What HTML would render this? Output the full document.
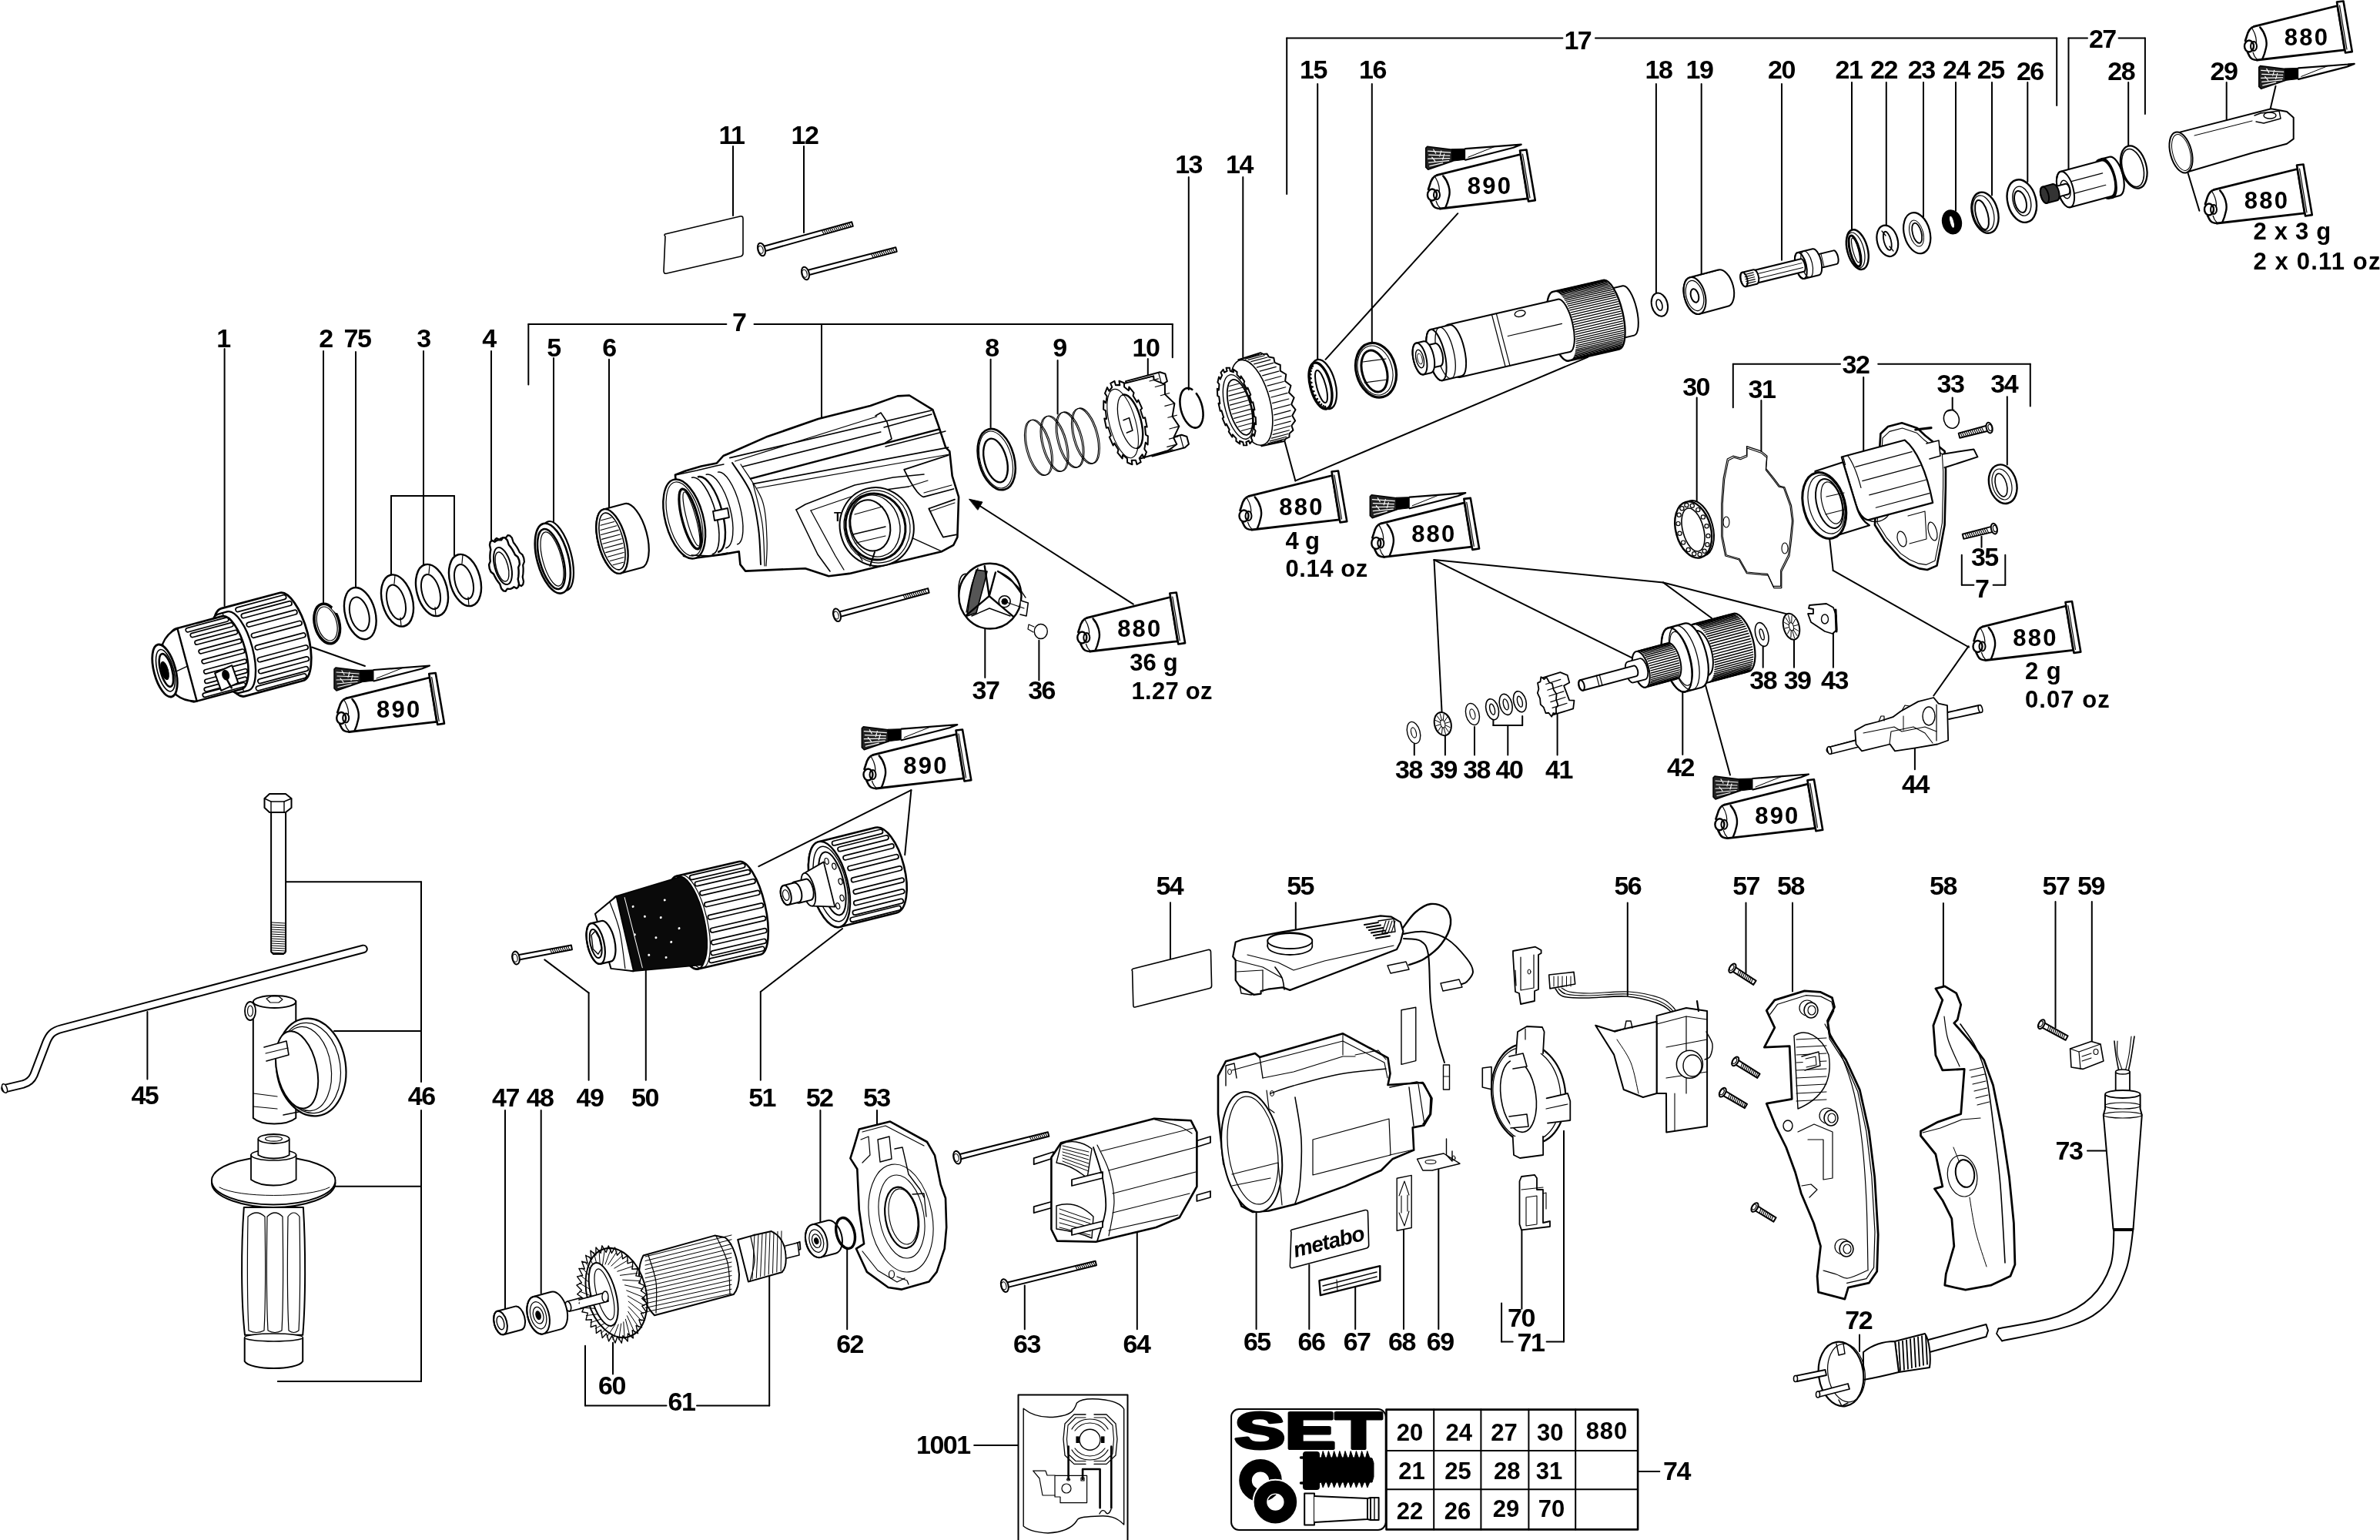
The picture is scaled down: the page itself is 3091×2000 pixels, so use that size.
<!DOCTYPE html>
<html><head><meta charset="utf-8"><style>
html,body{margin:0;padding:0;background:#fff;overflow:hidden}
svg{display:block;filter:grayscale(100%)}
text{font-family:"Liberation Sans",sans-serif}
</style></head><body>
<svg width="3091" height="2000" viewBox="0 0 3091 2000" stroke="#000" fill="none" stroke-linejoin="round" stroke-linecap="round">
<defs>
<symbol id="tube" overflow="visible">
 <path d="M-68.6,-24.6 L39.8,-51.5 L49.1,5.8 L-64.7,19" fill="none" stroke-width="2.8"/>
 <path d="M39,-56.5 L47.5,-57.5 L58.8,8.1 L50,9.5 Z" fill="#fff" stroke-width="2.6"/>
 <path d="M42.5,-52 L52,5" stroke-width="1.2"/>
 <path d="M-68.6,-24.6 C-73,-23.5 -76,-20 -78,-12 L-80,-6" fill="none" stroke-width="2.6"/>
 <path d="M-77,9 L-74.5,14 C-73,17 -70,19 -64.7,19" fill="none" stroke-width="2.6"/>
 <path d="M-60.8,-23.6 C-54,-16 -51,-5 -53,3 C-54.5,10 -56,14 -57.7,17.5" fill="none" stroke-width="2.4"/>
 <path d="M-71,-22 C-66,-14 -65,-6 -66,-2" fill="none" stroke-width="1.2"/>
 <path d="M-70,9 C-69,13 -67,16 -64.5,18.5" fill="none" stroke-width="1.2"/>
 <ellipse cx="-75" cy="1" rx="6" ry="7.5" fill="#fff" stroke-width="2.4"/>
 <ellipse cx="-69" cy="1" rx="4" ry="6" fill="none" stroke-width="2"/>
</symbol>
<symbol id="brush" overflow="visible">
 <path d="M0,2 L2,0 L34,4 L35,19 L3,30 L0,27 Z" fill="#222" stroke-width="1.5"/>
 <path d="M3,6 L32,8 M4,11 L31,12 M3,16 L31,15.5 M4,21 L30,18.5 M5,25.5 L22,21.5 M10,4 L13,9 M20,6 L18,13 M8,14 L12,19 M24,10 L22,17" stroke="#fff" stroke-width="1.2" fill="none"/>
 <path d="M34,3.5 L51.5,3 L51.5,17 L34.5,19 Z" fill="#000" stroke-width="1"/>
 <path d="M51.5,3 L124,-2.5 L113.8,1.5 L51.5,17.5" fill="#fff" stroke-width="2.2"/>
 <path d="M90,0 L55,14" fill="none" stroke-width="1"/>
</symbol>
</defs>
<rect x="0" y="0" width="3091" height="2000" fill="#fff" stroke="none"/>
<g class="lbl">
<text x="950" y="187" font-size="34" text-anchor="middle" letter-spacing="-1.5" font-weight="bold" stroke="none" fill="#000" >11</text>
<text x="1045" y="187" font-size="34" text-anchor="middle" letter-spacing="-1.5" font-weight="bold" stroke="none" fill="#000" >12</text>
<text x="1543.6" y="225" font-size="34" text-anchor="middle" letter-spacing="-1.5" font-weight="bold" stroke="none" fill="#000" >13</text>
<text x="1609.5" y="225" font-size="34" text-anchor="middle" letter-spacing="-1.5" font-weight="bold" stroke="none" fill="#000" >14</text>
<text x="1705.4" y="102.4" font-size="34" text-anchor="middle" letter-spacing="-1.5" font-weight="bold" stroke="none" fill="#000" >15</text>
<text x="1782.4" y="102.4" font-size="34" text-anchor="middle" letter-spacing="-1.5" font-weight="bold" stroke="none" fill="#000" >16</text>
<text x="2048.8" y="63.5" font-size="34" text-anchor="middle" letter-spacing="-1.5" font-weight="bold" stroke="none" fill="#000" >17</text>
<text x="2154" y="102.4" font-size="34" text-anchor="middle" letter-spacing="-1.5" font-weight="bold" stroke="none" fill="#000" >18</text>
<text x="2207" y="102.4" font-size="34" text-anchor="middle" letter-spacing="-1.5" font-weight="bold" stroke="none" fill="#000" >19</text>
<text x="2313.5" y="102.4" font-size="34" text-anchor="middle" letter-spacing="-1.5" font-weight="bold" stroke="none" fill="#000" >20</text>
<text x="2401" y="101.6" font-size="34" text-anchor="middle" letter-spacing="-1.5" font-weight="bold" stroke="none" fill="#000" >21</text>
<text x="2446.5" y="101.6" font-size="34" text-anchor="middle" letter-spacing="-1.5" font-weight="bold" stroke="none" fill="#000" >22</text>
<text x="2495.2" y="101.6" font-size="34" text-anchor="middle" letter-spacing="-1.5" font-weight="bold" stroke="none" fill="#000" >23</text>
<text x="2540.4" y="101.6" font-size="34" text-anchor="middle" letter-spacing="-1.5" font-weight="bold" stroke="none" fill="#000" >24</text>
<text x="2585.2" y="101.6" font-size="34" text-anchor="middle" letter-spacing="-1.5" font-weight="bold" stroke="none" fill="#000" >25</text>
<text x="2636.3" y="104" font-size="34" text-anchor="middle" letter-spacing="-1.5" font-weight="bold" stroke="none" fill="#000" >26</text>
<text x="2730.3" y="62" font-size="34" text-anchor="middle" letter-spacing="-1.5" font-weight="bold" stroke="none" fill="#000" >27</text>
<text x="2754.7" y="104" font-size="34" text-anchor="middle" letter-spacing="-1.5" font-weight="bold" stroke="none" fill="#000" >28</text>
<text x="2887.9" y="104" font-size="34" text-anchor="middle" letter-spacing="-1.5" font-weight="bold" stroke="none" fill="#000" >29</text>
<text x="290" y="450.6" font-size="34" text-anchor="middle" letter-spacing="-1.5" font-weight="bold" stroke="none" fill="#000" >1</text>
<text x="423" y="450.6" font-size="34" text-anchor="middle" letter-spacing="-1.5" font-weight="bold" stroke="none" fill="#000" >2</text>
<text x="464" y="450.6" font-size="34" text-anchor="middle" letter-spacing="-1.5" font-weight="bold" stroke="none" fill="#000" >75</text>
<text x="550" y="450.6" font-size="34" text-anchor="middle" letter-spacing="-1.5" font-weight="bold" stroke="none" fill="#000" >3</text>
<text x="635" y="450.6" font-size="34" text-anchor="middle" letter-spacing="-1.5" font-weight="bold" stroke="none" fill="#000" >4</text>
<text x="719" y="462.5" font-size="34" text-anchor="middle" letter-spacing="-1.5" font-weight="bold" stroke="none" fill="#000" >5</text>
<text x="791" y="462.5" font-size="34" text-anchor="middle" letter-spacing="-1.5" font-weight="bold" stroke="none" fill="#000" >6</text>
<text x="959.6" y="430" font-size="34" text-anchor="middle" letter-spacing="-1.5" font-weight="bold" stroke="none" fill="#000" >7</text>
<text x="1288" y="462.5" font-size="34" text-anchor="middle" letter-spacing="-1.5" font-weight="bold" stroke="none" fill="#000" >8</text>
<text x="1376" y="462.5" font-size="34" text-anchor="middle" letter-spacing="-1.5" font-weight="bold" stroke="none" fill="#000" >9</text>
<text x="1488" y="462.5" font-size="34" text-anchor="middle" letter-spacing="-1.5" font-weight="bold" stroke="none" fill="#000" >10</text>
<text x="2202.6" y="514" font-size="34" text-anchor="middle" letter-spacing="-1.5" font-weight="bold" stroke="none" fill="#000" >30</text>
<text x="2288" y="517" font-size="34" text-anchor="middle" letter-spacing="-1.5" font-weight="bold" stroke="none" fill="#000" >31</text>
<text x="2410" y="485" font-size="34" text-anchor="middle" letter-spacing="-1.5" font-weight="bold" stroke="none" fill="#000" >32</text>
<text x="2533" y="510" font-size="34" text-anchor="middle" letter-spacing="-1.5" font-weight="bold" stroke="none" fill="#000" >33</text>
<text x="2602.7" y="510" font-size="34" text-anchor="middle" letter-spacing="-1.5" font-weight="bold" stroke="none" fill="#000" >34</text>
<text x="2577.3" y="735" font-size="34" text-anchor="middle" letter-spacing="-1.5" font-weight="bold" stroke="none" fill="#000" >35</text>
<text x="2573.8" y="776" font-size="34" text-anchor="middle" letter-spacing="-1.5" font-weight="bold" stroke="none" fill="#000" >7</text>
<text x="1280" y="908" font-size="34" text-anchor="middle" letter-spacing="-1.5" font-weight="bold" stroke="none" fill="#000" >37</text>
<text x="1352.6" y="908" font-size="34" text-anchor="middle" letter-spacing="-1.5" font-weight="bold" stroke="none" fill="#000" >36</text>
<text x="1829.4" y="1011" font-size="34" text-anchor="middle" letter-spacing="-1.5" font-weight="bold" stroke="none" fill="#000" >38</text>
<text x="1874.4" y="1011" font-size="34" text-anchor="middle" letter-spacing="-1.5" font-weight="bold" stroke="none" fill="#000" >39</text>
<text x="1917.6" y="1011" font-size="34" text-anchor="middle" letter-spacing="-1.5" font-weight="bold" stroke="none" fill="#000" >38</text>
<text x="1960" y="1011" font-size="34" text-anchor="middle" letter-spacing="-1.5" font-weight="bold" stroke="none" fill="#000" >40</text>
<text x="2024.4" y="1011" font-size="34" text-anchor="middle" letter-spacing="-1.5" font-weight="bold" stroke="none" fill="#000" >41</text>
<text x="2182.5" y="1008" font-size="34" text-anchor="middle" letter-spacing="-1.5" font-weight="bold" stroke="none" fill="#000" >42</text>
<text x="2289.7" y="894.7" font-size="34" text-anchor="middle" letter-spacing="-1.5" font-weight="bold" stroke="none" fill="#000" >38</text>
<text x="2334.1" y="894.7" font-size="34" text-anchor="middle" letter-spacing="-1.5" font-weight="bold" stroke="none" fill="#000" >39</text>
<text x="2382.4" y="894.7" font-size="34" text-anchor="middle" letter-spacing="-1.5" font-weight="bold" stroke="none" fill="#000" >43</text>
<text x="2487.4" y="1029.6" font-size="34" text-anchor="middle" letter-spacing="-1.5" font-weight="bold" stroke="none" fill="#000" >44</text>
<text x="187.8" y="1433.7" font-size="34" text-anchor="middle" letter-spacing="-1.5" font-weight="bold" stroke="none" fill="#000" >45</text>
<text x="547.2" y="1435" font-size="34" text-anchor="middle" letter-spacing="-1.5" font-weight="bold" stroke="none" fill="#000" >46</text>
<text x="656.5" y="1436.5" font-size="34" text-anchor="middle" letter-spacing="-1.5" font-weight="bold" stroke="none" fill="#000" >47</text>
<text x="701.1" y="1436.5" font-size="34" text-anchor="middle" letter-spacing="-1.5" font-weight="bold" stroke="none" fill="#000" >48</text>
<text x="766" y="1436.5" font-size="34" text-anchor="middle" letter-spacing="-1.5" font-weight="bold" stroke="none" fill="#000" >49</text>
<text x="837.5" y="1436.5" font-size="34" text-anchor="middle" letter-spacing="-1.5" font-weight="bold" stroke="none" fill="#000" >50</text>
<text x="989.6" y="1436.5" font-size="34" text-anchor="middle" letter-spacing="-1.5" font-weight="bold" stroke="none" fill="#000" >51</text>
<text x="1064.1" y="1436.5" font-size="34" text-anchor="middle" letter-spacing="-1.5" font-weight="bold" stroke="none" fill="#000" >52</text>
<text x="1138.3" y="1436.5" font-size="34" text-anchor="middle" letter-spacing="-1.5" font-weight="bold" stroke="none" fill="#000" >53</text>
<text x="1518.8" y="1162.4" font-size="34" text-anchor="middle" letter-spacing="-1.5" font-weight="bold" stroke="none" fill="#000" >54</text>
<text x="1688.6" y="1162.4" font-size="34" text-anchor="middle" letter-spacing="-1.5" font-weight="bold" stroke="none" fill="#000" >55</text>
<text x="2113.8" y="1161.6" font-size="34" text-anchor="middle" letter-spacing="-1.5" font-weight="bold" stroke="none" fill="#000" >56</text>
<text x="2267.6" y="1161.6" font-size="34" text-anchor="middle" letter-spacing="-1.5" font-weight="bold" stroke="none" fill="#000" >57</text>
<text x="2325.5" y="1161.6" font-size="34" text-anchor="middle" letter-spacing="-1.5" font-weight="bold" stroke="none" fill="#000" >58</text>
<text x="2523.4" y="1161.6" font-size="34" text-anchor="middle" letter-spacing="-1.5" font-weight="bold" stroke="none" fill="#000" >58</text>
<text x="2670" y="1162" font-size="34" text-anchor="middle" letter-spacing="-1.5" font-weight="bold" stroke="none" fill="#000" >57</text>
<text x="2715.4" y="1162" font-size="34" text-anchor="middle" letter-spacing="-1.5" font-weight="bold" stroke="none" fill="#000" >59</text>
<text x="2687" y="1506.4" font-size="34" text-anchor="middle" letter-spacing="-1.5" font-weight="bold" stroke="none" fill="#000" >73</text>
<text x="794.4" y="1810.5" font-size="34" text-anchor="middle" letter-spacing="-1.5" font-weight="bold" stroke="none" fill="#000" >60</text>
<text x="884.9" y="1832.3" font-size="34" text-anchor="middle" letter-spacing="-1.5" font-weight="bold" stroke="none" fill="#000" >61</text>
<text x="1103.6" y="1756.5" font-size="34" text-anchor="middle" letter-spacing="-1.5" font-weight="bold" stroke="none" fill="#000" >62</text>
<text x="1333.4" y="1756.5" font-size="34" text-anchor="middle" letter-spacing="-1.5" font-weight="bold" stroke="none" fill="#000" >63</text>
<text x="1475.9" y="1756.5" font-size="34" text-anchor="middle" letter-spacing="-1.5" font-weight="bold" stroke="none" fill="#000" >64</text>
<text x="1632.3" y="1753.7" font-size="34" text-anchor="middle" letter-spacing="-1.5" font-weight="bold" stroke="none" fill="#000" >65</text>
<text x="1703" y="1753.7" font-size="34" text-anchor="middle" letter-spacing="-1.5" font-weight="bold" stroke="none" fill="#000" >66</text>
<text x="1762.1" y="1753.7" font-size="34" text-anchor="middle" letter-spacing="-1.5" font-weight="bold" stroke="none" fill="#000" >67</text>
<text x="1820.5" y="1753.7" font-size="34" text-anchor="middle" letter-spacing="-1.5" font-weight="bold" stroke="none" fill="#000" >68</text>
<text x="1870.2" y="1753.7" font-size="34" text-anchor="middle" letter-spacing="-1.5" font-weight="bold" stroke="none" fill="#000" >69</text>
<text x="1975.4" y="1723" font-size="34" text-anchor="middle" letter-spacing="-1.5" font-weight="bold" stroke="none" fill="#000" >70</text>
<text x="1988" y="1755" font-size="34" text-anchor="middle" letter-spacing="-1.5" font-weight="bold" stroke="none" fill="#000" >71</text>
<text x="2413.7" y="1726" font-size="34" text-anchor="middle" letter-spacing="-1.5" font-weight="bold" stroke="none" fill="#000" >72</text>
<text x="1224.8" y="1888.3" font-size="34" text-anchor="middle" letter-spacing="-1.5" font-weight="bold" stroke="none" fill="#000" >1001</text>
<text x="2177.4" y="1922.3" font-size="34" text-anchor="middle" letter-spacing="-1.5" font-weight="bold" stroke="none" fill="#000" >74</text>
<text x="1669.4" y="713.3" font-size="31" text-anchor="start" letter-spacing="0" font-weight="bold" stroke="none" fill="#000" textLength="44.6" lengthAdjust="spacing">4 g</text>
<text x="1669.4" y="748.6" font-size="31" text-anchor="start" letter-spacing="0" font-weight="bold" stroke="none" fill="#000" textLength="106.9" lengthAdjust="spacing">0.14 oz</text>
<text x="1467.2" y="870.6" font-size="31" text-anchor="start" letter-spacing="0" font-weight="bold" stroke="none" fill="#000" textLength="62.5" lengthAdjust="spacing">36 g</text>
<text x="1469.6" y="908" font-size="31" text-anchor="start" letter-spacing="0" font-weight="bold" stroke="none" fill="#000" textLength="104.9" lengthAdjust="spacing">1.27 oz</text>
<text x="2630" y="882" font-size="31" text-anchor="start" letter-spacing="0" font-weight="bold" stroke="none" fill="#000" textLength="46.7" lengthAdjust="spacing">2 g</text>
<text x="2630" y="919" font-size="31" text-anchor="start" letter-spacing="0" font-weight="bold" stroke="none" fill="#000" textLength="109.7" lengthAdjust="spacing">0.07 oz</text>
<text x="2926.4" y="311" font-size="31" text-anchor="start" letter-spacing="0" font-weight="bold" stroke="none" fill="#000" textLength="100.7" lengthAdjust="spacing">2 x 3 g</text>
<text x="2926.4" y="350" font-size="31" text-anchor="start" letter-spacing="0" font-weight="bold" stroke="none" fill="#000" textLength="165.0" lengthAdjust="spacing">2 x 0.11 oz</text>
</g>
<line x1="952" y1="190" x2="952" y2="280" stroke-width="2" />
<line x1="1044" y1="190" x2="1044" y2="302" stroke-width="2" />
<line x1="1543.8" y1="230" x2="1543.8" y2="505.9" stroke-width="2" />
<line x1="1614.3" y1="230" x2="1614.3" y2="464" stroke-width="2" />
<line x1="1711.2" y1="109" x2="1711.2" y2="468" stroke-width="2" />
<line x1="1781.8" y1="109" x2="1781.8" y2="446.6" stroke-width="2" />
<line x1="2150.9" y1="109" x2="2150.9" y2="380.6" stroke-width="2" />
<line x1="2209.7" y1="109" x2="2209.7" y2="357.9" stroke-width="2" />
<line x1="2314" y1="109" x2="2314" y2="337.7" stroke-width="2" />
<line x1="2405" y1="107" x2="2405" y2="297.6" stroke-width="2" />
<line x1="2449.8" y1="107" x2="2449.8" y2="293.9" stroke-width="2" />
<line x1="2498" y1="107" x2="2498" y2="281.2" stroke-width="2" />
<line x1="2540" y1="107" x2="2540" y2="273.7" stroke-width="2" />
<line x1="2587" y1="107" x2="2587" y2="253.5" stroke-width="2" />
<line x1="2633.3" y1="107" x2="2633.3" y2="235.9" stroke-width="2" />
<line x1="2764.2" y1="107" x2="2764.2" y2="190.5" stroke-width="2" />
<line x1="2891.7" y1="107" x2="2891.7" y2="155.2" stroke-width="2" />
<line x1="1671.2" y1="49.5" x2="2029.4" y2="49.5" stroke-width="2" />
<line x1="2072" y1="49.5" x2="2671.2" y2="49.5" stroke-width="2" />
<line x1="1671.2" y1="49.5" x2="1671.2" y2="252" stroke-width="2" />
<line x1="2671.2" y1="49.5" x2="2671.2" y2="137" stroke-width="2" />
<line x1="2686.5" y1="49.5" x2="2711" y2="49.5" stroke-width="2" />
<line x1="2751.6" y1="49.5" x2="2785.9" y2="49.5" stroke-width="2" />
<line x1="2686.5" y1="49.5" x2="2686.5" y2="219.5" stroke-width="2" />
<line x1="2785.9" y1="49.5" x2="2785.9" y2="148" stroke-width="2" />
<line x1="2955.5" y1="111.8" x2="2947.2" y2="147.6" stroke-width="2" />
<line x1="2835" y1="203" x2="2856.4" y2="273.7" stroke-width="2" />
<line x1="291.6" y1="453" x2="291.6" y2="787" stroke-width="2" />
<line x1="420" y1="456" x2="420" y2="784" stroke-width="2" />
<line x1="462" y1="457" x2="462" y2="764" stroke-width="2" />
<line x1="550" y1="456" x2="550" y2="735" stroke-width="2" />
<line x1="508" y1="644" x2="590" y2="644" stroke-width="2" />
<line x1="508" y1="644" x2="508" y2="748" stroke-width="2" />
<line x1="590" y1="644" x2="590" y2="722" stroke-width="2" />
<line x1="638" y1="456" x2="638" y2="705" stroke-width="2" />
<line x1="719" y1="465" x2="719" y2="677.3" stroke-width="2" />
<line x1="791" y1="466.8" x2="791" y2="658.4" stroke-width="2" />
<line x1="686.3" y1="421" x2="943.4" y2="421" stroke-width="2" />
<line x1="979.5" y1="421" x2="1522.8" y2="421" stroke-width="2" />
<line x1="686.3" y1="421" x2="686.3" y2="499.6" stroke-width="2" />
<line x1="1522.8" y1="421" x2="1522.8" y2="464.3" stroke-width="2" />
<line x1="1067" y1="421" x2="1067" y2="542.4" stroke-width="2" />
<line x1="1286.6" y1="466.8" x2="1286.6" y2="555" stroke-width="2" />
<line x1="1373.6" y1="468" x2="1373.6" y2="537.4" stroke-width="2" />
<line x1="1490.8" y1="466" x2="1490.8" y2="504.6" stroke-width="2" />
<line x1="1893.3" y1="277.2" x2="1721.5" y2="466.8" stroke-width="2" />
<line x1="1666" y1="563.9" x2="1682.4" y2="624.4" stroke-width="2" />
<line x1="1682.4" y1="624.4" x2="2062" y2="463.8" stroke-width="2" />
<line x1="1471.8" y1="784.7" x2="1262" y2="650.3" stroke-width="2" />
<line x1="405" y1="840.5" x2="474" y2="865" stroke-width="2" />
<line x1="2203.7" y1="516.5" x2="2203.7" y2="654" stroke-width="2" />
<line x1="2287.4" y1="520" x2="2287.4" y2="586" stroke-width="2" />
<line x1="2420.2" y1="490" x2="2420.2" y2="586" stroke-width="2" />
<line x1="2250.8" y1="472.8" x2="2390" y2="472.8" stroke-width="2" />
<line x1="2439.2" y1="472.8" x2="2636.8" y2="472.8" stroke-width="2" />
<line x1="2250.8" y1="472.8" x2="2250.8" y2="529.2" stroke-width="2" />
<line x1="2636.8" y1="472.8" x2="2636.8" y2="527.4" stroke-width="2" />
<line x1="2535.7" y1="516.6" x2="2535.7" y2="533" stroke-width="2" />
<line x1="2606.8" y1="515.3" x2="2606.8" y2="603.5" stroke-width="2" />
<line x1="2573.5" y1="696.8" x2="2573.5" y2="710.7" stroke-width="2" />
<line x1="2547.8" y1="720.7" x2="2547.8" y2="759.8" stroke-width="2" />
<line x1="2547.8" y1="759.8" x2="2563.4" y2="759.8" stroke-width="2" />
<line x1="2588.6" y1="759.8" x2="2604.3" y2="759.8" stroke-width="2" />
<line x1="2604.3" y1="720.7" x2="2604.3" y2="759.8" stroke-width="2" />
<line x1="2371.8" y1="660.2" x2="2380.7" y2="740.9" stroke-width="2" />
<line x1="2380.7" y1="740.9" x2="2557" y2="840.5" stroke-width="2" />
<line x1="2556.7" y1="839.2" x2="2511.3" y2="903.5" stroke-width="2" />
<line x1="1862.5" y1="727.1" x2="1872.6" y2="925" stroke-width="2" />
<line x1="1862.5" y1="727.1" x2="2119.6" y2="854.4" stroke-width="2" />
<line x1="1862.5" y1="727.1" x2="2160" y2="756.5" stroke-width="2" />
<line x1="2160" y1="756.5" x2="2223" y2="802.7" stroke-width="2" />
<line x1="2160" y1="756.5" x2="2326.5" y2="798.9" stroke-width="2" />
<line x1="1836.8" y1="965.4" x2="1836.8" y2="980.5" stroke-width="2" />
<line x1="1876.9" y1="955.3" x2="1876.9" y2="980.5" stroke-width="2" />
<line x1="1915" y1="944" x2="1915" y2="980.5" stroke-width="2" />
<line x1="1958.3" y1="942" x2="1958.3" y2="980.5" stroke-width="2" />
<line x1="1939.4" y1="942" x2="1977.2" y2="942" stroke-width="2" />
<line x1="1939.4" y1="942" x2="1939.4" y2="935" stroke-width="2" />
<line x1="1977.2" y1="942" x2="1977.2" y2="930" stroke-width="2" />
<line x1="2022.6" y1="925" x2="2022.6" y2="980.5" stroke-width="2" />
<line x1="2185.3" y1="881.5" x2="2185.3" y2="980" stroke-width="2" />
<line x1="2214.7" y1="888.8" x2="2247" y2="1006.5" stroke-width="2" />
<line x1="2289.7" y1="838.8" x2="2289.7" y2="866.8" stroke-width="2" />
<line x1="2330" y1="830" x2="2330" y2="866.8" stroke-width="2" />
<line x1="2380.9" y1="821.2" x2="2380.9" y2="866.8" stroke-width="2" />
<line x1="2486.9" y1="970.3" x2="2486.9" y2="999.3" stroke-width="2" />
<line x1="1279.3" y1="817.6" x2="1279.3" y2="880" stroke-width="2" />
<line x1="1349.4" y1="831.8" x2="1349.4" y2="883.5" stroke-width="2" />
<line x1="191.4" y1="1314" x2="191.4" y2="1401.6" stroke-width="2" />
<line x1="371.1" y1="1145.3" x2="547" y2="1145.3" stroke-width="2" />
<line x1="547" y1="1145.3" x2="547" y2="1405" stroke-width="2" />
<line x1="547" y1="1442" x2="547" y2="1794" stroke-width="2" />
<line x1="434" y1="1339" x2="547" y2="1339" stroke-width="2" />
<line x1="435.3" y1="1540.7" x2="547" y2="1540.7" stroke-width="2" />
<line x1="360.8" y1="1794" x2="547" y2="1794" stroke-width="2" />
<line x1="656" y1="1442" x2="656" y2="1702.8" stroke-width="2" />
<line x1="702.7" y1="1442" x2="702.7" y2="1679.6" stroke-width="2" />
<line x1="764.6" y1="1402.7" x2="764.6" y2="1289.4" stroke-width="2" />
<line x1="764.6" y1="1289.4" x2="707.3" y2="1246.4" stroke-width="2" />
<line x1="838.8" y1="1402.7" x2="838.8" y2="1258.1" stroke-width="2" />
<line x1="987.8" y1="1402.7" x2="987.8" y2="1288" stroke-width="2" />
<line x1="987.8" y1="1288" x2="1094.1" y2="1206" stroke-width="2" />
<line x1="1183.4" y1="1026.1" x2="985.4" y2="1125.2" stroke-width="2" />
<line x1="1183.4" y1="1026.1" x2="1175.2" y2="1110.2" stroke-width="2" />
<line x1="1065.4" y1="1442" x2="1065.4" y2="1586.4" stroke-width="2" />
<line x1="1139" y1="1442" x2="1139" y2="1459.8" stroke-width="2" />
<line x1="796" y1="1743.7" x2="796" y2="1784.6" stroke-width="2" />
<line x1="760" y1="1747.8" x2="760" y2="1825.5" stroke-width="2" />
<line x1="760" y1="1825.5" x2="865.5" y2="1825.5" stroke-width="2" />
<line x1="905" y1="1825.5" x2="999.2" y2="1825.5" stroke-width="2" />
<line x1="999.2" y1="1825.5" x2="999.2" y2="1653.7" stroke-width="2" />
<line x1="1100.2" y1="1621.7" x2="1100.2" y2="1726.3" stroke-width="2" />
<line x1="1330.8" y1="1669.6" x2="1330.8" y2="1726.3" stroke-width="2" />
<line x1="1476.8" y1="1598.5" x2="1476.8" y2="1726.3" stroke-width="2" />
<line x1="1631.6" y1="1574.9" x2="1631.6" y2="1726" stroke-width="2" />
<line x1="1700.3" y1="1642.7" x2="1700.3" y2="1726" stroke-width="2" />
<line x1="1760.2" y1="1671.9" x2="1760.2" y2="1726" stroke-width="2" />
<line x1="1823" y1="1597.4" x2="1823" y2="1726" stroke-width="2" />
<line x1="1868.3" y1="1518.5" x2="1868.3" y2="1726" stroke-width="2" />
<line x1="1976.4" y1="1597.4" x2="1976.4" y2="1699.7" stroke-width="2" />
<line x1="1950.1" y1="1692.4" x2="1950.1" y2="1742.6" stroke-width="2" />
<line x1="1950.1" y1="1742.6" x2="1964.7" y2="1742.6" stroke-width="2" />
<line x1="2008.6" y1="1742.6" x2="2031" y2="1742.6" stroke-width="2" />
<line x1="2031" y1="1742.6" x2="2031" y2="1468.8" stroke-width="2" />
<line x1="1520" y1="1172.2" x2="1520" y2="1244.7" stroke-width="2" />
<line x1="1682.8" y1="1172.2" x2="1682.8" y2="1205.9" stroke-width="2" />
<line x1="2113.8" y1="1172.4" x2="2113.8" y2="1292.7" stroke-width="2" />
<line x1="2267.5" y1="1172.4" x2="2267.5" y2="1263.7" stroke-width="2" />
<line x1="2328" y1="1172.4" x2="2328" y2="1287.6" stroke-width="2" />
<line x1="2523.9" y1="1173" x2="2523.9" y2="1281.3" stroke-width="2" />
<line x1="2669.5" y1="1171" x2="2669.5" y2="1334.5" stroke-width="2" />
<line x1="2716.8" y1="1171" x2="2716.8" y2="1352.7" stroke-width="2" />
<line x1="2711" y1="1494.5" x2="2736.4" y2="1494.5" stroke-width="2" />
<line x1="2415" y1="1733.6" x2="2415" y2="1755" stroke-width="2" />
<line x1="1265.2" y1="1877" x2="1322" y2="1877" stroke-width="2" />
<line x1="2127.1" y1="1910.9" x2="2155.3" y2="1910.9" stroke-width="2" />
<path d="M1258.9,648.3 L1276,652 L1270,662 Z" stroke-width="1" fill="#000" />
<use href="#tube" x="518.2" y="931.5"/>
<text x="518.2" y="931.5" font-size="31" text-anchor="middle" letter-spacing="2.2" font-weight="bold" stroke="none" fill="#000" >890</text>
<use href="#tube" x="1935" y="252"/>
<text x="1935" y="252" font-size="31" text-anchor="middle" letter-spacing="2.2" font-weight="bold" stroke="none" fill="#000" >890</text>
<use href="#tube" x="1690.5" y="669"/>
<text x="1690.5" y="669" font-size="31" text-anchor="middle" letter-spacing="2.2" font-weight="bold" stroke="none" fill="#000" >880</text>
<use href="#tube" x="1862.3" y="704.4"/>
<text x="1862.3" y="704.4" font-size="31" text-anchor="middle" letter-spacing="2.2" font-weight="bold" stroke="none" fill="#000" >880</text>
<use href="#tube" x="1480.3" y="827"/>
<text x="1480.3" y="827" font-size="31" text-anchor="middle" letter-spacing="2.2" font-weight="bold" stroke="none" fill="#000" >880</text>
<use href="#tube" x="1202.5" y="1005"/>
<text x="1202.5" y="1005" font-size="31" text-anchor="middle" letter-spacing="2.2" font-weight="bold" stroke="none" fill="#000" >890</text>
<use href="#tube" x="2308.4" y="1069.7"/>
<text x="2308.4" y="1069.7" font-size="31" text-anchor="middle" letter-spacing="2.2" font-weight="bold" stroke="none" fill="#000" >890</text>
<use href="#tube" x="2643.5" y="838.5"/>
<text x="2643.5" y="838.5" font-size="31" text-anchor="middle" letter-spacing="2.2" font-weight="bold" stroke="none" fill="#000" >880</text>
<use href="#tube" x="2996" y="59"/>
<text x="2996" y="59" font-size="31" text-anchor="middle" letter-spacing="2.2" font-weight="bold" stroke="none" fill="#000" >880</text>
<use href="#tube" x="2944" y="271"/>
<text x="2944" y="271" font-size="31" text-anchor="middle" letter-spacing="2.2" font-weight="bold" stroke="none" fill="#000" >880</text>
<use href="#brush" x="434" y="867"/>
<use href="#brush" x="1851.7" y="190.2"/>
<use href="#brush" x="1779.3" y="642.7"/>
<use href="#brush" x="1119.3" y="943.7"/>
<use href="#brush" x="2225" y="1008"/>
<use href="#brush" x="2933.7" y="85.4"/>
<g transform="translate(214,871) rotate(-15)">
<path d="M92,-59 L170,-59 A21.8,59 0 0 1 170,59 L92,59 A21.8,59 0 0 1 92,-59 Z" stroke-width="2.8" fill="#fff" />
<line x1="112.2" y1="-52.1" x2="174.2" y2="-52.1" stroke-width="7.5" />
<line x1="112.2" y1="-52.1" x2="174.2" y2="-52.1" stroke-width="4.1" stroke="#fff"/>
<line x1="117.2" y1="-42.4" x2="179.2" y2="-42.4" stroke-width="7.5" />
<line x1="117.2" y1="-42.4" x2="179.2" y2="-42.4" stroke-width="4.1" stroke="#fff"/>
<line x1="120.9" y1="-29.5" x2="182.9" y2="-29.5" stroke-width="7.5" />
<line x1="120.9" y1="-29.5" x2="182.9" y2="-29.5" stroke-width="4.1" stroke="#fff"/>
<line x1="123.2" y1="-14.3" x2="185.2" y2="-14.3" stroke-width="7.5" />
<line x1="123.2" y1="-14.3" x2="185.2" y2="-14.3" stroke-width="4.1" stroke="#fff"/>
<line x1="123.8" y1="2.1" x2="185.8" y2="2.1" stroke-width="7.5" />
<line x1="123.8" y1="2.1" x2="185.8" y2="2.1" stroke-width="4.1" stroke="#fff"/>
<line x1="122.8" y1="18.2" x2="184.8" y2="18.2" stroke-width="7.5" />
<line x1="122.8" y1="18.2" x2="184.8" y2="18.2" stroke-width="4.1" stroke="#fff"/>
<line x1="120.1" y1="33" x2="182.1" y2="33" stroke-width="7.5" />
<line x1="120.1" y1="33" x2="182.1" y2="33" stroke-width="4.1" stroke="#fff"/>
<line x1="116" y1="45.2" x2="178" y2="45.2" stroke-width="7.5" />
<line x1="116" y1="45.2" x2="178" y2="45.2" stroke-width="4.1" stroke="#fff"/>
<line x1="111.2" y1="53.5" x2="173.2" y2="53.5" stroke-width="7.5" />
<line x1="111.2" y1="53.5" x2="173.2" y2="53.5" stroke-width="4.1" stroke="#fff"/>
<path d="M86,-53 L98,-53 A19.6,53 0 0 1 98,53 L86,53 A19.6,53 0 0 1 86,-53 Z" stroke-width="2.4" fill="#fff" />
<line x1="92" y1="-53" x2="92" y2="53" stroke-width="1.2" />
<path d="M28,-49 L90,-49 A18.1,49 0 0 1 90,49 L28,49 A18.1,49 0 0 1 28,-49 Z" stroke-width="2.6" fill="#fff" />
<line x1="42.5" y1="-43.3" x2="94.5" y2="-43.3" stroke-width="7" />
<line x1="42.5" y1="-43.3" x2="94.5" y2="-43.3" stroke-width="3.6" stroke="#fff"/>
<line x1="46.6" y1="-35.2" x2="98.6" y2="-35.2" stroke-width="7" />
<line x1="46.6" y1="-35.2" x2="98.6" y2="-35.2" stroke-width="3.6" stroke="#fff"/>
<line x1="49.7" y1="-24.5" x2="101.7" y2="-24.5" stroke-width="7" />
<line x1="49.7" y1="-24.5" x2="101.7" y2="-24.5" stroke-width="3.6" stroke="#fff"/>
<line x1="51.6" y1="-11.9" x2="103.6" y2="-11.9" stroke-width="7" />
<line x1="51.6" y1="-11.9" x2="103.6" y2="-11.9" stroke-width="3.6" stroke="#fff"/>
<line x1="52.1" y1="1.7" x2="104.1" y2="1.7" stroke-width="7" />
<line x1="52.1" y1="1.7" x2="104.1" y2="1.7" stroke-width="3.6" stroke="#fff"/>
<line x1="51.2" y1="15.1" x2="103.2" y2="15.1" stroke-width="7" />
<line x1="51.2" y1="15.1" x2="103.2" y2="15.1" stroke-width="3.6" stroke="#fff"/>
<line x1="49" y1="27.4" x2="101" y2="27.4" stroke-width="7" />
<line x1="49" y1="27.4" x2="101" y2="27.4" stroke-width="3.6" stroke="#fff"/>
<line x1="45.7" y1="37.5" x2="97.7" y2="37.5" stroke-width="7" />
<line x1="45.7" y1="37.5" x2="97.7" y2="37.5" stroke-width="3.6" stroke="#fff"/>
<line x1="41.9" y1="44" x2="93.9" y2="44" stroke-width="7" />
<line x1="41.9" y1="44" x2="93.9" y2="44" stroke-width="3.6" stroke="#fff"/>
<path d="M62,20 L86,16 L88,40 L64,44 Z" stroke-width="2" fill="#fff" />
<ellipse cx="75" cy="26" rx="4" ry="6" stroke-width="1.8" fill="#000" />
<line x1="75" y1="32" x2="78" y2="44" stroke-width="2.5" />
<path d="M6,-34 C12,-42 20,-47 30,-49 L30,49 C20,47 12,42 6,34 Z" stroke-width="2.4" fill="#fff" />
<line x1="8" y1="6" x2="30" y2="2" stroke-width="1.4" />
<ellipse cx="0" cy="0" rx="14" ry="35" stroke-width="2.8" fill="#fff" />
<ellipse cx="1" cy="0" rx="10.5" ry="28" stroke-width="1.6" fill="none" />
<ellipse cx="2" cy="0" rx="7.5" ry="22" stroke-width="2.6" fill="none" />
<ellipse cx="0" cy="0" rx="4.5" ry="12" stroke-width="1" fill="#000" />
</g>
<ellipse cx="424.7" cy="810" rx="15.9" ry="26.3" stroke-width="3.6" fill="none" transform="rotate(-15 424.7 810)" />
<ellipse cx="424.7" cy="810" rx="12.6" ry="22.5" stroke-width="1.2" fill="none" transform="rotate(-15 424.7 810)" />
<path d="M433,790 L437,794" stroke-width="4" fill="none" stroke="#fff"/>
<ellipse cx="467.8" cy="796.6" rx="19.5" ry="34.4" stroke-width="2.4" fill="#fff" transform="rotate(-15 467.8 796.6)" />
<ellipse cx="466.8" cy="797.6" rx="12" ry="22.5" stroke-width="2" fill="none" transform="rotate(-15 466.8 797.6)" />
<ellipse cx="516" cy="780" rx="19.7" ry="34.4" stroke-width="2.4" fill="#fff" transform="rotate(-15 516 780)" />
<ellipse cx="514.5" cy="782" rx="11.4" ry="23.1" stroke-width="2" fill="none" transform="rotate(-15 514.5 782)" />
<line x1="513" y1="747" x2="512" y2="758" stroke-width="1.2" />
<line x1="520" y1="802" x2="521" y2="813" stroke-width="1.2" />
<ellipse cx="561" cy="766.5" rx="19.7" ry="34.4" stroke-width="2.4" fill="#fff" transform="rotate(-15 561 766.5)" />
<ellipse cx="559.5" cy="768.5" rx="11.4" ry="23.1" stroke-width="2" fill="none" transform="rotate(-15 559.5 768.5)" />
<line x1="558" y1="733.5" x2="557" y2="744.5" stroke-width="1.2" />
<line x1="565" y1="788.5" x2="566" y2="799.5" stroke-width="1.2" />
<ellipse cx="604" cy="753.5" rx="19.7" ry="34.4" stroke-width="2.4" fill="#fff" transform="rotate(-15 604 753.5)" />
<ellipse cx="602.5" cy="755.5" rx="11.4" ry="23.1" stroke-width="2" fill="none" transform="rotate(-15 602.5 755.5)" />
<line x1="601" y1="720.5" x2="600" y2="731.5" stroke-width="1.2" />
<line x1="608" y1="775.5" x2="609" y2="786.5" stroke-width="1.2" />
<path d="M680.3,724.8 L680.9,729.7 L679.2,733.9 L679.6,738 L679.6,741.9 L679.3,745.7 L678.7,749.2 L680,755.3 L679.2,759.2 L677,761.1 L673.5,759.3 L671.6,760.7 L669.5,761.6 L667.2,761.9 L664.9,761.6 L662.6,764.9 L659.9,764.4 L657.1,761.4 L655.2,755.5 L653,752.7 L650.8,749.6 L648.9,746.2 L647.1,742.5 L643.6,739.7 L641.7,735.2 L641.1,730.3 L642.8,726.1 L642.4,722 L642.4,718.1 L642.7,714.3 L643.3,710.8 L642,704.7 L642.8,700.8 L645,698.9 L648.5,700.7 L650.4,699.3 L652.5,698.4 L654.8,698.1 L657.1,698.4 L659.4,695.1 L662.1,695.6 L664.9,698.6 L666.8,704.5 L669,707.3 L671.2,710.4 L673.1,713.8 L674.9,717.5 L678.4,720.3 Z" stroke-width="2.2" fill="#fff" />
<path d="M674.3,727.8 L674.9,732.7 L673.2,736.9 L673.6,741 L673.6,744.9 L673.3,748.7 L672.7,752.2 L674,758.3 L673.2,762.2 L671,764.1 L667.5,762.3 L665.6,763.7 L663.5,764.6 L661.2,764.9 L658.9,764.6 L656.6,767.9 L653.9,767.4 L651.1,764.4 L649.2,758.5 L647,755.7 L644.8,752.6 L642.9,749.2 L641.1,745.5 L637.6,742.7 L635.7,738.2 L635.1,733.3 L636.8,729.1 L636.4,725 L636.4,721.1 L636.7,717.3 L637.3,713.8 L636,707.7 L636.8,703.8 L639,701.9 L642.5,703.7 L644.4,702.3 L646.5,701.4 L648.8,701.1 L651.1,701.4 L653.4,698.1 L656.1,698.6 L658.9,701.6 L660.8,707.5 L663,710.3 L665.2,713.4 L667.1,716.8 L668.9,720.5 L672.4,723.3 Z" stroke-width="2.4" fill="#fff" />
<ellipse cx="653" cy="735" rx="10.5" ry="24.7" stroke-width="2" fill="none" transform="rotate(-15 653 735)" />
<ellipse cx="652" cy="736" rx="7.7" ry="19.6" stroke-width="1.4" fill="none" transform="rotate(-15 652 736)" />
<ellipse cx="724" cy="722" rx="17.8" ry="46.3" stroke-width="2.2" fill="#fff" transform="rotate(-15 724 722)" />
<ellipse cx="717.8" cy="725.2" rx="20.3" ry="46.7" stroke-width="2.6" fill="#fff" transform="rotate(-15 717.8 725.2)" />
<ellipse cx="716" cy="726" rx="15.2" ry="40.2" stroke-width="2.6" fill="none" transform="rotate(-15 716 726)" />
<ellipse cx="717" cy="726" rx="12.2" ry="36.1" stroke-width="1.2" fill="none" transform="rotate(-15 717 726)" />
<g transform="translate(795,703) rotate(-15)">
<path d="M0,-43 L28,-43 A18.1,43 0 0 1 28,43 L0,43 A18.1,43 0 0 1 0,-43 Z" stroke-width="2.2" fill="#fff" />
<ellipse cx="0" cy="0" rx="18" ry="43" stroke-width="2.4" fill="#fff" />
<ellipse cx="0" cy="0" rx="14.5" ry="38" stroke-width="1.6" fill="#fff" />
<line x1="-6.9" y1="-30" x2="6.9" y2="-30" stroke-width="1.1" />
<line x1="-9.2" y1="-24" x2="9.2" y2="-24" stroke-width="1.1" />
<line x1="-10.8" y1="-18" x2="10.8" y2="-18" stroke-width="1.1" />
<line x1="-11.8" y1="-12" x2="11.8" y2="-12" stroke-width="1.1" />
<line x1="-12.3" y1="-6" x2="12.3" y2="-6" stroke-width="1.1" />
<line x1="-12.5" y1="0" x2="12.5" y2="0" stroke-width="1.1" />
<line x1="-12.3" y1="6" x2="12.3" y2="6" stroke-width="1.1" />
<line x1="-11.8" y1="12" x2="11.8" y2="12" stroke-width="1.1" />
<line x1="-10.8" y1="18" x2="10.8" y2="18" stroke-width="1.1" />
<line x1="-9.2" y1="24" x2="9.2" y2="24" stroke-width="1.1" />
<line x1="-6.9" y1="30" x2="6.9" y2="30" stroke-width="1.1" />
</g>
<path d="M876.9,616.6 L890.4,611.5 L910.7,605.6 L931,601.4 L939.4,592 L949.5,587.8 L995,567.6 L1062.7,543.9 L1130.3,527 L1165.7,514.4 L1181,513.5 L1211.4,532.1 L1218.1,550.7 L1228.2,581.1 L1233.3,586.1 L1236.7,618.2 L1245.1,645.3 L1243.4,697.6 L1238.4,707.8 L1223.2,716.2 L1123.5,739.9 L1103.2,744.9 L1076.2,748.3 L1045.8,738.2 L968.1,741.6 L961.4,733.1 L959.7,716.2 L941.1,719.6 L902.2,724.7 L888,722 Z" stroke-width="2.6" fill="#fff" />
<line x1="947.8" y1="594.6" x2="1209.7" y2="533" stroke-width="1.6" />
<line x1="954.6" y1="599" x2="1138.7" y2="541" stroke-width="1.3" />
<line x1="964.7" y1="606" x2="1143.8" y2="561" stroke-width="1.6" />
<line x1="974.9" y1="621.6" x2="1219.8" y2="557.4" stroke-width="2.4" />
<line x1="978.2" y1="628.4" x2="1231.6" y2="581.1" stroke-width="1.6" />
<line x1="983" y1="634" x2="1233" y2="590" stroke-width="1.2" />
<line x1="1148" y1="555" x2="1210" y2="538" stroke-width="1.3" />
<line x1="1150" y1="580" x2="1228" y2="560" stroke-width="1.3" />
<path d="M1137,540 L1144,536 L1152,548 L1158,570 L1150,575" stroke-width="1.6" fill="none" />
<path d="M951,601 C955,607.5 969.3,625.8 975,640 C980.7,654.2 982.8,670.5 985,686 C987.2,701.5 987.5,725.2 988,733" stroke-width="2" fill="none" />
<path d="M962,603 C966.7,610.8 984.3,633.8 990,650 C995.7,666.2 995.2,685.8 996,700 C996.8,714.2 995.2,729.2 995,735" stroke-width="1.2" fill="none" />
<path d="M978,628 C980,636.7 987.5,662.2 990,680 C992.5,697.8 992.5,725.8 993,735" stroke-width="1.2" fill="none" />
<path d="M1034,662 L1046,655 L1110,630 L1160,620 L1200,616" stroke-width="1.6" fill="none" />
<path d="M1034,662 L1062,720 L1078,742" stroke-width="1.6" fill="none" />
<path d="M1053,663 L1120,640 L1180,632" stroke-width="1.3" fill="none" />
<path d="M1053,663 L1085,722 L1096,740" stroke-width="1.3" fill="none" />
<path d="M1174.2,609.8 L1231.6,591.2 M1174.2,609.8 C1180,622 1186,632 1191,638.5 C1194,642 1196,644.5 1199.5,645.3 L1238.4,635" stroke-width="1.8" fill="none" />
<line x1="1200" y1="640" x2="1236" y2="630" stroke-width="1.2" />
<path d="M1206.3,660.5 L1240,648.6 M1206.3,660.5 C1212,672 1218,686 1224.9,697.6 L1241.8,694.3" stroke-width="1.8" fill="none" />
<line x1="1208" y1="664" x2="1240" y2="653" stroke-width="1.1" />
<path d="M1182.6,697.6 L1223.2,716.2" stroke-width="1.4" fill="none" />
<path d="M1180,632 L1205,624" stroke-width="1.2" fill="none" />
<ellipse cx="1138.7" cy="684.1" rx="47.8" ry="51.2" stroke-width="2" fill="#fff" transform="rotate(-15 1138.7 684.1)" />
<ellipse cx="1139" cy="684" rx="42.7" ry="47.3" stroke-width="1.2" fill="none" transform="rotate(-15 1139 684)" />
<ellipse cx="1137" cy="684" rx="38.6" ry="43.3" stroke-width="3" fill="none" transform="rotate(-15 1137 684)" />
<ellipse cx="1136" cy="683" rx="32.4" ry="40.5" stroke-width="1.4" fill="none" transform="rotate(-15 1136 683)" />
<ellipse cx="1130.3" cy="682.4" rx="25.4" ry="33.5" stroke-width="2" fill="none" transform="rotate(-15 1130.3 682.4)" />
<line x1="1108" y1="694" x2="1150" y2="684" stroke-width="1.4" />
<line x1="1112" y1="705" x2="1150" y2="696" stroke-width="1.2" />
<line x1="1110" y1="668" x2="1146" y2="658" stroke-width="1.2" />
<line x1="1112" y1="715" x2="1120" y2="728" stroke-width="1.4" />
<line x1="1136" y1="717" x2="1130" y2="735" stroke-width="2" />
<text x="1088" y="677" font-size="16" text-anchor="middle" letter-spacing="0" font-weight="bold" stroke="none" fill="#000" >T</text>
<ellipse cx="888.7" cy="674" rx="24.6" ry="52.9" stroke-width="2.4" fill="#fff" transform="rotate(-15 888.7 674)" />
<ellipse cx="889" cy="674" rx="21" ry="49.4" stroke-width="1.2" fill="none" transform="rotate(-15 889 674)" />
<ellipse cx="896.3" cy="674" rx="10.3" ry="40.2" stroke-width="3.2" fill="none" transform="rotate(-15 896.3 674)" />
<ellipse cx="898" cy="674" rx="6" ry="36.2" stroke-width="1.2" fill="none" transform="rotate(-15 898 674)" />
<path d="M0,-51.5 A18.1,51.5 0 0 1 0,51.5" transform="translate(912,670) rotate(-15)" stroke-width="1.6"/>
<path d="M0,-50.5 A18.3,50.5 0 0 1 0,50.5" transform="translate(920,668) rotate(-15)" stroke-width="2.4"/>
<path d="M0,-49.4 A18.5,49.4 0 0 1 0,49.4" transform="translate(930,664) rotate(-15)" stroke-width="1.4"/>
<path d="M0,-48.5 A16.1,48.5 0 0 1 0,48.5" transform="translate(945,660) rotate(-15)" stroke-width="1.4"/>
<path d="M926,664 L945,660 L947,672 L928,676 L926,664" stroke-width="1.8" fill="#fff" />
<path d="M877,617 L905,611 L930,605 L940,603" stroke-width="1.4" fill="none" />
<path d="M898,721 L925,722 L945,718" stroke-width="1.4" fill="none" />
<path d="M864,307 Q862,305 864,304 L961,281 Q965,280 965,284 L965,329 Q965,332 962,333 L866,355 Q862,356 862,352 Z" stroke-width="1.6" fill="none" />
<g transform="translate(989,324) rotate(-15.6)">
<path d="M3.4,-3.2 L122.5,-2.9 L122.5,2.9 L3.4,3.2" stroke-width="2" fill="#fff" />
<line x1="82.1" y1="-3" x2="83.6" y2="3" stroke-width="1.1" />
<line x1="84.7" y1="-3" x2="86.2" y2="3" stroke-width="1.1" />
<line x1="87.3" y1="-3" x2="88.8" y2="3" stroke-width="1.1" />
<line x1="89.9" y1="-3" x2="91.4" y2="3" stroke-width="1.1" />
<line x1="92.5" y1="-3" x2="94" y2="3" stroke-width="1.1" />
<line x1="95.1" y1="-3" x2="96.6" y2="3" stroke-width="1.1" />
<line x1="97.7" y1="-3" x2="99.2" y2="3" stroke-width="1.1" />
<line x1="100.3" y1="-3" x2="101.8" y2="3" stroke-width="1.1" />
<line x1="102.9" y1="-3" x2="104.4" y2="3" stroke-width="1.1" />
<line x1="105.5" y1="-3" x2="107" y2="3" stroke-width="1.1" />
<line x1="108.1" y1="-3" x2="109.6" y2="3" stroke-width="1.1" />
<line x1="110.7" y1="-3" x2="112.2" y2="3" stroke-width="1.1" />
<line x1="113.3" y1="-3" x2="114.8" y2="3" stroke-width="1.1" />
<line x1="115.9" y1="-3" x2="117.4" y2="3" stroke-width="1.1" />
<line x1="118.5" y1="-3" x2="120" y2="3" stroke-width="1.1" />
<ellipse cx="0" cy="0" rx="4.7" ry="8.5" stroke-width="2" fill="#fff" />
<ellipse cx="-1" cy="0" rx="3" ry="5.1" stroke-width="1.1" fill="none" />
</g>
<g transform="translate(1046,355) rotate(-14.7)">
<path d="M3.4,-3.2 L122,-2.9 L122,2.9 L3.4,3.2" stroke-width="2" fill="#fff" />
<line x1="89.1" y1="-3" x2="90.6" y2="3" stroke-width="1.1" />
<line x1="91.7" y1="-3" x2="93.2" y2="3" stroke-width="1.1" />
<line x1="94.3" y1="-3" x2="95.8" y2="3" stroke-width="1.1" />
<line x1="96.9" y1="-3" x2="98.4" y2="3" stroke-width="1.1" />
<line x1="99.5" y1="-3" x2="101" y2="3" stroke-width="1.1" />
<line x1="102.1" y1="-3" x2="103.6" y2="3" stroke-width="1.1" />
<line x1="104.7" y1="-3" x2="106.2" y2="3" stroke-width="1.1" />
<line x1="107.3" y1="-3" x2="108.8" y2="3" stroke-width="1.1" />
<line x1="109.9" y1="-3" x2="111.4" y2="3" stroke-width="1.1" />
<line x1="112.5" y1="-3" x2="114" y2="3" stroke-width="1.1" />
<line x1="115.1" y1="-3" x2="116.6" y2="3" stroke-width="1.1" />
<line x1="117.7" y1="-3" x2="119.2" y2="3" stroke-width="1.1" />
<ellipse cx="0" cy="0" rx="4.7" ry="8.5" stroke-width="2" fill="#fff" />
<ellipse cx="-1" cy="0" rx="3" ry="5.1" stroke-width="1.1" fill="none" />
</g>
<g transform="translate(1087,798.8) rotate(-15)">
<path d="M3.4,-3.2 L123.1,-2.9 L123.1,2.9 L3.4,3.2" stroke-width="2" fill="#fff" />
<line x1="89.8" y1="-3" x2="91.3" y2="3" stroke-width="1.1" />
<line x1="92.4" y1="-3" x2="93.9" y2="3" stroke-width="1.1" />
<line x1="95" y1="-3" x2="96.5" y2="3" stroke-width="1.1" />
<line x1="97.6" y1="-3" x2="99.1" y2="3" stroke-width="1.1" />
<line x1="100.2" y1="-3" x2="101.7" y2="3" stroke-width="1.1" />
<line x1="102.8" y1="-3" x2="104.3" y2="3" stroke-width="1.1" />
<line x1="105.4" y1="-3" x2="106.9" y2="3" stroke-width="1.1" />
<line x1="108" y1="-3" x2="109.5" y2="3" stroke-width="1.1" />
<line x1="110.6" y1="-3" x2="112.1" y2="3" stroke-width="1.1" />
<line x1="113.2" y1="-3" x2="114.7" y2="3" stroke-width="1.1" />
<line x1="115.8" y1="-3" x2="117.3" y2="3" stroke-width="1.1" />
<line x1="118.4" y1="-3" x2="119.9" y2="3" stroke-width="1.1" />
<ellipse cx="0" cy="0" rx="4.7" ry="8.5" stroke-width="2" fill="#fff" />
<ellipse cx="-1" cy="0" rx="3" ry="5.1" stroke-width="1.1" fill="none" />
</g>
<ellipse cx="1294.2" cy="596.6" rx="23" ry="40.6" stroke-width="2.6" fill="#fff" transform="rotate(-15 1294.2 596.6)" />
<ellipse cx="1293.5" cy="597" rx="20.4" ry="37.9" stroke-width="1.1" fill="none" transform="rotate(-15 1293.5 597)" />
<ellipse cx="1293" cy="598" rx="14.4" ry="29.1" stroke-width="2.4" fill="none" transform="rotate(-15 1293 598)" />
<ellipse cx="1409" cy="566.4" rx="15.2" ry="37" stroke-width="1.1" fill="none" transform="rotate(-15 1409 566.4)" />
<ellipse cx="1410.8" cy="565.9" rx="15.2" ry="37" stroke-width="1.1" fill="none" transform="rotate(-15 1410.8 565.9)" />
<ellipse cx="1388.7" cy="571.4" rx="15.2" ry="37" stroke-width="1.1" fill="none" transform="rotate(-15 1388.7 571.4)" />
<ellipse cx="1390.5" cy="570.9" rx="15.2" ry="37" stroke-width="1.1" fill="none" transform="rotate(-15 1390.5 570.9)" />
<ellipse cx="1368.6" cy="576.5" rx="15.2" ry="37" stroke-width="1.1" fill="none" transform="rotate(-15 1368.6 576.5)" />
<ellipse cx="1370.4" cy="576" rx="15.2" ry="37" stroke-width="1.1" fill="none" transform="rotate(-15 1370.4 576)" />
<ellipse cx="1348" cy="581.5" rx="15.2" ry="37" stroke-width="1.1" fill="none" transform="rotate(-15 1348 581.5)" />
<ellipse cx="1349.8" cy="581" rx="15.2" ry="37" stroke-width="1.1" fill="none" transform="rotate(-15 1349.8 581)" />
<g transform="translate(1462,549) rotate(-15)">
<path d="M14,-52 L60,-52 L66,-48 L66,-38 L60,-36 L14,-36 Z" stroke-width="2" fill="#fff" />
<line x1="58" y1="-52" x2="58" y2="-36" stroke-width="1.2" />
<path d="M22,34 L66,34 L72,38 L72,48 L66,51 L22,51 Z" stroke-width="2" fill="#fff" />
<line x1="64" y1="34" x2="64" y2="51" stroke-width="1.2" />
<path d="M0,-50 L50.6,-49.2 L49.8,-44.2 L62,-35 L58.8,-22.4 L67.7,-7.7 L60.7,7.7 L65.8,22.4 L55,35 L56.8,44.2 L43.6,49.2 L0,50 Z" stroke-width="2" fill="#fff" />
<line x1="37.6" y1="-49.2" x2="49.6" y2="-49.2" stroke-width="1.1" />
<line x1="43.8" y1="-44.2" x2="55.8" y2="-44.2" stroke-width="1.1" />
<line x1="49" y1="-35" x2="61" y2="-35" stroke-width="1.1" />
<line x1="52.8" y1="-22.4" x2="64.8" y2="-22.4" stroke-width="1.1" />
<line x1="54.7" y1="-7.7" x2="66.7" y2="-7.7" stroke-width="1.1" />
<line x1="54.7" y1="7.7" x2="66.7" y2="7.7" stroke-width="1.1" />
<line x1="52.8" y1="22.4" x2="64.8" y2="22.4" stroke-width="1.1" />
<line x1="49" y1="35" x2="61" y2="35" stroke-width="1.1" />
<line x1="43.8" y1="44.2" x2="55.8" y2="44.2" stroke-width="1.1" />
<line x1="37.6" y1="49.2" x2="49.6" y2="49.2" stroke-width="1.1" />
<path d="M26,0 L25.3,12.5 L22.8,11.2 L21.1,21.9 L23.4,24.3 L20.3,34.9 L18.3,31.4 L14.6,39.4 L16.2,43.8 L11.3,50.5 L10.2,45.4 L5.2,49.1 L5.8,54.6 L0,56 L0,50.4 L-5.2,49.1 L-5.8,54.6 L-11.3,50.5 L-10.2,45.4 L-14.6,39.4 L-16.2,43.8 L-20.3,34.9 L-18.3,31.4 L-21.1,21.9 L-23.4,24.3 L-25.3,12.5 L-22.8,11.2 L-23.4,0 L-26,0 L-25.3,-12.5 L-22.8,-11.2 L-21.1,-21.9 L-23.4,-24.3 L-20.3,-34.9 L-18.3,-31.4 L-14.6,-39.4 L-16.2,-43.8 L-11.3,-50.5 L-10.2,-45.4 L-5.2,-49.1 L-5.8,-54.6 L-0,-56 L-0,-50.4 L5.2,-49.1 L5.8,-54.6 L11.3,-50.5 L10.2,-45.4 L14.6,-39.4 L16.2,-43.8 L20.3,-34.9 L18.3,-31.4 L21.1,-21.9 L23.4,-24.3 L25.3,-12.5 L22.8,-11.2 L23.4,-0 Z" stroke-width="2" fill="#fff" />
<ellipse cx="-4" cy="0" rx="17" ry="46" stroke-width="1.1" fill="none" />
<path d="M6,-36 A14,36 0 0 1 6,36" stroke-width="2.4" fill="none" />
<ellipse cx="6" cy="0" rx="14" ry="36" stroke-width="1.3" fill="none" />
<path d="M-2,-4 L6,-5 L6,12 L-2,13" stroke-width="1.6" fill="none" />
</g>
<path d="M1553.9,511.2 L1555.8,514.1 L1557.6,517.2 L1559.1,520.7 L1560.4,524.3 L1561.4,528.1 L1562.1,531.9 L1562.5,535.7 L1562.6,539.3 L1562.3,542.7 L1561.7,545.8 L1560.8,548.6 L1559.6,551 L1558.2,553 L1556.5,554.4 L1554.6,555.3 L1552.6,555.6 L1550.5,555.4 L1548.3,554.6 L1546,553.3 L1543.8,551.4 L1541.7,549.1 L1539.7,546.4 L1537.9,543.4 L1536.3,540 L1534.9,536.4 L1533.8,532.6 L1533,528.8 L1532.6,525.1 L1532.4,521.4 L1532.6,517.9 L1533.1,514.7 L1533.9,511.8 L1535,509.2 L1536.3,507.2 L1538,505.6 L1539.8,504.5 L1541.8,504 L1543.9,504.1 L1546.1,504.7 L1548.3,505.9" stroke-width="2.6" fill="none" />
<g transform="translate(1606,528) rotate(-15)">
<path d="M18,-58 L48,-59.4 L51,-56.8 L55.9,-56 L57.2,-51.5 L63,-48.6 L62.6,-42.4 L68.8,-37.5 L66.8,-30.1 L72.9,-23.7 L69.5,-15.6 L75.1,-8.1 L70.4,0 L75.1,8.1 L69.5,15.6 L72.9,23.7 L66.8,30.1 L68.8,37.5 L62.6,42.4 L63,48.6 L57.2,51.5 L55.9,56 L51,56.8 L48,59.4 L18,58 Z" stroke-width="2" fill="#fff" />
<line x1="23.7" y1="-57.9" x2="45.7" y2="-57.9" stroke-width="1.2" />
<line x1="27" y1="-56.8" x2="49" y2="-56.8" stroke-width="1.2" />
<line x1="30.2" y1="-54.6" x2="52.2" y2="-54.6" stroke-width="1.2" />
<line x1="33.2" y1="-51.5" x2="55.2" y2="-51.5" stroke-width="1.2" />
<line x1="36.1" y1="-47.4" x2="58.1" y2="-47.4" stroke-width="1.2" />
<line x1="38.6" y1="-42.4" x2="60.6" y2="-42.4" stroke-width="1.2" />
<line x1="40.9" y1="-36.6" x2="62.9" y2="-36.6" stroke-width="1.2" />
<line x1="42.8" y1="-30.1" x2="64.8" y2="-30.1" stroke-width="1.2" />
<line x1="44.3" y1="-23.1" x2="66.3" y2="-23.1" stroke-width="1.2" />
<line x1="45.5" y1="-15.6" x2="67.5" y2="-15.6" stroke-width="1.2" />
<line x1="46.1" y1="-7.9" x2="68.1" y2="-7.9" stroke-width="1.2" />
<line x1="46.4" y1="0" x2="68.4" y2="0" stroke-width="1.2" />
<line x1="46.1" y1="7.9" x2="68.1" y2="7.9" stroke-width="1.2" />
<line x1="45.5" y1="15.6" x2="67.5" y2="15.6" stroke-width="1.2" />
<line x1="44.3" y1="23.1" x2="66.3" y2="23.1" stroke-width="1.2" />
<line x1="42.8" y1="30.1" x2="64.8" y2="30.1" stroke-width="1.2" />
<line x1="40.9" y1="36.6" x2="62.9" y2="36.6" stroke-width="1.2" />
<line x1="38.6" y1="42.4" x2="60.6" y2="42.4" stroke-width="1.2" />
<line x1="36.1" y1="47.4" x2="58.1" y2="47.4" stroke-width="1.2" />
<line x1="33.2" y1="51.5" x2="55.2" y2="51.5" stroke-width="1.2" />
<line x1="30.2" y1="54.6" x2="52.2" y2="54.6" stroke-width="1.2" />
<line x1="27" y1="56.8" x2="49" y2="56.8" stroke-width="1.2" />
<line x1="23.7" y1="57.9" x2="45.7" y2="57.9" stroke-width="1.2" />
<ellipse cx="20" cy="0" rx="24" ry="57" stroke-width="1.6" fill="#fff" />
<path d="M22,0 L21.6,10.1 L19.9,9.3 L18.7,18.3 L20.3,19.9 L18.3,28.9 L16.8,26.6 L14.3,33.8 L15.6,36.8 L12.2,43.2 L11.2,39.8 L7.7,44.2 L8.4,48 L4.3,51 L3.9,46.9 L0,47.8 L0,52 L-4.3,51 L-3.9,46.9 L-7.7,44.2 L-8.4,48 L-12.2,43.2 L-11.2,39.8 L-14.3,33.8 L-15.6,36.8 L-18.3,28.9 L-16.8,26.6 L-18.7,18.3 L-20.3,19.9 L-21.6,10.1 L-19.9,9.3 L-20.2,0 L-22,0 L-21.6,-10.1 L-19.9,-9.3 L-18.7,-18.3 L-20.3,-19.9 L-18.3,-28.9 L-16.8,-26.6 L-14.3,-33.8 L-15.6,-36.8 L-12.2,-43.2 L-11.2,-39.8 L-7.7,-44.2 L-8.4,-48 L-4.3,-51 L-3.9,-46.9 L-0,-47.8 L-0,-52 L4.3,-51 L3.9,-46.9 L7.7,-44.2 L8.4,-48 L12.2,-43.2 L11.2,-39.8 L14.3,-33.8 L15.6,-36.8 L18.3,-28.9 L16.8,-26.6 L18.7,-18.3 L20.3,-19.9 L21.6,-10.1 L19.9,-9.3 L20.2,-0 Z" stroke-width="2" fill="#fff" />
<ellipse cx="2" cy="1" rx="17" ry="43" stroke-width="1.4" fill="none" />
<ellipse cx="4" cy="2" rx="14" ry="37" stroke-width="1.8" fill="#fff" />
<line x1="-2.2" y1="-28" x2="11.2" y2="-28" stroke-width="1.1" />
<line x1="-4.7" y1="-22" x2="13.7" y2="-22" stroke-width="1.1" />
<line x1="-6.2" y1="-16" x2="15.2" y2="-16" stroke-width="1.1" />
<line x1="-7.2" y1="-10" x2="16.2" y2="-10" stroke-width="1.1" />
<line x1="-7.8" y1="-4" x2="16.8" y2="-4" stroke-width="1.1" />
<line x1="-8" y1="2" x2="17" y2="2" stroke-width="1.1" />
<line x1="-7.8" y1="8" x2="16.8" y2="8" stroke-width="1.1" />
<line x1="-7.2" y1="14" x2="16.2" y2="14" stroke-width="1.1" />
<line x1="-6.2" y1="20" x2="15.2" y2="20" stroke-width="1.1" />
<line x1="-4.7" y1="26" x2="13.7" y2="26" stroke-width="1.1" />
<line x1="-2.2" y1="32" x2="11.2" y2="32" stroke-width="1.1" />
</g>
<ellipse cx="1719" cy="499" rx="15.2" ry="33" stroke-width="2.2" fill="#fff" transform="rotate(-15 1719 499)" />
<ellipse cx="1715" cy="501" rx="13.1" ry="30.9" stroke-width="3.4" fill="#fff" transform="rotate(-15 1715 501)" />
<ellipse cx="1716" cy="502" rx="5.9" ry="21.7" stroke-width="2" fill="none" transform="rotate(-15 1716 502)" />
<line x1="1720.7" y1="530.9" x2="1721.2" y2="528" stroke-width="2.4" />
<line x1="1717.6" y1="529.9" x2="1718.8" y2="527.1" stroke-width="2.4" />
<line x1="1714.5" y1="527.6" x2="1716.2" y2="525.1" stroke-width="2.4" />
<line x1="1711.4" y1="524.2" x2="1713.6" y2="522.1" stroke-width="2.4" />
<line x1="1708.5" y1="519.7" x2="1711" y2="518.1" stroke-width="2.4" />
<line x1="1705.8" y1="514.4" x2="1708.6" y2="513.4" stroke-width="2.4" />
<line x1="1703.5" y1="508.5" x2="1706.5" y2="508.1" stroke-width="2.4" />
<line x1="1701.8" y1="502.3" x2="1704.8" y2="502.5" stroke-width="2.4" />
<line x1="1700.6" y1="496.1" x2="1703.5" y2="496.9" stroke-width="2.4" />
<line x1="1700" y1="490" x2="1702.7" y2="491.4" stroke-width="2.4" />
<line x1="1700.1" y1="484.4" x2="1702.4" y2="486.4" stroke-width="2.4" />
<line x1="1700.9" y1="479.6" x2="1702.7" y2="482" stroke-width="2.4" />
<line x1="1702.3" y1="475.7" x2="1703.6" y2="478.4" stroke-width="2.4" />
<line x1="1704.2" y1="472.9" x2="1704.9" y2="475.8" stroke-width="2.4" />
<ellipse cx="1787" cy="480.7" rx="25.7" ry="35.9" stroke-width="3.2" fill="#fff" transform="rotate(-15 1787 480.7)" />
<ellipse cx="1786" cy="481" rx="22.2" ry="32.6" stroke-width="1.1" fill="none" transform="rotate(-15 1786 481)" />
<ellipse cx="1785" cy="482" rx="16" ry="27.6" stroke-width="3" fill="none" transform="rotate(-15 1785 482)" />
<line x1="1770" y1="470" x2="1800" y2="466" stroke-width="1.2" />
<line x1="1772" y1="497" x2="1802" y2="493" stroke-width="1.2" />
<g transform="translate(1844,466) rotate(-13)">
<path d="M250,-33 L278,-33 A10.9,33 0 0 1 278,33 L250,33 A10.9,33 0 0 1 250,-33 Z" stroke-width="2" fill="#fff" />
<line x1="262" y1="-33" x2="262" y2="33" stroke-width="1.1" />
<path d="M188,-46 L255,-46 A15.2,46 0 0 1 255,46 L188,46 A15.2,46 0 0 1 188,-46 Z" stroke-width="2.4" fill="#fff" />
<line x1="190.5" y1="-46" x2="253.5" y2="-46" stroke-width="1.3" />
<line x1="191.6" y1="-45.7" x2="254.6" y2="-45.7" stroke-width="1.3" />
<line x1="192.7" y1="-45.3" x2="255.7" y2="-45.3" stroke-width="1.3" />
<line x1="193.7" y1="-44.6" x2="256.7" y2="-44.6" stroke-width="1.3" />
<line x1="194.8" y1="-43.7" x2="257.8" y2="-43.7" stroke-width="1.3" />
<line x1="195.8" y1="-42.5" x2="258.8" y2="-42.5" stroke-width="1.3" />
<line x1="196.8" y1="-41.1" x2="259.8" y2="-41.1" stroke-width="1.3" />
<line x1="197.7" y1="-39.6" x2="260.7" y2="-39.6" stroke-width="1.3" />
<line x1="198.7" y1="-37.8" x2="261.7" y2="-37.8" stroke-width="1.3" />
<line x1="199.5" y1="-35.8" x2="262.5" y2="-35.8" stroke-width="1.3" />
<line x1="200.3" y1="-33.7" x2="263.3" y2="-33.7" stroke-width="1.3" />
<line x1="201.1" y1="-31.4" x2="264.1" y2="-31.4" stroke-width="1.3" />
<line x1="201.8" y1="-28.9" x2="264.8" y2="-28.9" stroke-width="1.3" />
<line x1="202.5" y1="-26.2" x2="265.5" y2="-26.2" stroke-width="1.3" />
<line x1="203.1" y1="-23.5" x2="266.1" y2="-23.5" stroke-width="1.3" />
<line x1="203.6" y1="-20.6" x2="266.6" y2="-20.6" stroke-width="1.3" />
<line x1="204" y1="-17.6" x2="267" y2="-17.6" stroke-width="1.3" />
<line x1="204.4" y1="-14.5" x2="267.4" y2="-14.5" stroke-width="1.3" />
<line x1="204.7" y1="-11.4" x2="267.7" y2="-11.4" stroke-width="1.3" />
<line x1="204.9" y1="-8.2" x2="267.9" y2="-8.2" stroke-width="1.3" />
<line x1="205.1" y1="-4.9" x2="268.1" y2="-4.9" stroke-width="1.3" />
<line x1="205.2" y1="-1.6" x2="268.2" y2="-1.6" stroke-width="1.3" />
<line x1="205.2" y1="1.6" x2="268.2" y2="1.6" stroke-width="1.3" />
<line x1="205.1" y1="4.9" x2="268.1" y2="4.9" stroke-width="1.3" />
<line x1="204.9" y1="8.2" x2="267.9" y2="8.2" stroke-width="1.3" />
<line x1="204.7" y1="11.4" x2="267.7" y2="11.4" stroke-width="1.3" />
<line x1="204.4" y1="14.5" x2="267.4" y2="14.5" stroke-width="1.3" />
<line x1="204" y1="17.6" x2="267" y2="17.6" stroke-width="1.3" />
<line x1="203.6" y1="20.6" x2="266.6" y2="20.6" stroke-width="1.3" />
<line x1="203.1" y1="23.5" x2="266.1" y2="23.5" stroke-width="1.3" />
<line x1="202.5" y1="26.2" x2="265.5" y2="26.2" stroke-width="1.3" />
<line x1="201.8" y1="28.9" x2="264.8" y2="28.9" stroke-width="1.3" />
<line x1="201.1" y1="31.4" x2="264.1" y2="31.4" stroke-width="1.3" />
<line x1="200.3" y1="33.7" x2="263.3" y2="33.7" stroke-width="1.3" />
<line x1="199.5" y1="35.8" x2="262.5" y2="35.8" stroke-width="1.3" />
<line x1="198.7" y1="37.8" x2="261.7" y2="37.8" stroke-width="1.3" />
<line x1="197.7" y1="39.6" x2="260.7" y2="39.6" stroke-width="1.3" />
<line x1="196.8" y1="41.1" x2="259.8" y2="41.1" stroke-width="1.3" />
<line x1="195.8" y1="42.5" x2="258.8" y2="42.5" stroke-width="1.3" />
<line x1="194.8" y1="43.7" x2="257.8" y2="43.7" stroke-width="1.3" />
<line x1="193.7" y1="44.6" x2="256.7" y2="44.6" stroke-width="1.3" />
<line x1="192.7" y1="45.3" x2="255.7" y2="45.3" stroke-width="1.3" />
<line x1="191.6" y1="45.7" x2="254.6" y2="45.7" stroke-width="1.3" />
<line x1="190.5" y1="46" x2="253.5" y2="46" stroke-width="1.3" />
<path d="M45,-35 L192,-35 A11.6,35 0 0 1 192,35 L45,35 A11.6,35 0 0 1 45,-35 Z" stroke-width="2" fill="#fff" />
<line x1="110" y1="-35" x2="112" y2="35" stroke-width="1.2" />
<line x1="104" y1="-35" x2="106" y2="35" stroke-width="1.2" />
<ellipse cx="140" cy="-28" rx="7" ry="4" stroke-width="1.4" fill="none" />
<line x1="118" y1="-3" x2="190" y2="-3" stroke-width="1.2" />
<path d="M22,-34 L48,-34 A11.2,34 0 0 1 48,34 L22,34 A11.2,34 0 0 1 22,-34 Z" stroke-width="2" fill="#fff" />
<ellipse cx="22" cy="0" rx="11" ry="34" stroke-width="2" fill="none" />
<ellipse cx="34" cy="0" rx="11" ry="34" stroke-width="1.3" fill="none" />
<path d="M8,-15 L24,-15 A6,15 0 0 1 24,15 L8,15 A6,15 0 0 1 8,-15 Z" stroke-width="2" fill="#fff" />
<path d="M0,-21 L10,-21 A8.4,21 0 0 1 10,21 L0,21 A8.4,21 0 0 1 0,-21 Z" stroke-width="2" fill="#fff" />
<ellipse cx="0" cy="0" rx="8.4" ry="21" stroke-width="2" fill="none" />
<ellipse cx="0" cy="0" rx="5" ry="12" stroke-width="1.4" fill="none" />
<ellipse cx="0" cy="0" rx="3" ry="7" stroke-width="1" fill="none" />
</g>
<ellipse cx="2155.4" cy="395.7" rx="10.3" ry="15.4" stroke-width="2" fill="#fff" transform="rotate(-15 2155.4 395.7)" />
<ellipse cx="2155" cy="396" rx="3.7" ry="7.2" stroke-width="1.6" fill="none" transform="rotate(-15 2155 396)" />
<g transform="translate(2201,384) rotate(-15)">
<path d="M0,-24.5 L38,-24.5 A13.5,24.5 0 0 1 38,24.5 L0,24.5 A13.5,24.5 0 0 1 0,-24.5 Z" stroke-width="2" fill="#fff" />
<ellipse cx="0" cy="0" rx="13.5" ry="24.5" stroke-width="2" fill="none" />
<ellipse cx="0" cy="0" rx="11" ry="20" stroke-width="1.2" fill="none" />
<ellipse cx="0" cy="0" rx="5" ry="9" stroke-width="2" fill="none" />
<line x1="4" y1="-24" x2="40" y2="-24" stroke-width="1" />
</g>
<g transform="translate(2265,363) rotate(-13.7)">
<path d="M95,-9 L122,-9 A3.6,9 0 0 1 122,9 L95,9 A3.6,9 0 0 1 95,-9 Z" stroke-width="2" fill="#fff" />
<line x1="105" y1="-9" x2="105" y2="9" stroke-width="1" />
<path d="M76,-17.5 L96,-17.5 A7,17.5 0 0 1 96,17.5 L76,17.5 A7,17.5 0 0 1 76,-17.5 Z" stroke-width="2" fill="#fff" />
<ellipse cx="76" cy="0" rx="7" ry="17.5" stroke-width="2" fill="none" />
<ellipse cx="84" cy="0" rx="7" ry="17.5" stroke-width="1.2" fill="none" />
<path d="M14,-8.5 L78,-8.5 A3.4,8.5 0 0 1 78,8.5 L14,8.5 A3.4,8.5 0 0 1 14,-8.5 Z" stroke-width="2" fill="#fff" />
<line x1="14" y1="-3" x2="78" y2="-3" stroke-width="1" />
<line x1="14" y1="3" x2="78" y2="3" stroke-width="1" />
<path d="M0,-9.5 L15,-9.5 A4.3,9.5 0 0 1 15,9.5 L0,9.5 A4.3,9.5 0 0 1 0,-9.5 Z" stroke-width="2" fill="#fff" />
<ellipse cx="0" cy="0" rx="4.3" ry="9.5" stroke-width="2" fill="none" />
<line x1="2" y1="-6" x2="14" y2="-6" stroke-width="1.1" />
<line x1="2" y1="-3" x2="14" y2="-3" stroke-width="1.1" />
<line x1="2" y1="0" x2="14" y2="0" stroke-width="1.1" />
<line x1="2" y1="3" x2="14" y2="3" stroke-width="1.1" />
<line x1="2" y1="6" x2="14" y2="6" stroke-width="1.1" />
</g>
<ellipse cx="2412.3" cy="324.1" rx="13.2" ry="26.5" stroke-width="2.4" fill="#fff" transform="rotate(-15 2412.3 324.1)" />
<ellipse cx="2410" cy="325" rx="10.7" ry="23.6" stroke-width="1.2" fill="none" transform="rotate(-15 2410 325)" />
<ellipse cx="2409" cy="326" rx="6.2" ry="20.6" stroke-width="3" fill="none" transform="rotate(-15 2409 326)" />
<ellipse cx="2410" cy="325" rx="3.6" ry="16.5" stroke-width="1.2" fill="none" transform="rotate(-15 2410 325)" />
<ellipse cx="2451.3" cy="312.8" rx="13.3" ry="20.6" stroke-width="2.2" fill="#fff" transform="rotate(-15 2451.3 312.8)" />
<ellipse cx="2451.3" cy="312.8" rx="4.6" ry="12.4" stroke-width="1.8" fill="none" transform="rotate(-15 2451.3 312.8)" />
<line x1="2444" y1="300" x2="2449" y2="306" stroke-width="1.2" />
<line x1="2454" y1="320" x2="2459" y2="326" stroke-width="1.2" />
<ellipse cx="2489.7" cy="302.7" rx="16.7" ry="27.1" stroke-width="2.2" fill="#fff" transform="rotate(-15 2489.7 302.7)" />
<ellipse cx="2489.7" cy="302.7" rx="5.7" ry="13.4" stroke-width="1.8" fill="none" transform="rotate(-15 2489.7 302.7)" />
<ellipse cx="2489" cy="303" rx="8.7" ry="17.4" stroke-width="1" fill="none" transform="rotate(-15 2489 303)" />
<ellipse cx="2535" cy="288.3" rx="11.9" ry="15.3" stroke-width="2" fill="#000" transform="rotate(-15 2535 288.3)" />
<ellipse cx="2535" cy="288.3" rx="1.7" ry="7.2" stroke-width="1" fill="#fff" transform="rotate(-15 2535 288.3)" stroke="#fff"/>
<ellipse cx="2578" cy="276.2" rx="16.7" ry="27.1" stroke-width="2.4" fill="#fff" transform="rotate(-15 2578 276.2)" />
<ellipse cx="2576" cy="277" rx="13" ry="23.6" stroke-width="1.2" fill="none" transform="rotate(-15 2576 277)" />
<ellipse cx="2574" cy="279" rx="7.7" ry="19.6" stroke-width="2" fill="none" transform="rotate(-15 2574 279)" />
<ellipse cx="2625.8" cy="261.1" rx="18.4" ry="28.3" stroke-width="2.4" fill="#fff" transform="rotate(-15 2625.8 261.1)" />
<ellipse cx="2625.8" cy="261.1" rx="11.3" ry="19.4" stroke-width="1.4" fill="none" transform="rotate(-15 2625.8 261.1)" />
<ellipse cx="2624" cy="262" rx="7.3" ry="14.4" stroke-width="2" fill="none" transform="rotate(-15 2624 262)" />
<g transform="translate(2682.5,246) rotate(-15)">
<path d="M52,-26 L66,-26 A10.9,26 0 0 1 66,26 L52,26 A10.9,26 0 0 1 52,-26 Z" stroke-width="2.2" fill="#fff" />
<ellipse cx="56" cy="0" rx="10" ry="26" stroke-width="3" fill="none" />
<path d="M0,-24 L55,-24 A10.1,24 0 0 1 55,24 L0,24 A10.1,24 0 0 1 0,-24 Z" stroke-width="2" fill="#fff" />
<ellipse cx="0" cy="0" rx="10.1" ry="24" stroke-width="2" fill="none" />
<line x1="10" y1="-8" x2="52" y2="-8" stroke-width="1.2" />
<line x1="10" y1="8" x2="52" y2="8" stroke-width="1.2" />
<ellipse cx="0" cy="0" rx="6" ry="12" stroke-width="1.4" fill="none" />
<path d="M-16,-7 L2,-7 A3.5,7 0 0 1 2,7 L-16,7 A3.5,7 0 0 1 -16,-7 Z" stroke-width="2" fill="#fff" />
<path d="M-28,-11 L-14,-11 A5,11 0 0 1 -14,11 L-28,11 A5,11 0 0 1 -28,-11 Z" stroke-width="2" fill="#333" />
<ellipse cx="-28" cy="0" rx="5" ry="11" stroke-width="2" fill="none" />
</g>
<ellipse cx="2771.2" cy="217" rx="16.3" ry="28.3" stroke-width="2.2" fill="#fff" transform="rotate(-15 2771.2 217)" />
<ellipse cx="2770" cy="218" rx="13.4" ry="25.1" stroke-width="1.6" fill="none" transform="rotate(-15 2770 218)" />
<path d="M2831.2,171.6 L2949.7,141.3 L2970,145 L2978.7,152.7 L2978.7,180.4 L2970,186.7 L2927,198 L2841.3,223.3" stroke-width="2" fill="#fff" />
<ellipse cx="2832.5" cy="198" rx="13.8" ry="27.2" stroke-width="2" fill="#fff" transform="rotate(-15 2832.5 198)" />
<ellipse cx="2833" cy="198" rx="11.2" ry="24.1" stroke-width="1" fill="none" transform="rotate(-15 2833 198)" />
<line x1="2850" y1="176" x2="2925" y2="157" stroke-width="1" />
<line x1="2927" y1="198" x2="2945" y2="194" stroke-width="1" />
<path d="M2928,150 L2936,147 L2960,144 L2962,154 L2940,160 L2930,158" stroke-width="1.4" fill="none" />
<ellipse cx="2948" cy="150" rx="8" ry="4" stroke-width="1.4" fill="none" />
<ellipse cx="2204" cy="686" rx="20.5" ry="36.9" stroke-width="2" fill="#fff" transform="rotate(-15 2204 686)" />
<ellipse cx="2199.2" cy="688" rx="22.7" ry="37.4" stroke-width="2.4" fill="#fff" transform="rotate(-15 2199.2 688)" />
<ellipse cx="2199" cy="688" rx="13.5" ry="28.8" stroke-width="1.6" fill="none" transform="rotate(-15 2199 688)" />
<ellipse cx="2216.5" cy="683.3" rx="2.6" ry="2.6" stroke-width="1.2" fill="#fff" />
<ellipse cx="2218.5" cy="695.9" rx="2.6" ry="2.6" stroke-width="1.2" fill="#fff" />
<ellipse cx="2217.4" cy="707.3" rx="2.6" ry="2.6" stroke-width="1.2" fill="#fff" />
<ellipse cx="2213.6" cy="715.7" rx="2.6" ry="2.6" stroke-width="1.2" fill="#fff" />
<ellipse cx="2207.6" cy="720" rx="2.6" ry="2.6" stroke-width="1.2" fill="#fff" />
<ellipse cx="2200.2" cy="719.3" rx="2.6" ry="2.6" stroke-width="1.2" fill="#fff" />
<ellipse cx="2192.7" cy="713.9" rx="2.6" ry="2.6" stroke-width="1.2" fill="#fff" />
<ellipse cx="2186.1" cy="704.6" rx="2.6" ry="2.6" stroke-width="1.2" fill="#fff" />
<ellipse cx="2181.5" cy="692.7" rx="2.6" ry="2.6" stroke-width="1.2" fill="#fff" />
<ellipse cx="2179.5" cy="680.1" rx="2.6" ry="2.6" stroke-width="1.2" fill="#fff" />
<ellipse cx="2180.6" cy="668.7" rx="2.6" ry="2.6" stroke-width="1.2" fill="#fff" />
<ellipse cx="2184.4" cy="660.3" rx="2.6" ry="2.6" stroke-width="1.2" fill="#fff" />
<ellipse cx="2190.4" cy="656" rx="2.6" ry="2.6" stroke-width="1.2" fill="#fff" />
<ellipse cx="2197.8" cy="656.7" rx="2.6" ry="2.6" stroke-width="1.2" fill="#fff" />
<ellipse cx="2205.3" cy="662.1" rx="2.6" ry="2.6" stroke-width="1.2" fill="#fff" />
<ellipse cx="2211.9" cy="671.4" rx="2.6" ry="2.6" stroke-width="1.2" fill="#fff" />
<path d="M2268.5,579.6 L2287.4,585.9 L2295,592.2 L2293.7,608.6 L2303.8,621.2 L2311.3,631.2 L2317.6,632.5 L2326.5,656.5 L2329,676.6 L2326.5,701.8 L2324,722 L2313.8,742.2 L2313.8,763.6 L2303.8,763.6 L2296.2,747.2 L2268.5,744.7 L2258.4,727 L2240.7,722 L2235.7,696.8 L2235.7,653.9 L2238.2,621.2 L2243.3,596 L2250.8,592.2 L2259.7,594.7 L2268.5,591 Z" stroke-width="1.2" fill="none" />
<path d="M2269,582 L2287.2,588.2 L2294.5,594.3 L2293.3,610.3 L2303,622.6 L2310.3,632.3 L2316.4,633.6 L2324.9,657 L2327.4,676.6 L2324.9,701.2 L2322.5,720.8 L2312.7,740.5 L2312.7,761.4 L2303,761.4 L2295.7,745.4 L2269,743 L2259.2,725.7 L2242.1,720.8 L2237.3,696.3 L2237.3,654.5 L2239.7,622.6 L2244.7,598 L2251.9,594.3 L2260.5,596.7 L2269,593.1 Z" stroke-width="1.1" fill="none" />
<ellipse cx="2242" cy="678" rx="4" ry="7" stroke-width="1.1" fill="none" />
<ellipse cx="2318" cy="712" rx="4" ry="7" stroke-width="1.1" fill="none" />
<path d="M2442.4,563.2 L2452,554 L2470,549.3 L2490,556 L2500.4,565.7 L2512,575 L2525.6,585.9 L2527,610 L2526.9,631.2 L2525.6,681.7 L2520,712 L2515.5,734.6 L2503,740 L2492.8,738.4 L2480,733 L2467.6,724.5 L2447.5,701.8 L2434.9,681.7 Z" stroke-width="2.6" fill="#fff" />
<path d="M2445,568.9 L2454,560.4 L2470.7,556 L2489.3,562.2 L2499,571.3 L2509.8,579.9 L2522.4,590 L2523.7,612.5 L2523.6,632.2 L2522.4,679.1 L2517.2,707.3 L2513,728.3 L2501.4,733.4 L2491.9,731.9 L2480,726.8 L2468.5,718.9 L2449.8,697.8 L2438.1,679.1 Z" stroke-width="1.1" fill="none" />
<path d="M2523,589.7 L2563.4,583.4 L2568.4,593.4 L2525.6,607.3" stroke-width="2" fill="#fff" />
<line x1="2487.8" y1="558" x2="2508" y2="555.6" stroke-width="3.2" />
<path d="M2502,576 L2518,572 L2520,592 L2506,596" stroke-width="1.6" fill="#fff" />
<ellipse cx="2470" cy="700" rx="5.6" ry="10.2" stroke-width="1.2" fill="none" transform="rotate(-15 2470 700)" />
<ellipse cx="2510" cy="690" rx="5.3" ry="12.3" stroke-width="1.2" fill="none" transform="rotate(-15 2510 690)" />
<ellipse cx="2467" cy="642" rx="4.7" ry="8.2" stroke-width="1.2" fill="none" transform="rotate(-15 2467 642)" />
<path d="M2478,670 L2500,664 L2502,700 L2480,706" stroke-width="1.1" fill="none" />
<g transform="translate(2369.3,656.5) rotate(-15)">
<path d="M38,-55 L123,-55 C134,-40 140,-10 137,33 L50,33 C44,30 40,20 40,10 Z" stroke-width="2.2" fill="#fff" />
<path d="M50,33 C58,40 70,40 78,33" stroke-width="1.4" fill="none" />
<line x1="52" y1="-38" x2="128" y2="-38" stroke-width="1.2" />
<line x1="56" y1="-18" x2="134" y2="-18" stroke-width="1.2" />
<line x1="60" y1="2" x2="136" y2="2" stroke-width="1.2" />
<line x1="64" y1="20" x2="136" y2="20" stroke-width="1.2" />
<path d="M40,-55 L40,-44 M46,-55 C50,-45 52,-30 52,-10" stroke-width="1.2" fill="none" />
<path d="M0,-46 L38,-48 L40,10 C40,25 44,34 50,40 L0,42" stroke-width="2.2" fill="#fff" />
</g>
<ellipse cx="2369.3" cy="656.5" rx="27" ry="43.8" stroke-width="3" fill="#fff" transform="rotate(-15 2369.3 656.5)" />
<ellipse cx="2372" cy="655" rx="22.6" ry="38.9" stroke-width="1.2" fill="none" transform="rotate(-15 2372 655)" />
<ellipse cx="2376" cy="654" rx="16.4" ry="32.8" stroke-width="2" fill="none" transform="rotate(-15 2376 654)" />
<ellipse cx="2379" cy="653" rx="12.4" ry="27.8" stroke-width="1.2" fill="none" transform="rotate(-15 2379 653)" />
<line x1="2372" y1="645" x2="2395" y2="640" stroke-width="1.2" />
<line x1="2371" y1="668" x2="2395" y2="662" stroke-width="1.2" />
<ellipse cx="2534.4" cy="544.3" rx="9.8" ry="12.1" stroke-width="1.6" fill="#fff" transform="rotate(-15 2534.4 544.3)" />
<line x1="2530" y1="534" x2="2538" y2="532" stroke-width="1" />
<g transform="translate(2583.6,555.6) rotate(165.5)">
<path d="M2.8,-3.6 L40.4,-3.2 L40.4,3.2 L2.8,3.6" stroke-width="2" fill="#fff" />
<line x1="8.1" y1="-3.4" x2="9.6" y2="3.4" stroke-width="1.1" />
<line x1="10.7" y1="-3.4" x2="12.2" y2="3.4" stroke-width="1.1" />
<line x1="13.3" y1="-3.4" x2="14.8" y2="3.4" stroke-width="1.1" />
<line x1="15.9" y1="-3.4" x2="17.4" y2="3.4" stroke-width="1.1" />
<line x1="18.5" y1="-3.4" x2="20" y2="3.4" stroke-width="1.1" />
<line x1="21.1" y1="-3.4" x2="22.6" y2="3.4" stroke-width="1.1" />
<line x1="23.7" y1="-3.4" x2="25.2" y2="3.4" stroke-width="1.1" />
<line x1="26.3" y1="-3.4" x2="27.8" y2="3.4" stroke-width="1.1" />
<line x1="28.9" y1="-3.4" x2="30.4" y2="3.4" stroke-width="1.1" />
<line x1="31.5" y1="-3.4" x2="33" y2="3.4" stroke-width="1.1" />
<line x1="34.1" y1="-3.4" x2="35.6" y2="3.4" stroke-width="1.1" />
<line x1="36.7" y1="-3.4" x2="38.2" y2="3.4" stroke-width="1.1" />
<ellipse cx="0" cy="0" rx="3.9" ry="7" stroke-width="2" fill="#fff" />
<ellipse cx="-1" cy="0" rx="2.4" ry="4.2" stroke-width="1.1" fill="none" />
</g>
<g transform="translate(2589.9,686.7) rotate(166)">
<path d="M2.8,-3.6 L41.6,-3.2 L41.6,3.2 L2.8,3.6" stroke-width="2" fill="#fff" />
<line x1="8.3" y1="-3.4" x2="9.8" y2="3.4" stroke-width="1.1" />
<line x1="10.9" y1="-3.4" x2="12.4" y2="3.4" stroke-width="1.1" />
<line x1="13.5" y1="-3.4" x2="15" y2="3.4" stroke-width="1.1" />
<line x1="16.1" y1="-3.4" x2="17.6" y2="3.4" stroke-width="1.1" />
<line x1="18.7" y1="-3.4" x2="20.2" y2="3.4" stroke-width="1.1" />
<line x1="21.3" y1="-3.4" x2="22.8" y2="3.4" stroke-width="1.1" />
<line x1="23.9" y1="-3.4" x2="25.4" y2="3.4" stroke-width="1.1" />
<line x1="26.5" y1="-3.4" x2="28" y2="3.4" stroke-width="1.1" />
<line x1="29.1" y1="-3.4" x2="30.6" y2="3.4" stroke-width="1.1" />
<line x1="31.7" y1="-3.4" x2="33.2" y2="3.4" stroke-width="1.1" />
<line x1="34.3" y1="-3.4" x2="35.8" y2="3.4" stroke-width="1.1" />
<line x1="36.9" y1="-3.4" x2="38.4" y2="3.4" stroke-width="1.1" />
<ellipse cx="0" cy="0" rx="3.9" ry="7" stroke-width="2" fill="#fff" />
<ellipse cx="-1" cy="0" rx="2.4" ry="4.2" stroke-width="1.1" fill="none" />
</g>
<ellipse cx="2601.2" cy="628.7" rx="17.7" ry="25.7" stroke-width="2.4" fill="#fff" transform="rotate(-15 2601.2 628.7)" />
<ellipse cx="2600" cy="629" rx="12.3" ry="20.4" stroke-width="1.2" fill="none" transform="rotate(-15 2600 629)" />
<ellipse cx="2599" cy="630" rx="7.2" ry="15.4" stroke-width="1.6" fill="none" transform="rotate(-15 2599 630)" />
<path d="M2350,786 L2372,784 L2381,789 L2385,800 L2385.5,818 L2380,823 L2370,820 L2352,808 L2348,797 L2355,797 L2355,791 L2349,790 Z" stroke-width="1.8" fill="#fff" />
<line x1="2384" y1="792" x2="2385" y2="820" stroke-width="3" />
<ellipse cx="2370" cy="804" rx="4.5" ry="6" stroke-width="1.4" fill="none" />
<ellipse cx="2326.5" cy="813.8" rx="10.1" ry="17.3" stroke-width="2" fill="#fff" transform="rotate(-15 2326.5 813.8)" />
<line x1="2334.6" y1="811.6" x2="2318.4" y2="816" stroke-width="1" />
<line x1="2335.5" y1="819.3" x2="2317.5" y2="808.3" stroke-width="1" />
<line x1="2334" y1="825.6" x2="2319" y2="802" stroke-width="1" />
<line x1="2330.5" y1="828.6" x2="2322.5" y2="799" stroke-width="1" />
<line x1="2325.9" y1="827.7" x2="2327.1" y2="799.9" stroke-width="1" />
<line x1="2321.5" y1="823.1" x2="2331.5" y2="804.5" stroke-width="1" />
<ellipse cx="2326.5" cy="813.8" rx="2.8" ry="5.1" stroke-width="1" fill="#fff" transform="rotate(-15 2326.5 813.8)" />
<ellipse cx="2288.2" cy="824" rx="8.1" ry="15.8" stroke-width="1.6" fill="#fff" transform="rotate(-15 2288.2 824)" />
<ellipse cx="2288.2" cy="824" rx="2.4" ry="7.2" stroke-width="1.4" fill="none" transform="rotate(-15 2288.2 824)" />
<g transform="translate(2054,890) rotate(-15)">
<path d="M212,-6 L224,-6 A3,6 0 0 1 224,6 L212,6 A3,6 0 0 1 212,-6 Z" stroke-width="2" fill="#fff" />
<path d="M160,-39 L214,-39 A16.4,39 0 0 1 214,39 L160,39 A16.4,39 0 0 1 160,-39 Z" stroke-width="2.2" fill="#fff" />
<line x1="160.6" y1="-39" x2="211.6" y2="-39" stroke-width="1.5" />
<line x1="162.1" y1="-38.7" x2="213.1" y2="-38.7" stroke-width="1.5" />
<line x1="163.6" y1="-38.1" x2="214.6" y2="-38.1" stroke-width="1.5" />
<line x1="165.1" y1="-37.1" x2="216.1" y2="-37.1" stroke-width="1.5" />
<line x1="166.5" y1="-35.8" x2="217.5" y2="-35.8" stroke-width="1.5" />
<line x1="167.9" y1="-34.2" x2="218.9" y2="-34.2" stroke-width="1.5" />
<line x1="169.2" y1="-32.3" x2="220.2" y2="-32.3" stroke-width="1.5" />
<line x1="170.4" y1="-30.2" x2="221.4" y2="-30.2" stroke-width="1.5" />
<line x1="171.5" y1="-27.7" x2="222.5" y2="-27.7" stroke-width="1.5" />
<line x1="172.5" y1="-25.1" x2="223.5" y2="-25.1" stroke-width="1.5" />
<line x1="173.5" y1="-22.2" x2="224.5" y2="-22.2" stroke-width="1.5" />
<line x1="174.3" y1="-19.1" x2="225.3" y2="-19.1" stroke-width="1.5" />
<line x1="175" y1="-15.9" x2="226" y2="-15.9" stroke-width="1.5" />
<line x1="175.5" y1="-12.5" x2="226.5" y2="-12.5" stroke-width="1.5" />
<line x1="175.9" y1="-9" x2="226.9" y2="-9" stroke-width="1.5" />
<line x1="176.2" y1="-5.4" x2="227.2" y2="-5.4" stroke-width="1.5" />
<line x1="176.4" y1="-1.8" x2="227.4" y2="-1.8" stroke-width="1.5" />
<line x1="176.4" y1="1.8" x2="227.4" y2="1.8" stroke-width="1.5" />
<line x1="176.2" y1="5.4" x2="227.2" y2="5.4" stroke-width="1.5" />
<line x1="175.9" y1="9" x2="226.9" y2="9" stroke-width="1.5" />
<line x1="175.5" y1="12.5" x2="226.5" y2="12.5" stroke-width="1.5" />
<line x1="175" y1="15.9" x2="226" y2="15.9" stroke-width="1.5" />
<line x1="174.3" y1="19.1" x2="225.3" y2="19.1" stroke-width="1.5" />
<line x1="173.5" y1="22.2" x2="224.5" y2="22.2" stroke-width="1.5" />
<line x1="172.5" y1="25.1" x2="223.5" y2="25.1" stroke-width="1.5" />
<line x1="171.5" y1="27.7" x2="222.5" y2="27.7" stroke-width="1.5" />
<line x1="170.4" y1="30.2" x2="221.4" y2="30.2" stroke-width="1.5" />
<line x1="169.2" y1="32.3" x2="220.2" y2="32.3" stroke-width="1.5" />
<line x1="167.9" y1="34.2" x2="218.9" y2="34.2" stroke-width="1.5" />
<line x1="166.5" y1="35.8" x2="217.5" y2="35.8" stroke-width="1.5" />
<line x1="165.1" y1="37.1" x2="216.1" y2="37.1" stroke-width="1.5" />
<line x1="163.6" y1="38.1" x2="214.6" y2="38.1" stroke-width="1.5" />
<line x1="162.1" y1="38.7" x2="213.1" y2="38.7" stroke-width="1.5" />
<line x1="160.6" y1="39" x2="211.6" y2="39" stroke-width="1.5" />
<path d="M150,-30 L162,-30 A12.6,30 0 0 1 162,30 L150,30 A12.6,30 0 0 1 150,-30 Z" stroke-width="2" fill="#fff" />
<path d="M128,-43 L150,-43 A17.2,43 0 0 1 150,43 L128,43 A17.2,43 0 0 1 128,-43 Z" stroke-width="2.2" fill="#fff" />
<ellipse cx="128" cy="0" rx="17" ry="43" stroke-width="2.2" fill="none" />
<ellipse cx="138" cy="0" rx="17" ry="43" stroke-width="1.3" fill="none" />
<ellipse cx="134" cy="0" rx="12" ry="36" stroke-width="1.2" fill="none" />
<path d="M80,-24 L122,-24 A10.1,24 0 0 1 122,24 L80,24 A10.1,24 0 0 1 80,-24 Z" stroke-width="2" fill="#fff" />
<line x1="82.4" y1="-24" x2="120.4" y2="-24" stroke-width="1.4" />
<line x1="83.7" y1="-23.7" x2="121.7" y2="-23.7" stroke-width="1.4" />
<line x1="85" y1="-22.9" x2="123" y2="-22.9" stroke-width="1.4" />
<line x1="86.3" y1="-21.8" x2="124.3" y2="-21.8" stroke-width="1.4" />
<line x1="87.4" y1="-20.2" x2="125.4" y2="-20.2" stroke-width="1.4" />
<line x1="88.5" y1="-18.3" x2="126.5" y2="-18.3" stroke-width="1.4" />
<line x1="89.5" y1="-16.1" x2="127.5" y2="-16.1" stroke-width="1.4" />
<line x1="90.3" y1="-13.6" x2="128.3" y2="-13.6" stroke-width="1.4" />
<line x1="91" y1="-10.8" x2="129" y2="-10.8" stroke-width="1.4" />
<line x1="91.5" y1="-7.9" x2="129.5" y2="-7.9" stroke-width="1.4" />
<line x1="91.9" y1="-4.8" x2="129.9" y2="-4.8" stroke-width="1.4" />
<line x1="92.1" y1="-1.6" x2="130.1" y2="-1.6" stroke-width="1.4" />
<line x1="92.1" y1="1.6" x2="130.1" y2="1.6" stroke-width="1.4" />
<line x1="91.9" y1="4.8" x2="129.9" y2="4.8" stroke-width="1.4" />
<line x1="91.5" y1="7.9" x2="129.5" y2="7.9" stroke-width="1.4" />
<line x1="91" y1="10.8" x2="129" y2="10.8" stroke-width="1.4" />
<line x1="90.3" y1="13.6" x2="128.3" y2="13.6" stroke-width="1.4" />
<line x1="89.5" y1="16.1" x2="127.5" y2="16.1" stroke-width="1.4" />
<line x1="88.5" y1="18.3" x2="126.5" y2="18.3" stroke-width="1.4" />
<line x1="87.4" y1="20.2" x2="125.4" y2="20.2" stroke-width="1.4" />
<line x1="86.3" y1="21.8" x2="124.3" y2="21.8" stroke-width="1.4" />
<line x1="85" y1="22.9" x2="123" y2="22.9" stroke-width="1.4" />
<line x1="83.7" y1="23.7" x2="121.7" y2="23.7" stroke-width="1.4" />
<line x1="82.4" y1="24" x2="120.4" y2="24" stroke-width="1.4" />
<ellipse cx="80" cy="0" rx="10" ry="24" stroke-width="2" fill="#fff" />
<path d="M66,-14 L82,-14 A6.3,14 0 0 1 82,14 L66,14 A6.3,14 0 0 1 66,-14 Z" stroke-width="1.8" fill="#fff" />
<path d="M0,-7 L72,-7 A3.5,7 0 0 1 72,7 L0,7 A3.5,7 0 0 1 0,-7 Z" stroke-width="2" fill="#fff" />
<ellipse cx="0" cy="0" rx="3.5" ry="7" stroke-width="2" fill="none" />
<line x1="22" y1="-7.5" x2="22" y2="7.5" stroke-width="1.2" />
<line x1="26" y1="-7.5" x2="26" y2="7.5" stroke-width="1.2" />
</g>
<g transform="translate(2008,905) rotate(-15)">
<path d="M0,-25 L26,-26 L34,-20 L34,-10 L26,-8 L28,12 L34,14 L30,24 L0,25 Z" stroke-width="1.8" fill="#fff" />
<path d="M14,0 L11.8,6.5 L12.1,14.6 L8.7,17.3 L7,24.6 L3.5,22.7 L0.3,26.7 L-2.2,20.9 L-5.9,20.4 L-6.6,12.4 L-9.5,7.6 L-8.2,0 L-9.5,-7.6 L-6.6,-12.4 L-5.9,-20.4 L-2.2,-20.9 L0.3,-26.7 L3.5,-22.7 L7,-24.6 L8.7,-17.3 L12.1,-14.6 L11.8,-6.5 Z" stroke-width="1.8" fill="#fff" />
<line x1="4" y1="-16" x2="24" y2="-17" stroke-width="1.2" />
<line x1="4" y1="-8" x2="24" y2="-9" stroke-width="1.2" />
<line x1="4" y1="0" x2="24" y2="-1" stroke-width="1.2" />
<line x1="4" y1="8" x2="24" y2="7" stroke-width="1.2" />
<line x1="4" y1="16" x2="24" y2="15" stroke-width="1.2" />
</g>
<ellipse cx="1938.1" cy="921.2" rx="8" ry="13.8" stroke-width="1.6" fill="#fff" transform="rotate(-15 1938.1 921.2)" />
<ellipse cx="1938.1" cy="921.2" rx="3.1" ry="7.2" stroke-width="1.4" fill="none" transform="rotate(-15 1938.1 921.2)" />
<ellipse cx="1955.7" cy="914.9" rx="8" ry="13.8" stroke-width="1.6" fill="#fff" transform="rotate(-15 1955.7 914.9)" />
<ellipse cx="1955.7" cy="914.9" rx="3.1" ry="7.2" stroke-width="1.4" fill="none" transform="rotate(-15 1955.7 914.9)" />
<ellipse cx="1973.9" cy="911.2" rx="8" ry="13.8" stroke-width="1.6" fill="#fff" transform="rotate(-15 1973.9 911.2)" />
<ellipse cx="1973.9" cy="911.2" rx="3.1" ry="7.2" stroke-width="1.4" fill="none" transform="rotate(-15 1973.9 911.2)" />
<ellipse cx="1836" cy="951.5" rx="8.2" ry="14.4" stroke-width="1.4" fill="#fff" transform="rotate(-15 1836 951.5)" />
<ellipse cx="1836" cy="951.5" rx="3.2" ry="6.7" stroke-width="1.2" fill="none" transform="rotate(-15 1836 951.5)" />
<ellipse cx="1912.4" cy="927.5" rx="8.5" ry="14.3" stroke-width="1.4" fill="#fff" transform="rotate(-15 1912.4 927.5)" />
<ellipse cx="1912.4" cy="927.5" rx="3.2" ry="6.7" stroke-width="1.2" fill="none" transform="rotate(-15 1912.4 927.5)" />
<ellipse cx="1873.8" cy="940.1" rx="10.7" ry="15.4" stroke-width="2" fill="#fff" transform="rotate(-15 1873.8 940.1)" />
<line x1="1882.6" y1="937.7" x2="1865" y2="942.5" stroke-width="1" />
<line x1="1883.2" y1="944.7" x2="1864.4" y2="935.5" stroke-width="1" />
<line x1="1881.3" y1="950.4" x2="1866.3" y2="929.8" stroke-width="1" />
<line x1="1877.4" y1="953.4" x2="1870.2" y2="926.8" stroke-width="1" />
<line x1="1872.5" y1="952.8" x2="1875.1" y2="927.4" stroke-width="1" />
<line x1="1868" y1="948.8" x2="1879.6" y2="931.4" stroke-width="1" />
<ellipse cx="1873.8" cy="940.1" rx="2.8" ry="5.1" stroke-width="1" fill="#fff" transform="rotate(-15 1873.8 940.1)" />
<line x1="2376" y1="974" x2="2413" y2="964" stroke-width="9" />
<path d="M2377,970 L2412,961 L2414,970 L2378,979" stroke-width="1.8" fill="#fff" />
<ellipse cx="2376" cy="974.5" rx="2.5" ry="5" stroke-width="1.6" fill="#fff" transform="rotate(-15 2376 974.5)" />
<path d="M2530,925 L2570,916 L2573,925 L2531,934" stroke-width="1.8" fill="#fff" />
<ellipse cx="2572" cy="920.5" rx="2.5" ry="5" stroke-width="1.6" fill="#fff" transform="rotate(-15 2572 920.5)" />
<path d="M2409.2,948.9 L2423,941.3 L2440,937 L2458.4,931.2 L2468.5,923.7 L2491.2,911.1 L2511.3,906 L2517.6,913.6 L2529,916.1 L2530.2,961.5 L2516.4,966.5 L2486.1,971.6 L2461,975.4 L2454.6,966.5 L2418,975.4 L2410.5,966.5 Z" stroke-width="1.8" fill="#fff" />
<path d="M2420,952 L2460,944 L2470,950 L2500,944 L2515,950" stroke-width="1.1" fill="none" />
<path d="M2454,966 L2456,950 L2485,944 L2500,952 L2510,965" stroke-width="1.1" fill="none" />
<ellipse cx="2505" cy="930" rx="8" ry="12" stroke-width="1.4" fill="none" />
<line x1="2515" y1="915" x2="2515" y2="962" stroke-width="1.2" />
<path d="M2440,937 L2443,930 L2447,930 L2447,936" stroke-width="1.2" fill="none" />
<path d="M2470,923 L2474,916 L2480,917" stroke-width="1.2" fill="none" />
<line x1="2472" y1="930" x2="2472" y2="948" stroke-width="1" />
<ellipse cx="1258" cy="775" rx="12" ry="30" stroke-width="1.6" fill="#fff" transform="rotate(-10 1258 775)" />
<ellipse cx="1285.9" cy="774.1" rx="40.6" ry="42.4" stroke-width="2.4" fill="#fff" />
<path d="M1268,740 C1262,760 1258,780 1256,800 L1268,796 C1272,780 1278,760 1282,742 Z" stroke-width="1.6" fill="#555" />
<path d="M1278.8,735.3 L1284.7,774.1 L1255.3,798.8" stroke-width="2.4" fill="none" />
<path d="M1292.9,743.5 L1284.7,774.1 L1316.5,801.2" stroke-width="2.4" fill="none" />
<path d="M1296,742 C1298.7,743.7 1307,747.3 1312,752 C1317,756.7 1323.7,767 1326,770" stroke-width="2.2" fill="none" />
<path d="M1270,738 C1268.7,741.7 1264.5,750.5 1262,760 C1259.5,769.5 1256.2,789.2 1255,795" stroke-width="1.4" fill="none" />
<path d="M1300,745 C1303.3,747.5 1314.7,754.8 1320,760 C1325.3,765.2 1330,773.3 1332,776" stroke-width="1.4" fill="none" />
<path d="M1262,800 L1285,790 L1312,800" stroke-width="1.4" fill="none" />
<path d="M1325.9,780 L1335.3,783 L1333,800 L1325,798" stroke-width="1.6" fill="#fff" />
<ellipse cx="1304.7" cy="781.2" rx="7.5" ry="7.5" stroke-width="1.6" fill="#fff" />
<ellipse cx="1304.7" cy="781.2" rx="3.8" ry="3.8" stroke-width="1" fill="#000" />
<line x1="1304" y1="781" x2="1330" y2="790" stroke-width="1.2" />
<ellipse cx="1351.8" cy="820" rx="8.5" ry="9.5" stroke-width="1.4" fill="#fff" />
<path d="M1343,814 L1336,811 L1335,817 L1342,821" stroke-width="1.2" fill="#fff" />
<path d="M472,1232.4 L80,1336 C68,1339 64,1344 60,1354 L44,1396 C41,1403 37,1406 30,1408 L7,1413.5" stroke-width="11.5" fill="none" />
<path d="M472,1232.4 L80,1336 C68,1339 64,1344 60,1354 L44,1396 C41,1403 37,1406 30,1408 L7,1413.5" stroke-width="7.5" fill="none" stroke="#fff"/>
<ellipse cx="6" cy="1413.5" rx="3" ry="6" stroke-width="1.6" fill="#fff" transform="rotate(-20 6 1413.5)" />
<path d="M352.1,1055 L352.1,1236 L355,1239 L368,1239 L371.1,1236 L371.1,1055" stroke-width="2" fill="#fff" />
<line x1="352.5" y1="1198" x2="370.5" y2="1199" stroke-width="1" />
<line x1="352.5" y1="1201" x2="370.5" y2="1202" stroke-width="1" />
<line x1="352.5" y1="1204" x2="370.5" y2="1205" stroke-width="1" />
<line x1="352.5" y1="1207" x2="370.5" y2="1208" stroke-width="1" />
<line x1="352.5" y1="1210" x2="370.5" y2="1211" stroke-width="1" />
<line x1="352.5" y1="1213" x2="370.5" y2="1214" stroke-width="1" />
<line x1="352.5" y1="1216" x2="370.5" y2="1217" stroke-width="1" />
<line x1="352.5" y1="1219" x2="370.5" y2="1220" stroke-width="1" />
<line x1="352.5" y1="1222" x2="370.5" y2="1223" stroke-width="1" />
<line x1="352.5" y1="1225" x2="370.5" y2="1226" stroke-width="1" />
<line x1="352.5" y1="1228" x2="370.5" y2="1229" stroke-width="1" />
<line x1="352.5" y1="1231" x2="370.5" y2="1232" stroke-width="1" />
<line x1="352.5" y1="1234" x2="370.5" y2="1235" stroke-width="1" />
<line x1="352.5" y1="1237" x2="370.5" y2="1238" stroke-width="1" />
<path d="M343.5,1037 L350,1031 L371,1031 L378.5,1037 L378.5,1049 L371,1055 L350,1055 L343.5,1049 Z" stroke-width="2" fill="#fff" />
<path d="M343.5,1037 L352,1041 L369,1041 L378.5,1037" stroke-width="1.4" fill="none" />
<line x1="352" y1="1041" x2="352" y2="1055" stroke-width="1.4" />
<line x1="369" y1="1041" x2="369" y2="1055" stroke-width="1.4" />
<path d="M328.8,1305 L328.8,1452 C340,1462 372,1462 384.3,1452 L384.3,1300" stroke-width="2" fill="#fff" />
<ellipse cx="356.5" cy="1301" rx="27.7" ry="8" stroke-width="2" fill="#fff" />
<path d="M346,1297 L352,1294 L362,1294 L367,1298 L362,1302 L351,1302 Z" stroke-width="1.2" fill="none" />
<ellipse cx="325" cy="1313" rx="7" ry="12" stroke-width="1.8" fill="#fff" />
<ellipse cx="325" cy="1313" rx="3.5" ry="7" stroke-width="1.2" fill="none" />
<line x1="329" y1="1420" x2="360" y2="1424" stroke-width="1.2" />
<line x1="329" y1="1437" x2="360" y2="1440" stroke-width="1.2" />
<ellipse cx="404" cy="1386" rx="45" ry="63.7" stroke-width="2.2" fill="#fff" transform="rotate(-8 404 1386)" />
<ellipse cx="402" cy="1387" rx="40" ry="59" stroke-width="1.2" fill="none" transform="rotate(-8 402 1387)" />
<ellipse cx="397" cy="1388" rx="33" ry="55" stroke-width="1.2" fill="none" transform="rotate(-8 397 1388)" />
<ellipse cx="385.6" cy="1389.4" rx="26" ry="51" stroke-width="2" fill="#fff" transform="rotate(-12 385.6 1389.4)" />
<path d="M343,1360 L372,1352 L375,1370 L346,1378" stroke-width="1.6" fill="#fff" />
<line x1="345" y1="1368" x2="374" y2="1361" stroke-width="1.1" />
<path d="M368,1448 L388,1444" stroke-width="1.6" fill="none" />
<path d="M316.8,1568 C313,1620 313,1690 318,1733.8 L393.2,1733.8 C397,1690 397,1620 393.9,1568 Z" stroke-width="2" fill="#fff" />
<path d="M322,1580 C321,1640 321,1690 323,1728 Q333.0,1733 343,1728 C345,1690 345,1640 344,1580 Q333.0,1570 322,1580 Z" stroke-width="1.2" fill="none" />
<path d="M347,1580 C346,1640 346,1690 348,1728 Q357.0,1733 366,1728 C368,1690 368,1640 367,1580 Q357.0,1570 347,1580 Z" stroke-width="1.2" fill="none" />
<path d="M374,1580 C373,1640 373,1690 375,1728 Q381.5,1733 388,1728 C390,1690 390,1640 389,1580 Q381.5,1570 374,1580 Z" stroke-width="1.2" fill="none" />
<path d="M317.7,1738 L317.7,1768 C325,1780 386,1780 393.2,1768 L393.2,1738" stroke-width="2" fill="#fff" />
<ellipse cx="355.5" cy="1737" rx="38" ry="5" stroke-width="1.6" fill="#fff" />
<path d="M275,1536 C275,1556 320,1568 355,1568 C392,1568 435.5,1556 435.5,1536" stroke-width="2" fill="#fff" />
<ellipse cx="355.2" cy="1533.4" rx="80.3" ry="31" stroke-width="2" fill="#fff" />
<path d="M285,1542 C310,1556 400,1556 428,1542" stroke-width="1" fill="none" />
<path d="M326,1500 L326,1532 C340,1542 370,1542 384.6,1532 L384.6,1500" stroke-width="1.8" fill="#fff" />
<ellipse cx="355.3" cy="1500" rx="29.3" ry="7" stroke-width="1.6" fill="#fff" />
<path d="M335.3,1480 L335.3,1500 C345,1506 366,1506 375.7,1500 L375.7,1480" stroke-width="1.8" fill="#fff" />
<ellipse cx="355.5" cy="1479" rx="20.2" ry="6" stroke-width="1.8" fill="#fff" />
<ellipse cx="355.5" cy="1479" rx="11" ry="3.2" stroke-width="1.2" fill="none" />
<g transform="translate(773.7,1225.5) rotate(-13)">
<path d="M122,-62 L205,-62 A20.5,62 0 0 1 205,62 L122,62 A20.5,62 0 0 1 122,-62 Z" stroke-width="2.6" fill="#fff" />
<line x1="141" y1="-55.7" x2="209" y2="-55.7" stroke-width="7.5" />
<line x1="141" y1="-55.7" x2="209" y2="-55.7" stroke-width="4.1" stroke="#fff"/>
<line x1="145.7" y1="-46.1" x2="213.7" y2="-46.1" stroke-width="7.5" />
<line x1="145.7" y1="-46.1" x2="213.7" y2="-46.1" stroke-width="4.1" stroke="#fff"/>
<line x1="149.4" y1="-32.9" x2="217.4" y2="-32.9" stroke-width="7.5" />
<line x1="149.4" y1="-32.9" x2="217.4" y2="-32.9" stroke-width="4.1" stroke="#fff"/>
<line x1="151.7" y1="-17.1" x2="219.7" y2="-17.1" stroke-width="7.5" />
<line x1="151.7" y1="-17.1" x2="219.7" y2="-17.1" stroke-width="4.1" stroke="#fff"/>
<line x1="152.5" y1="0" x2="220.5" y2="0" stroke-width="7.5" />
<line x1="152.5" y1="0" x2="220.5" y2="0" stroke-width="4.1" stroke="#fff"/>
<line x1="151.7" y1="17.1" x2="219.7" y2="17.1" stroke-width="7.5" />
<line x1="151.7" y1="17.1" x2="219.7" y2="17.1" stroke-width="4.1" stroke="#fff"/>
<line x1="149.4" y1="32.9" x2="217.4" y2="32.9" stroke-width="7.5" />
<line x1="149.4" y1="32.9" x2="217.4" y2="32.9" stroke-width="4.1" stroke="#fff"/>
<line x1="145.7" y1="46.1" x2="213.7" y2="46.1" stroke-width="7.5" />
<line x1="145.7" y1="46.1" x2="213.7" y2="46.1" stroke-width="4.1" stroke="#fff"/>
<line x1="141.3" y1="55.2" x2="209.3" y2="55.2" stroke-width="7.5" />
<line x1="141.3" y1="55.2" x2="209.3" y2="55.2" stroke-width="4.1" stroke="#fff"/>
<ellipse cx="122" cy="0" rx="20" ry="62" stroke-width="2" fill="none" />
<ellipse cx="128" cy="0" rx="20" ry="62" stroke-width="1.2" fill="none" />
<path d="M40,-54 L128,-60 A20,60 0 0 1 128,58 L40,46 A14,50 0 0 1 40,-54 Z" stroke-width="1.6" fill="#0a0a0a" />
<ellipse cx="70" cy="-20" rx="1.5" ry="1.5" stroke-width="0" fill="#fff" stroke="none"/>
<ellipse cx="90" cy="-14" rx="1.5" ry="1.5" stroke-width="0" fill="#fff" stroke="none"/>
<ellipse cx="78" cy="10" rx="1.5" ry="1.5" stroke-width="0" fill="#fff" stroke="none"/>
<ellipse cx="96" cy="20" rx="1.5" ry="1.5" stroke-width="0" fill="#fff" stroke="none"/>
<ellipse cx="64" cy="30" rx="1.5" ry="1.5" stroke-width="0" fill="#fff" stroke="none"/>
<ellipse cx="58" cy="-36" rx="1.5" ry="1.5" stroke-width="0" fill="#fff" stroke="none"/>
<ellipse cx="100" cy="-35" rx="1.5" ry="1.5" stroke-width="0" fill="#fff" stroke="none"/>
<ellipse cx="110" cy="5" rx="1.5" ry="1.5" stroke-width="0" fill="#fff" stroke="none"/>
<ellipse cx="85" cy="38" rx="1.5" ry="1.5" stroke-width="0" fill="#fff" stroke="none"/>
<ellipse cx="52" cy="0" rx="1.5" ry="1.5" stroke-width="0" fill="#fff" stroke="none"/>
<line x1="50" y1="-50" x2="52" y2="44" stroke-width="1" stroke="#fff"/>
<path d="M8,-38 L40,-54 L40,46 L12,36 Z" stroke-width="2" fill="#fff" />
<path d="M30,-48 C30.7,-41.7 34,-24.7 34,-10 C34,4.7 30.7,31.7 30,40" stroke-width="1.2" fill="none" />
<path d="M0,-27 L14,-27 A10.8,27 0 0 1 14,27 L0,27 A10.8,27 0 0 1 0,-27 Z" stroke-width="2.2" fill="#fff" />
<ellipse cx="0" cy="0" rx="10.8" ry="27" stroke-width="2.2" fill="none" />
<ellipse cx="0" cy="0" rx="7" ry="19" stroke-width="2" fill="none" />
<path d="M-3,-12 L3,-16 L6,-6 L6,8 L0,14 L-5,6 Z" stroke-width="1.4" fill="none" />
</g>
<g transform="translate(1077,1148.5) rotate(-14)">
<path d="M0,-57 L76,-57 A23.9,57 0 0 1 76,57 L0,57 A23.9,57 0 0 1 0,-57 Z" stroke-width="2.6" fill="#fff" />
<line x1="19.2" y1="-50.3" x2="81.2" y2="-50.3" stroke-width="7.5" />
<line x1="19.2" y1="-50.3" x2="81.2" y2="-50.3" stroke-width="4.1" stroke="#fff"/>
<line x1="24.6" y1="-41" x2="86.6" y2="-41" stroke-width="7.5" />
<line x1="24.6" y1="-41" x2="86.6" y2="-41" stroke-width="4.1" stroke="#fff"/>
<line x1="28.7" y1="-28.5" x2="90.7" y2="-28.5" stroke-width="7.5" />
<line x1="28.7" y1="-28.5" x2="90.7" y2="-28.5" stroke-width="4.1" stroke="#fff"/>
<line x1="31.2" y1="-13.8" x2="93.2" y2="-13.8" stroke-width="7.5" />
<line x1="31.2" y1="-13.8" x2="93.2" y2="-13.8" stroke-width="4.1" stroke="#fff"/>
<line x1="31.9" y1="2" x2="93.9" y2="2" stroke-width="7.5" />
<line x1="31.9" y1="2" x2="93.9" y2="2" stroke-width="4.1" stroke="#fff"/>
<line x1="30.8" y1="17.6" x2="92.8" y2="17.6" stroke-width="7.5" />
<line x1="30.8" y1="17.6" x2="92.8" y2="17.6" stroke-width="4.1" stroke="#fff"/>
<line x1="27.8" y1="31.9" x2="89.8" y2="31.9" stroke-width="7.5" />
<line x1="27.8" y1="31.9" x2="89.8" y2="31.9" stroke-width="4.1" stroke="#fff"/>
<line x1="23.4" y1="43.7" x2="85.4" y2="43.7" stroke-width="7.5" />
<line x1="23.4" y1="43.7" x2="85.4" y2="43.7" stroke-width="4.1" stroke="#fff"/>
<line x1="18.1" y1="51.7" x2="80.1" y2="51.7" stroke-width="7.5" />
<line x1="18.1" y1="51.7" x2="80.1" y2="51.7" stroke-width="4.1" stroke="#fff"/>
<ellipse cx="0" cy="0" rx="24" ry="57" stroke-width="2.4" fill="#fff" />
<ellipse cx="2" cy="0" rx="20" ry="50" stroke-width="1.4" fill="none" />
<ellipse cx="4" cy="0" rx="15" ry="42" stroke-width="2" fill="none" />
<ellipse cx="15" cy="0" rx="2.5" ry="4" stroke-width="1.2" fill="none" />
<ellipse cx="11.8" cy="21.2" rx="2.5" ry="4" stroke-width="1.2" fill="none" />
<ellipse cx="4" cy="30" rx="2.5" ry="4" stroke-width="1.2" fill="none" />
<ellipse cx="-3.8" cy="21.2" rx="2.5" ry="4" stroke-width="1.2" fill="none" />
<ellipse cx="-7" cy="0" rx="2.5" ry="4" stroke-width="1.2" fill="none" />
<ellipse cx="-3.8" cy="-21.2" rx="2.5" ry="4" stroke-width="1.2" fill="none" />
<ellipse cx="4" cy="-30" rx="2.5" ry="4" stroke-width="1.2" fill="none" />
<ellipse cx="11.8" cy="-21.2" rx="2.5" ry="4" stroke-width="1.2" fill="none" />
<path d="M-28,-22 L0,-30 L0,30 L-28,22 Z" stroke-width="1.8" fill="#fff" />
<ellipse cx="-28" cy="0" rx="8" ry="22" stroke-width="1.8" fill="#fff" />
<path d="M-44,-14 L-28,-14 A6.3,14 0 0 1 -28,14 L-44,14 A6.3,14 0 0 1 -44,-14 Z" stroke-width="2" fill="#fff" />
<path d="M-58,-13 L-44,-13 A6.5,13 0 0 1 -44,13 L-58,13 A6.5,13 0 0 1 -58,-13 Z" stroke-width="2" fill="#fff" />
<ellipse cx="-58" cy="0" rx="6.5" ry="13" stroke-width="2" fill="none" />
<ellipse cx="-58" cy="0" rx="4" ry="7" stroke-width="1.2" fill="none" />
</g>
<path d="M1018,1621 L1038.7,1612.8 L1039.5,1622.3 L1020,1630" stroke-width="1.8" fill="#fff" />
<path d="M958.2,1610 L977.3,1604.6 L1001.9,1599.1 C1012,1604 1018,1612 1020,1625 C1022,1640 1020,1648 1015.5,1652.3 L971.9,1664.6 Z" stroke-width="2" fill="#fff" />
<line x1="980" y1="1603" x2="977" y2="1661" stroke-width="1" />
<line x1="985" y1="1602.4" x2="982.3" y2="1659.5" stroke-width="1" />
<line x1="990" y1="1601.8" x2="987.6" y2="1658" stroke-width="1" />
<line x1="995" y1="1601.2" x2="992.9" y2="1656.5" stroke-width="1" />
<line x1="1000" y1="1600.6" x2="998.2" y2="1655" stroke-width="1" />
<line x1="1005" y1="1600" x2="1003.5" y2="1653.5" stroke-width="1" />
<line x1="1010" y1="1599.4" x2="1008.8" y2="1652" stroke-width="1" />
<line x1="1015" y1="1598.8" x2="1014.1" y2="1650.5" stroke-width="1" />
<path d="M975,1606 C975.8,1611 980.2,1626.3 980,1636 C979.8,1645.7 975,1659.3 974,1664" stroke-width="1.3" fill="none" />
<path d="M835.5,1630.5 L928.2,1604.6 L941.9,1607.3 C952,1615 958,1635 960,1655 C960,1668 957,1676 952.8,1681 L850,1708.2 C838,1696 830,1675 830,1655 C830,1645 832,1637 835.5,1630.5 Z" stroke-width="2" fill="#fff" />
<line x1="838" y1="1632" x2="950" y2="1604" stroke-width="1" />
<line x1="838" y1="1637.5" x2="950" y2="1609.8" stroke-width="1" />
<line x1="838" y1="1643.1" x2="950" y2="1615.7" stroke-width="1" />
<line x1="838" y1="1648.6" x2="950" y2="1621.5" stroke-width="1" />
<line x1="838" y1="1654.2" x2="950" y2="1627.4" stroke-width="1" />
<line x1="838" y1="1659.7" x2="950" y2="1633.2" stroke-width="1" />
<line x1="838" y1="1665.2" x2="950" y2="1639.1" stroke-width="1" />
<line x1="838" y1="1670.8" x2="950" y2="1644.9" stroke-width="1" />
<line x1="838" y1="1676.3" x2="950" y2="1650.8" stroke-width="1" />
<line x1="838" y1="1681.8" x2="950" y2="1656.6" stroke-width="1" />
<line x1="838" y1="1687.4" x2="950" y2="1662.5" stroke-width="1" />
<line x1="838" y1="1692.9" x2="950" y2="1668.3" stroke-width="1" />
<line x1="838" y1="1698.5" x2="950" y2="1674.2" stroke-width="1" />
<line x1="838" y1="1704" x2="950" y2="1680" stroke-width="1" />
<path d="M842,1630 C843.7,1635.8 850.3,1652.5 852,1665 C853.7,1677.5 852,1698.3 852,1705" stroke-width="1.2" fill="none" />
<path d="M930,1605 C932.5,1610.8 942,1627.5 945,1640 C948,1652.5 947.5,1673.3 948,1680" stroke-width="1.2" fill="none" />
<path d="M737.3,1690 L790,1676 L792,1690 L740,1703" stroke-width="1.8" fill="#fff" />
<ellipse cx="738" cy="1696.5" rx="3.5" ry="6.5" stroke-width="1.6" fill="#fff" transform="rotate(-15 738 1696.5)" />
<path d="M837.1,1669.6 L832.4,1676.2 L839.5,1681.3 L833.7,1686.3 L840.3,1692.9 L833.8,1696.1 L839.6,1704.1 L832.5,1705.5 L837.3,1714.6 L829.9,1714 L833.6,1723.9 L826.1,1721.4 L828.5,1731.7 L821.2,1727.5 L822.3,1737.9 L815.4,1731.9 L815.2,1742 L809,1734.6 L807.3,1744.2 L802,1735.5 L799,1744.1 L794.8,1734.6 L790.6,1741.9 L787.6,1731.8 L782.3,1737.6 L780.6,1727.2 L774.4,1731.4 L774.1,1721.1 L767.2,1723.5 L768.3,1713.7 L761,1714.2 L763.3,1705.1 L755.9,1703.7 L759.5,1695.7 L752.1,1692.4 L756.8,1685.8 L749.7,1680.7 L755.5,1675.7 L748.9,1669.1 L755.4,1665.9 L749.6,1657.9 L756.7,1656.5 L751.9,1647.4 L759.3,1648 L755.6,1638.1 L763.1,1640.6 L760.7,1630.3 L768,1634.5 L766.9,1624.1 L773.8,1630.1 L774,1620 L780.2,1627.4 L781.9,1617.8 L787.2,1626.5 L790.2,1617.9 L794.4,1627.4 L798.6,1620.1 L801.6,1630.2 L806.9,1624.4 L808.6,1634.8 L814.8,1630.6 L815.1,1640.9 L822,1638.5 L820.9,1648.3 L828.2,1647.8 L825.9,1656.9 L833.3,1658.3 L829.7,1666.3 Z" stroke-width="1.4" fill="#fff" />
<ellipse cx="800.6" cy="1679" rx="38.3" ry="59.2" stroke-width="2" fill="none" transform="rotate(-15 800.6 1679)" />
<line x1="813.7" y1="1675.9" x2="836.8" y2="1685.1" stroke-width="1.0" />
<line x1="815.3" y1="1683.1" x2="837" y2="1695.8" stroke-width="1.0" />
<line x1="816.2" y1="1690.2" x2="835.8" y2="1706.1" stroke-width="1.0" />
<line x1="816.3" y1="1697" x2="833.2" y2="1715.4" stroke-width="1.0" />
<line x1="815.7" y1="1703.3" x2="829.3" y2="1723.6" stroke-width="1.0" />
<line x1="814.4" y1="1708.8" x2="824.2" y2="1730.4" stroke-width="1.0" />
<line x1="812.4" y1="1713.3" x2="818.1" y2="1735.5" stroke-width="1.0" />
<line x1="809.8" y1="1716.8" x2="811.2" y2="1738.7" stroke-width="1.0" />
<line x1="806.7" y1="1719" x2="803.7" y2="1739.9" stroke-width="1.0" />
<line x1="803.2" y1="1720" x2="796" y2="1739.2" stroke-width="1.0" />
<line x1="799.3" y1="1719.6" x2="788.1" y2="1736.5" stroke-width="1.0" />
<line x1="795.3" y1="1717.9" x2="780.5" y2="1731.8" stroke-width="1.0" />
<line x1="791.3" y1="1714.9" x2="773.4" y2="1725.5" stroke-width="1.0" />
<line x1="787.4" y1="1710.8" x2="767" y2="1717.6" stroke-width="1.0" />
<line x1="783.8" y1="1705.7" x2="761.5" y2="1708.5" stroke-width="1.0" />
<line x1="780.5" y1="1699.8" x2="757.2" y2="1698.4" stroke-width="1.0" />
<line x1="777.7" y1="1693.1" x2="754.1" y2="1687.8" stroke-width="1.0" />
<line x1="775.5" y1="1686.1" x2="752.4" y2="1676.9" stroke-width="1.0" />
<line x1="773.9" y1="1678.9" x2="752.2" y2="1666.2" stroke-width="1.0" />
<line x1="773" y1="1671.8" x2="753.4" y2="1655.9" stroke-width="1.0" />
<line x1="772.9" y1="1665" x2="756" y2="1646.6" stroke-width="1.0" />
<line x1="773.5" y1="1658.7" x2="759.9" y2="1638.4" stroke-width="1.0" />
<line x1="774.8" y1="1653.2" x2="765" y2="1631.6" stroke-width="1.0" />
<line x1="776.8" y1="1648.7" x2="771.1" y2="1626.5" stroke-width="1.0" />
<line x1="779.4" y1="1645.2" x2="778" y2="1623.3" stroke-width="1.0" />
<line x1="782.5" y1="1643" x2="785.5" y2="1622.1" stroke-width="1.0" />
<line x1="786" y1="1642" x2="793.2" y2="1622.8" stroke-width="1.0" />
<line x1="789.9" y1="1642.4" x2="801.1" y2="1625.5" stroke-width="1.0" />
<line x1="793.9" y1="1644.1" x2="808.7" y2="1630.2" stroke-width="1.0" />
<line x1="797.9" y1="1647.1" x2="815.8" y2="1636.5" stroke-width="1.0" />
<line x1="801.8" y1="1651.2" x2="822.2" y2="1644.4" stroke-width="1.0" />
<line x1="805.4" y1="1656.3" x2="827.7" y2="1653.5" stroke-width="1.0" />
<line x1="808.7" y1="1662.2" x2="832" y2="1663.6" stroke-width="1.0" />
<line x1="811.5" y1="1668.9" x2="835.1" y2="1674.2" stroke-width="1.0" />
<ellipse cx="783.7" cy="1681" rx="16.1" ry="42.2" stroke-width="2" fill="#fff" transform="rotate(-15 783.7 1681)" />
<ellipse cx="785" cy="1681" rx="9.9" ry="34.1" stroke-width="1.2" fill="none" transform="rotate(-15 785 1681)" />
<path d="M752,1688 L788,1678 L790,1690 L754,1699" stroke-width="1.8" fill="#fff" />
<ellipse cx="786" cy="1684" rx="4" ry="7" stroke-width="1.4" fill="#fff" />
<g transform="translate(650,1718) rotate(-15)">
<path d="M0,-15.7 L24,-15.7 A8.2,15.7 0 0 1 24,15.7 L0,15.7 A8.2,15.7 0 0 1 0,-15.7 Z" stroke-width="2" fill="#fff" />
<ellipse cx="0" cy="0" rx="8.2" ry="15.7" stroke-width="2" fill="none" />
<ellipse cx="0" cy="0" rx="4.5" ry="9" stroke-width="1.4" fill="none" />
</g>
<g transform="translate(699.1,1708.2) rotate(-15)">
<path d="M0,-25 L24,-25 A13.8,25 0 0 1 24,25 L0,25 A13.8,25 0 0 1 0,-25 Z" stroke-width="2" fill="#fff" />
<ellipse cx="0" cy="0" rx="13.8" ry="25" stroke-width="2" fill="none" />
<ellipse cx="0" cy="0" rx="10" ry="18" stroke-width="1.2" fill="none" />
<ellipse cx="0" cy="0" rx="6.5" ry="11" stroke-width="1.2" fill="none" />
<ellipse cx="0" cy="0" rx="3" ry="5.5" stroke-width="1.2" fill="#000" />
</g>
<g transform="translate(670,1244) rotate(-10.6)">
<path d="M3.4,-3.2 L73.7,-2.9 L73.7,2.9 L3.4,3.2" stroke-width="2" fill="#fff" />
<line x1="45.7" y1="-3" x2="47.2" y2="3" stroke-width="1.1" />
<line x1="48.3" y1="-3" x2="49.8" y2="3" stroke-width="1.1" />
<line x1="50.9" y1="-3" x2="52.4" y2="3" stroke-width="1.1" />
<line x1="53.5" y1="-3" x2="55" y2="3" stroke-width="1.1" />
<line x1="56.1" y1="-3" x2="57.6" y2="3" stroke-width="1.1" />
<line x1="58.7" y1="-3" x2="60.2" y2="3" stroke-width="1.1" />
<line x1="61.3" y1="-3" x2="62.8" y2="3" stroke-width="1.1" />
<line x1="63.9" y1="-3" x2="65.4" y2="3" stroke-width="1.1" />
<line x1="66.5" y1="-3" x2="68" y2="3" stroke-width="1.1" />
<line x1="69.1" y1="-3" x2="70.6" y2="3" stroke-width="1.1" />
<ellipse cx="0" cy="0" rx="4.7" ry="8.5" stroke-width="2" fill="#fff" />
<ellipse cx="-1" cy="0" rx="3" ry="5.1" stroke-width="1.1" fill="none" />
</g>
<g transform="translate(1060.3,1611.6) rotate(-15)">
<path d="M0,-22 L20,-22 A13.6,22 0 0 1 20,22 L0,22 A13.6,22 0 0 1 0,-22 Z" stroke-width="2" fill="#fff" />
<ellipse cx="0" cy="0" rx="13.6" ry="22" stroke-width="2" fill="none" />
<ellipse cx="0" cy="0" rx="9" ry="15" stroke-width="1.2" fill="none" />
<ellipse cx="0" cy="0" rx="5.5" ry="9" stroke-width="1.2" fill="none" />
<ellipse cx="0" cy="0" rx="2.5" ry="4" stroke-width="1.2" fill="#000" />
</g>
<path d="M1020,1618 L1036,1614 L1038,1630 L1022,1634" stroke-width="1.6" fill="#fff" />
<ellipse cx="1098.1" cy="1601.5" rx="11.6" ry="20.4" stroke-width="3.4" fill="none" transform="rotate(-15 1098.1 1601.5)" />
<path d="M1115.8,1466.6 L1156.1,1456.6 L1204,1483 L1214.1,1500.7 L1221.7,1538.5 L1228,1556 L1229.2,1594 L1226.7,1621.7 L1216.6,1651.9 L1206.5,1664.5 L1171.2,1674.6 L1153.6,1672 L1125.9,1651.9 L1112,1621.7 L1122.1,1615.4 L1115.8,1571.2 L1113.3,1518.3 L1104.4,1504.4 L1109.5,1488 Z" stroke-width="2.6" fill="#fff" />
<ellipse cx="1170" cy="1582" rx="40.8" ry="70.7" stroke-width="1.1" fill="none" transform="rotate(-10 1170 1582)" />
<ellipse cx="1171" cy="1580" rx="28.9" ry="54.6" stroke-width="1.1" fill="none" transform="rotate(-10 1171 1580)" />
<ellipse cx="1171.2" cy="1581.3" rx="21.2" ry="40.1" stroke-width="2.2" fill="none" transform="rotate(-10 1171.2 1581.3)" />
<ellipse cx="1173" cy="1580" rx="18.2" ry="36.4" stroke-width="1.1" fill="none" transform="rotate(-10 1173 1580)" />
<path d="M1120,1470 L1150,1462 L1200,1488" stroke-width="1.2" fill="none" />
<path d="M1140,1480 L1155,1476 L1158,1505 L1143,1509 L1140,1480" stroke-width="1.4" fill="none" />
<path d="M1162,1492 L1172,1490 L1180,1525 L1195,1545 L1200,1555" stroke-width="1.4" fill="none" />
<path d="M1118,1480 L1128,1476 L1130,1500 L1120,1510" stroke-width="1.2" fill="none" />
<path d="M1185,1551 L1200,1550 L1203,1580" stroke-width="1.3" fill="none" />
<path d="M1120,1625 L1140,1650 L1165,1665 L1175,1660" stroke-width="1.2" fill="none" />
<ellipse cx="1158" cy="1655" rx="3.5" ry="5" stroke-width="1.2" fill="none" />
<path d="M1165,1658 L1178,1663 L1180,1668" stroke-width="1.3" fill="none" />
<g transform="translate(1243.1,1503.2) rotate(-14.3)">
<path d="M3.4,-3.2 L122.3,-2.9 L122.3,2.9 L3.4,3.2" stroke-width="2" fill="#fff" />
<line x1="97.8" y1="-3" x2="99.3" y2="3" stroke-width="1.1" />
<line x1="100.4" y1="-3" x2="101.9" y2="3" stroke-width="1.1" />
<line x1="103" y1="-3" x2="104.5" y2="3" stroke-width="1.1" />
<line x1="105.6" y1="-3" x2="107.1" y2="3" stroke-width="1.1" />
<line x1="108.2" y1="-3" x2="109.7" y2="3" stroke-width="1.1" />
<line x1="110.8" y1="-3" x2="112.3" y2="3" stroke-width="1.1" />
<line x1="113.4" y1="-3" x2="114.9" y2="3" stroke-width="1.1" />
<line x1="116" y1="-3" x2="117.5" y2="3" stroke-width="1.1" />
<line x1="118.6" y1="-3" x2="120.1" y2="3" stroke-width="1.1" />
<ellipse cx="0" cy="0" rx="4.7" ry="8.5" stroke-width="2" fill="#fff" />
<ellipse cx="-1" cy="0" rx="3" ry="5.1" stroke-width="1.1" fill="none" />
</g>
<g transform="translate(1304.8,1669.6) rotate(-13.8)">
<path d="M3.4,-3.2 L122,-2.9 L122,2.9 L3.4,3.2" stroke-width="2" fill="#fff" />
<line x1="95.2" y1="-3" x2="96.7" y2="3" stroke-width="1.1" />
<line x1="97.8" y1="-3" x2="99.3" y2="3" stroke-width="1.1" />
<line x1="100.4" y1="-3" x2="101.9" y2="3" stroke-width="1.1" />
<line x1="103" y1="-3" x2="104.5" y2="3" stroke-width="1.1" />
<line x1="105.6" y1="-3" x2="107.1" y2="3" stroke-width="1.1" />
<line x1="108.2" y1="-3" x2="109.7" y2="3" stroke-width="1.1" />
<line x1="110.8" y1="-3" x2="112.3" y2="3" stroke-width="1.1" />
<line x1="113.4" y1="-3" x2="114.9" y2="3" stroke-width="1.1" />
<line x1="116" y1="-3" x2="117.5" y2="3" stroke-width="1.1" />
<line x1="118.6" y1="-3" x2="120.1" y2="3" stroke-width="1.1" />
<ellipse cx="0" cy="0" rx="4.7" ry="8.5" stroke-width="2" fill="#fff" />
<ellipse cx="-1" cy="0" rx="3" ry="5.1" stroke-width="1.1" fill="none" />
</g>
<path d="M1342.7,1504.2 L1368,1496 L1368,1504 L1342.7,1512.2 Z" stroke-width="1.8" fill="#fff" />
<path d="M1342.7,1567.2 L1368,1560 L1368,1568 L1342.7,1575.2 Z" stroke-width="1.8" fill="#fff" />
<path d="M1554.4,1481.5 L1572,1476 L1572,1484 L1554.4,1489.5 Z" stroke-width="1.8" fill="#fff" />
<path d="M1554.4,1552 L1572,1547 L1572,1555 L1554.4,1560 Z" stroke-width="1.8" fill="#fff" />
<path d="M1378,1484.3 L1499,1452.8 L1546.8,1455.3 L1554.4,1470.4 L1554.4,1541 L1531.7,1581.3 L1501.5,1594 L1423.3,1612.8 L1372.9,1611.6 L1365.4,1596.5 L1365.4,1503.2 Z" stroke-width="2.6" fill="#fff" />
<path d="M1420,1490 C1422,1496.7 1429.3,1516.7 1432,1530 C1434.7,1543.3 1437.2,1556.3 1436,1570 C1434.8,1583.7 1426.8,1605 1425,1612" stroke-width="1.8" fill="none" />
<path d="M1425,1487 C1427.5,1492.5 1436.3,1507.8 1440,1520 C1443.7,1532.2 1447,1545.8 1447,1560 C1447,1574.2 1441.2,1597.5 1440,1605" stroke-width="1.2" fill="none" />
<line x1="1430" y1="1495" x2="1550" y2="1465" stroke-width="1.2" />
<line x1="1440" y1="1520" x2="1553" y2="1490" stroke-width="1.2" />
<line x1="1445" y1="1550" x2="1553" y2="1522" stroke-width="1.2" />
<line x1="1445" y1="1575" x2="1545" y2="1550" stroke-width="1.2" />
<line x1="1440" y1="1598" x2="1530" y2="1578" stroke-width="1.2" />
<path d="M1500,1454 C1505,1455.3 1522,1459 1530,1462 C1538,1465 1545,1470.3 1548,1472" stroke-width="1.2" fill="none" />
<path d="M1378,1486 C1390,1480 1405,1482 1418,1492 L1412,1530 C1400,1520 1385,1512 1372,1510 Z" stroke-width="1.4" fill="#fff" />
<line x1="1380" y1="1488" x2="1414" y2="1496" stroke-width="1" />
<line x1="1380" y1="1492" x2="1414" y2="1501" stroke-width="1" />
<line x1="1380" y1="1496" x2="1414" y2="1506" stroke-width="1" />
<line x1="1380" y1="1500" x2="1414" y2="1511" stroke-width="1" />
<line x1="1380" y1="1504" x2="1414" y2="1516" stroke-width="1" />
<line x1="1380" y1="1508" x2="1414" y2="1521" stroke-width="1" />
<path d="M1372,1566 C1390,1560 1405,1565 1420,1580 L1418,1608 C1400,1600 1385,1598 1372,1596 Z" stroke-width="1.4" fill="#fff" />
<line x1="1376" y1="1570" x2="1416" y2="1584" stroke-width="1" />
<line x1="1376" y1="1576" x2="1416" y2="1589" stroke-width="1" />
<line x1="1376" y1="1582" x2="1416" y2="1594" stroke-width="1" />
<line x1="1376" y1="1588" x2="1416" y2="1599" stroke-width="1" />
<line x1="1376" y1="1594" x2="1416" y2="1604" stroke-width="1" />
<path d="M1392,1532 L1432,1522 L1432,1530 L1392,1540 Z" stroke-width="1.8" fill="#fff" />
<path d="M1392,1596 L1432,1586 L1432,1594 L1392,1604 Z" stroke-width="1.8" fill="#fff" />
<path d="M1470.6,1261 Q1469,1259 1472,1258 L1569,1233.5 Q1572,1233 1572.5,1236 L1573.6,1280 Q1573.6,1283 1571,1283.5 L1474,1308 Q1471.8,1308.5 1471.8,1305 Z" stroke-width="1.6" fill="none" />
<path d="M1604.7,1223.5 L1614.1,1220 L1663.5,1210.6 L1793,1189.4 L1807,1190.6 L1818.8,1197.6 L1822.4,1209.4 L1818.8,1223.5 L1814,1233 L1675.3,1285.9 L1665.9,1282.4 L1647,1284.7 L1637.6,1287 L1637.6,1290.6 L1628.2,1291.8 L1609.4,1280 L1604.7,1273 L1604.7,1247 L1601.2,1242.4 Z" stroke-width="2.2" fill="#fff" />
<ellipse cx="1675.3" cy="1229" rx="29" ry="11" stroke-width="1.8" fill="#fff" />
<path d="M1646.3,1229 L1646.3,1222 A29,11 0 0 1 1704.3,1222 L1704.3,1229" stroke-width="1.6" fill="#fff" />
<ellipse cx="1675.3" cy="1222" rx="29" ry="10" stroke-width="1.8" fill="#fff" />
<path d="M1604.7,1247 L1640,1256 L1665,1270" stroke-width="1.2" fill="none" />
<path d="M1620,1240 L1660,1250 L1680,1260 L1720,1248 L1810,1228" stroke-width="1.2" fill="none" />
<path d="M1656,1256 C1657.5,1258.3 1663,1265.2 1665,1270 C1667,1274.8 1667.5,1282.5 1668,1285" stroke-width="1.6" fill="none" />
<line x1="1640" y1="1260" x2="1640" y2="1288" stroke-width="1.2" />
<line x1="1606" y1="1262" x2="1640" y2="1260" stroke-width="1.2" />
<path d="M1610,1280 L1612,1290 L1625,1292 L1628,1291" stroke-width="1.4" fill="none" />
<line x1="1772" y1="1201" x2="1790" y2="1198" stroke-width="2" />
<line x1="1775" y1="1204.5" x2="1793" y2="1201.5" stroke-width="2" />
<line x1="1778" y1="1208" x2="1796" y2="1205" stroke-width="2" />
<line x1="1781" y1="1211.5" x2="1799" y2="1208.5" stroke-width="2" />
<line x1="1784" y1="1215" x2="1802" y2="1212" stroke-width="2" />
<line x1="1787" y1="1218.5" x2="1805" y2="1215.5" stroke-width="2" />
<path d="M1790,1196 L1810,1193 L1812,1210 L1795,1212" stroke-width="1.4" fill="none" />
<line x1="1795" y1="1211" x2="1800" y2="1196" stroke-width="1.1" />
<line x1="1799" y1="1211" x2="1804" y2="1196" stroke-width="1.1" />
<line x1="1803" y1="1211" x2="1808" y2="1196" stroke-width="1.1" />
<line x1="1807" y1="1211" x2="1812" y2="1196" stroke-width="1.1" />
<path d="M1822,1205 C1824.7,1201.7 1832,1190.2 1838,1185 C1844,1179.8 1851.3,1174.8 1858,1174 C1864.7,1173.2 1873.7,1175.7 1878,1180 C1882.3,1184.3 1885,1192.3 1884,1200 C1883,1207.7 1877.7,1218.5 1872,1226 C1866.3,1233.5 1857,1240.5 1850,1245 C1843,1249.5 1833.3,1251.7 1830,1253" stroke-width="2.4" fill="none" />
<path d="M1802,1254 L1826,1249 L1830,1259 L1806,1264 Z" stroke-width="1.4" fill="#fff" />
<path d="M1822,1213 C1826.7,1212.5 1840.3,1208.8 1850,1210 C1859.7,1211.2 1870.8,1214.2 1880,1220 C1889.2,1225.8 1899.5,1238 1905,1245 C1910.5,1252 1913,1257 1913,1262 C1913,1267 1907.5,1272.3 1905,1275 C1902.5,1277.7 1899.2,1277.5 1898,1278" stroke-width="2" fill="none" />
<path d="M1871,1277 L1895,1272 L1899,1282 L1874,1287 Z" stroke-width="1.4" fill="#fff" />
<path d="M1823,1219 C1826.7,1219.5 1839.7,1218.5 1845,1222 C1850.3,1225.5 1852.8,1227 1855,1240 C1857.2,1253 1856.2,1282.5 1858,1300 C1859.8,1317.5 1863,1331.7 1866,1345 C1869,1358.3 1874.3,1374.2 1876,1380" stroke-width="2" fill="none" />
<path d="M1874.5,1383 L1882.5,1383 L1882.5,1415 L1874.5,1415 Z" stroke-width="1.4" fill="#fff" />
<line x1="1874.5" y1="1398" x2="1882.5" y2="1398" stroke-width="1.2" />
<path d="M1820,1311.8 L1838.8,1308.2 L1838.8,1377.6 L1820,1382.4 Z" stroke-width="1.4" fill="none" />
<path d="M1965,1235 L1994,1229.7 L2001.6,1234 L2001.6,1238 L1998,1240 L1998,1285 L1993,1287 L1993,1300 L1975,1304 L1973,1290 L1968,1288 L1965,1240 Z" stroke-width="1.8" fill="#fff" />
<path d="M1975,1243 L1975,1286 L1992,1283 L1992,1240" stroke-width="1.2" fill="none" />
<line x1="1968" y1="1260" x2="1969" y2="1280" stroke-width="1.2" />
<ellipse cx="1986" cy="1262" rx="2" ry="3" stroke-width="1" fill="none" />
<path d="M2011.7,1266 L2044,1262.4 L2045.7,1278 L2013,1283.9 Z" stroke-width="1.6" fill="#fff" />
<line x1="2018" y1="1268" x2="2018" y2="1281" stroke-width="1" />
<line x1="2023.5" y1="1268" x2="2023.5" y2="1281" stroke-width="1" />
<line x1="2029" y1="1268" x2="2029" y2="1281" stroke-width="1" />
<line x1="2034.5" y1="1268" x2="2034.5" y2="1281" stroke-width="1" />
<line x1="2040" y1="1268" x2="2040" y2="1281" stroke-width="1" />
<path d="M2020,1284 C2021.7,1285.7 2023.3,1292 2030,1294 C2036.7,1296 2046.3,1296 2060,1296 C2073.7,1296 2097,1293 2112,1294 C2127,1295 2140.7,1299 2150,1302 C2159.3,1305 2164,1308.3 2168,1312 C2172,1315.7 2173,1322 2174,1324" stroke-width="1.6" fill="none" />
<path d="M2024,1284 C2025.7,1285.2 2027.7,1289.5 2034,1291 C2040.3,1292.5 2048.7,1293 2062,1293 C2075.3,1293 2099,1290 2114,1291 C2129,1292 2142.7,1295.8 2152,1299 C2161.3,1302.2 2165.8,1306.2 2170,1310 C2174.2,1313.8 2175.8,1320 2177,1322" stroke-width="1.2" fill="none" />
<path d="M2028,1283 C2029.7,1283.8 2032,1286.8 2038,1288 C2044,1289.2 2051,1290 2064,1290 C2077,1290 2100.7,1287 2116,1288 C2131.3,1289 2146.5,1292.7 2156,1296 C2165.5,1299.3 2169,1304 2173,1308 C2177,1312 2178.8,1318 2180,1320" stroke-width="1.2" fill="none" />
<path d="M2151.6,1319.1 L2190,1309 L2217.1,1313 L2217.1,1462.8 L2164.2,1470.4 L2164,1420 L2151.6,1420 Z" stroke-width="2" fill="#fff" />
<path d="M2151.6,1330 L2190,1320 L2217,1324" stroke-width="1.2" fill="none" />
<line x1="2190" y1="1320" x2="2190" y2="1420" stroke-width="1.2" />
<path d="M2164,1360 L2217,1350" stroke-width="1.2" fill="none" />
<path d="M2164,1400 L2217,1392" stroke-width="1.2" fill="none" />
<line x1="2175" y1="1420" x2="2175" y2="1468" stroke-width="1.1" />
<line x1="2204" y1="1300" x2="2206" y2="1313" stroke-width="2.2" />
<path d="M2072.2,1331.7 L2096.1,1339.3 L2151.6,1326.7 L2151.6,1420 L2133.9,1425 L2108.7,1415 L2096.1,1369.6 Z" stroke-width="2" fill="#fff" />
<path d="M2097,1340 L2110,1336 L2112,1326 L2118,1326 L2120,1335" stroke-width="1.4" fill="none" />
<path d="M2100,1350 C2103,1355 2113.3,1368.3 2118,1380 C2122.7,1391.7 2126.3,1413.3 2128,1420" stroke-width="1" fill="none" />
<ellipse cx="2194.4" cy="1382.2" rx="17" ry="18" stroke-width="1.6" fill="#fff" />
<ellipse cx="2198" cy="1384" rx="12" ry="14" stroke-width="1.4" fill="#fff" />
<path d="M2216,1340 C2217.3,1342.7 2223.2,1350.7 2224,1356 C2224.8,1361.3 2222.7,1368.7 2221,1372 C2219.3,1375.3 2215.2,1375.3 2214,1376" stroke-width="1.4" fill="none" />
<g transform="translate(2249.9,1257.4) rotate(33.1)">
<path d="M2.6,-3.4 L34.6,-3.1 L34.6,3.1 L2.6,3.4" stroke-width="2" fill="#fff" />
<line x1="8.7" y1="-3.2" x2="10.2" y2="3.2" stroke-width="1.1" />
<line x1="11.3" y1="-3.2" x2="12.8" y2="3.2" stroke-width="1.1" />
<line x1="13.9" y1="-3.2" x2="15.4" y2="3.2" stroke-width="1.1" />
<line x1="16.5" y1="-3.2" x2="18" y2="3.2" stroke-width="1.1" />
<line x1="19.1" y1="-3.2" x2="20.6" y2="3.2" stroke-width="1.1" />
<line x1="21.7" y1="-3.2" x2="23.2" y2="3.2" stroke-width="1.1" />
<line x1="24.3" y1="-3.2" x2="25.8" y2="3.2" stroke-width="1.1" />
<line x1="26.9" y1="-3.2" x2="28.4" y2="3.2" stroke-width="1.1" />
<line x1="29.5" y1="-3.2" x2="31" y2="3.2" stroke-width="1.1" />
<ellipse cx="0" cy="0" rx="3.6" ry="6.5" stroke-width="2" fill="#fff" />
<ellipse cx="-1" cy="0" rx="2.3" ry="3.9" stroke-width="1.1" fill="none" />
</g>
<g transform="translate(2253.7,1378.4) rotate(32)">
<path d="M2.6,-3.4 L35.6,-3.1 L35.6,3.1 L2.6,3.4" stroke-width="2" fill="#fff" />
<line x1="8.9" y1="-3.2" x2="10.4" y2="3.2" stroke-width="1.1" />
<line x1="11.5" y1="-3.2" x2="13" y2="3.2" stroke-width="1.1" />
<line x1="14.1" y1="-3.2" x2="15.6" y2="3.2" stroke-width="1.1" />
<line x1="16.7" y1="-3.2" x2="18.2" y2="3.2" stroke-width="1.1" />
<line x1="19.3" y1="-3.2" x2="20.8" y2="3.2" stroke-width="1.1" />
<line x1="21.9" y1="-3.2" x2="23.4" y2="3.2" stroke-width="1.1" />
<line x1="24.5" y1="-3.2" x2="26" y2="3.2" stroke-width="1.1" />
<line x1="27.1" y1="-3.2" x2="28.6" y2="3.2" stroke-width="1.1" />
<line x1="29.7" y1="-3.2" x2="31.2" y2="3.2" stroke-width="1.1" />
<line x1="32.3" y1="-3.2" x2="33.8" y2="3.2" stroke-width="1.1" />
<ellipse cx="0" cy="0" rx="3.6" ry="6.5" stroke-width="2" fill="#fff" />
<ellipse cx="-1" cy="0" rx="2.3" ry="3.9" stroke-width="1.1" fill="none" />
</g>
<g transform="translate(2237.3,1418.7) rotate(30.4)">
<path d="M2.6,-3.4 L35,-3.1 L35,3.1 L2.6,3.4" stroke-width="2" fill="#fff" />
<line x1="8.8" y1="-3.2" x2="10.3" y2="3.2" stroke-width="1.1" />
<line x1="11.4" y1="-3.2" x2="12.9" y2="3.2" stroke-width="1.1" />
<line x1="14" y1="-3.2" x2="15.5" y2="3.2" stroke-width="1.1" />
<line x1="16.6" y1="-3.2" x2="18.1" y2="3.2" stroke-width="1.1" />
<line x1="19.2" y1="-3.2" x2="20.7" y2="3.2" stroke-width="1.1" />
<line x1="21.8" y1="-3.2" x2="23.3" y2="3.2" stroke-width="1.1" />
<line x1="24.4" y1="-3.2" x2="25.9" y2="3.2" stroke-width="1.1" />
<line x1="27" y1="-3.2" x2="28.5" y2="3.2" stroke-width="1.1" />
<line x1="29.6" y1="-3.2" x2="31.1" y2="3.2" stroke-width="1.1" />
<line x1="32.2" y1="-3.2" x2="33.7" y2="3.2" stroke-width="1.1" />
<ellipse cx="0" cy="0" rx="3.6" ry="6.5" stroke-width="2" fill="#fff" />
<ellipse cx="-1" cy="0" rx="2.3" ry="3.9" stroke-width="1.1" fill="none" />
</g>
<g transform="translate(2279,1568) rotate(31.6)">
<path d="M2.6,-3.4 L30.5,-3.1 L30.5,3.1 L2.6,3.4" stroke-width="2" fill="#fff" />
<line x1="7.6" y1="-3.2" x2="9.1" y2="3.2" stroke-width="1.1" />
<line x1="10.2" y1="-3.2" x2="11.7" y2="3.2" stroke-width="1.1" />
<line x1="12.8" y1="-3.2" x2="14.3" y2="3.2" stroke-width="1.1" />
<line x1="15.4" y1="-3.2" x2="16.9" y2="3.2" stroke-width="1.1" />
<line x1="18" y1="-3.2" x2="19.5" y2="3.2" stroke-width="1.1" />
<line x1="20.6" y1="-3.2" x2="22.1" y2="3.2" stroke-width="1.1" />
<line x1="23.2" y1="-3.2" x2="24.7" y2="3.2" stroke-width="1.1" />
<line x1="25.8" y1="-3.2" x2="27.3" y2="3.2" stroke-width="1.1" />
<ellipse cx="0" cy="0" rx="3.6" ry="6.5" stroke-width="2" fill="#fff" />
<ellipse cx="-1" cy="0" rx="2.3" ry="3.9" stroke-width="1.1" fill="none" />
</g>
<g transform="translate(2651.3,1330.2) rotate(28.6)">
<path d="M2.6,-3.4 L37.4,-3.1 L37.4,3.1 L2.6,3.4" stroke-width="2" fill="#fff" />
<line x1="9.3" y1="-3.2" x2="10.8" y2="3.2" stroke-width="1.1" />
<line x1="11.9" y1="-3.2" x2="13.4" y2="3.2" stroke-width="1.1" />
<line x1="14.5" y1="-3.2" x2="16" y2="3.2" stroke-width="1.1" />
<line x1="17.1" y1="-3.2" x2="18.6" y2="3.2" stroke-width="1.1" />
<line x1="19.7" y1="-3.2" x2="21.2" y2="3.2" stroke-width="1.1" />
<line x1="22.3" y1="-3.2" x2="23.8" y2="3.2" stroke-width="1.1" />
<line x1="24.9" y1="-3.2" x2="26.4" y2="3.2" stroke-width="1.1" />
<line x1="27.5" y1="-3.2" x2="29" y2="3.2" stroke-width="1.1" />
<line x1="30.1" y1="-3.2" x2="31.6" y2="3.2" stroke-width="1.1" />
<line x1="32.7" y1="-3.2" x2="34.2" y2="3.2" stroke-width="1.1" />
<ellipse cx="0" cy="0" rx="3.6" ry="6.5" stroke-width="2" fill="#fff" />
<ellipse cx="-1" cy="0" rx="2.3" ry="3.9" stroke-width="1.1" fill="none" />
</g>
<path d="M2688.6,1362 L2716,1352.6 L2728,1356 L2731.9,1378 L2705,1388.4 L2690,1386 Z" stroke-width="1.6" fill="#fff" />
<path d="M2688.6,1362 L2700,1366 L2702,1388" stroke-width="1.2" fill="none" />
<path d="M2700,1366 L2728,1356" stroke-width="1.2" fill="none" />
<line x1="2704" y1="1372" x2="2716" y2="1368" stroke-width="1.1" />
<line x1="2704" y1="1378" x2="2716" y2="1374" stroke-width="1.1" />
<ellipse cx="2722" cy="1366" rx="3" ry="3.5" stroke-width="1.1" fill="none" />
<path d="M2294.3,1312.3 L2304.8,1298.8 L2343.6,1286.9 L2364.5,1288.4 L2379.5,1295.8 L2382.5,1307.8 L2373.5,1325.7 L2376.5,1345.1 L2397.4,1376.5 L2415.3,1415.3 L2427.3,1469.1 L2434.7,1528.8 L2439.2,1603.5 L2437.7,1651.3 L2427.3,1666.2 L2400.4,1672.2 L2395.9,1687.1 L2361.6,1678.2 L2360.1,1657.3 L2364.5,1618.4 L2355.6,1588.5 L2339.2,1549.7 L2331.7,1522.8 L2319.7,1490 L2306.3,1463.1 L2294.3,1433.2 L2327.2,1427.3 L2324.2,1358.6 L2291.4,1360.1 L2304.8,1334.7 Z" stroke-width="2.8" fill="#fff" />
<path d="M2298.8,1317.3 L2308.7,1304.2 L2345.2,1292.7 L2364.8,1294.1 L2378.9,1301.3 L2381.7,1313 L2373.3,1330.3 L2376.1,1349.1 L2395.8,1379.6 L2412.6,1417.2 L2423.9,1469.4 L2430.8,1527.3 L2435,1599.8 L2433.6,1646.2 L2423.9,1660.6 L2398.6,1666.4" stroke-width="1.2" fill="none" />
<path d="M2370,1330 C2373.7,1337 2385.7,1357 2392,1372 C2398.3,1387 2403.7,1402 2408,1420 C2412.3,1438 2415.3,1456.7 2418,1480 C2420.7,1503.3 2422.7,1531.7 2424,1560 C2425.3,1588.3 2425.7,1635 2426,1650" stroke-width="1.2" fill="none" />
<path d="M2330,1345 C2345,1335 2365,1345 2375,1370 C2380,1400 2370,1425 2335,1440 Z" stroke-width="1.4" fill="#fff" />
<line x1="2333" y1="1350" x2="2372" y2="1348" stroke-width="1" />
<line x1="2333" y1="1360" x2="2372" y2="1358" stroke-width="1" />
<line x1="2333" y1="1370" x2="2372" y2="1368" stroke-width="1" />
<line x1="2333" y1="1380" x2="2372" y2="1378" stroke-width="1" />
<line x1="2333" y1="1390" x2="2372" y2="1388" stroke-width="1" />
<line x1="2333" y1="1400" x2="2372" y2="1398" stroke-width="1" />
<line x1="2333" y1="1410" x2="2372" y2="1408" stroke-width="1" />
<line x1="2333" y1="1420" x2="2372" y2="1418" stroke-width="1" />
<line x1="2333" y1="1430" x2="2372" y2="1428" stroke-width="1" />
<path d="M2340,1372 L2362,1366 L2364,1384 L2344,1390" stroke-width="1.4" fill="#fff" />
<path d="M2345,1375 L2358,1372 L2359,1383 L2346,1386" stroke-width="1.1" fill="none" />
<ellipse cx="2347" cy="1309" rx="10" ry="10" stroke-width="1.2" fill="#fff" />
<ellipse cx="2352" cy="1312" rx="9" ry="10" stroke-width="1.6" fill="#fff" />
<ellipse cx="2353" cy="1312" rx="5" ry="6" stroke-width="1.2" fill="none" />
<ellipse cx="2373" cy="1449" rx="10" ry="10" stroke-width="1.2" fill="#fff" />
<ellipse cx="2378" cy="1452" rx="9" ry="10" stroke-width="1.6" fill="#fff" />
<ellipse cx="2379" cy="1452" rx="5" ry="6" stroke-width="1.2" fill="none" />
<ellipse cx="2393" cy="1619" rx="10" ry="10" stroke-width="1.2" fill="#fff" />
<ellipse cx="2398" cy="1622" rx="9" ry="10" stroke-width="1.6" fill="#fff" />
<ellipse cx="2399" cy="1622" rx="5" ry="6" stroke-width="1.2" fill="none" />
<ellipse cx="2322" cy="1462" rx="6" ry="7" stroke-width="1.4" fill="#fff" />
<path d="M2335,1470 L2356,1460 L2380,1470 L2380,1530 L2368,1532 L2368,1480 L2348,1480" stroke-width="1.2" fill="none" />
<path d="M2340,1540 L2352,1538 L2360,1545 L2350,1555" stroke-width="1.2" fill="none" />
<path d="M2368,1650 C2370.8,1650.8 2379.7,1653.3 2385,1655 C2390.3,1656.7 2393.3,1660.8 2400,1660 C2406.7,1659.2 2420.8,1651.7 2425,1650" stroke-width="1.2" fill="none" />
<path d="M2513.9,1283.9 L2525.8,1280.9 L2540.8,1289.9 L2546.7,1304.8 L2542.3,1324.2 L2537.8,1328.7 L2558.7,1352.6 L2576.6,1376.5 L2588.5,1409.3 L2600.5,1469.1 L2609.5,1528.8 L2615.4,1588.5 L2616.9,1642.3 L2611,1657.3 L2585.6,1669.2 L2552.7,1675.2 L2525.8,1669.2 L2527.3,1654.3 L2537.8,1618.4 L2534.8,1582.6 L2522.8,1558.7 L2512.4,1543.8 L2522.8,1540.8 L2513.9,1499 L2494.5,1475 L2494.5,1469.1 L2516.9,1457.1 L2546.7,1446.7 L2551.2,1388.4 L2522.8,1389.9 L2513.9,1370.5 L2510.9,1331.7 L2515.4,1319.7 L2522.8,1298.8 Z" stroke-width="2.8" fill="#fff" />
<path d="M2546,1330 C2549.3,1335 2560.3,1348.3 2566,1360 C2571.7,1371.7 2576,1381.7 2580,1400 C2584,1418.3 2587,1446.7 2590,1470 C2593,1493.3 2595.7,1511.7 2598,1540 C2600.3,1568.3 2603,1623.3 2604,1640" stroke-width="1.6" fill="none" />
<path d="M2525,1320 C2525.8,1325 2526.7,1339.2 2530,1350 C2533.3,1360.8 2542.5,1379.2 2545,1385" stroke-width="1.2" fill="none" />
<line x1="2558" y1="1390" x2="2576" y2="1386" stroke-width="1.1" />
<line x1="2560" y1="1399" x2="2577.5" y2="1395" stroke-width="1.1" />
<line x1="2562" y1="1408" x2="2579" y2="1404" stroke-width="1.1" />
<line x1="2564" y1="1417" x2="2580.5" y2="1413" stroke-width="1.1" />
<line x1="2566" y1="1426" x2="2582" y2="1422" stroke-width="1.1" />
<line x1="2568" y1="1435" x2="2583.5" y2="1431" stroke-width="1.1" />
<path d="M2497,1471 L2520,1465 L2548,1454 L2572,1452" stroke-width="1.2" fill="none" />
<ellipse cx="2548.6" cy="1527.2" rx="19" ry="27" stroke-width="1.2" fill="none" transform="rotate(-10 2548.6 1527.2)" />
<ellipse cx="2552" cy="1524" rx="12" ry="18" stroke-width="2" fill="none" transform="rotate(-10 2552 1524)" />
<path d="M2537,1490 L2545,1510" stroke-width="1" fill="none" />
<path d="M2558,1555 C2559.3,1562.5 2562.3,1585 2566,1600 C2569.7,1615 2577.7,1637.5 2580,1645" stroke-width="1" fill="none" />
<path d="M1582,1447 L1582,1397.2 L1592.1,1378.2 L1630,1368 L1636,1373 L1744.1,1342.3 L1802.5,1373.8 L1805.5,1394.3 L1802.5,1409 L1847.8,1406 L1859.5,1426.4 L1858,1447 L1849.3,1461.5 L1834.7,1464.4 L1836.2,1493.6 L1808.4,1505.3 L1793.8,1520 L1747,1540.4 L1682.7,1563.8 L1647.7,1572.5 L1627.2,1574 L1612.6,1566.7 L1589.2,1511.2 Z" stroke-width="2.6" fill="#fff" />
<path d="M1636,1373 L1640,1400" stroke-width="1.4" fill="none" />
<path d="M1600,1390 L1636,1380 L1744,1352 L1798,1380 L1802,1400" stroke-width="1.2" fill="none" />
<path d="M1640,1400 L1680,1392 L1744,1372 L1760,1372" stroke-width="1.2" fill="none" />
<path d="M1744,1342.3 L1744,1370" stroke-width="1.1" fill="none" />
<path d="M1760,1370 L1790,1364 L1800,1376" stroke-width="1.1" fill="none" />
<path d="M1682,1425 C1683.3,1434.2 1689,1460.8 1690,1480 C1691,1499.2 1689.3,1526.2 1688,1540 C1686.7,1553.8 1683,1559.2 1682,1563" stroke-width="1.6" fill="none" />
<path d="M1650,1420 C1655,1418.3 1665,1414.2 1680,1410 C1695,1405.8 1720,1398.7 1740,1395 C1760,1391.3 1790,1389.2 1800,1388" stroke-width="1.4" fill="none" />
<path d="M1705,1480 L1804,1453 L1806,1500 L1705,1526 Z" stroke-width="1.2" fill="none" />
<ellipse cx="1625.7" cy="1496" rx="38.3" ry="78.6" stroke-width="2" fill="#fff" transform="rotate(-8 1625.7 1496)" />
<ellipse cx="1627" cy="1494" rx="31.8" ry="70.5" stroke-width="1.2" fill="none" transform="rotate(-8 1627 1494)" />
<path d="M1600,1525 L1660,1510 L1665,1565" stroke-width="1.2" fill="none" />
<path d="M1600,1540 L1650,1530" stroke-width="1.2" fill="none" />
<path d="M1592,1410 L1592,1384 L1603,1381 L1606,1400" stroke-width="1.4" fill="none" />
<ellipse cx="1597" cy="1392" rx="2.5" ry="3.5" stroke-width="1" fill="none" />
<ellipse cx="1652" cy="1420" rx="2.5" ry="3.5" stroke-width="1" fill="none" />
<path d="M1645,1416 L1648,1440 L1655,1445" stroke-width="1.2" fill="none" />
<path d="M1805,1412 L1840,1405 L1850,1408 L1858,1426 L1857,1447 L1848,1460" stroke-width="1.6" fill="none" />
<line x1="1830" y1="1412" x2="1836" y2="1462" stroke-width="1.4" />
<line x1="1842" y1="1408" x2="1850" y2="1460" stroke-width="1.2" />
<path d="M1805,1500 L1836,1493" stroke-width="1.2" fill="none" />
<path d="M1677,1600 Q1675.4,1598 1678,1597 L1773,1571.5 Q1776.2,1571 1776.5,1574 L1777.7,1617 Q1777.7,1620 1775,1621 L1679,1646.5 Q1675.4,1647.5 1675.4,1644 Z" stroke-width="1.6" fill="none" />
<text x="1726" y="1622" font-size="28" font-weight="bold" font-style="italic" text-anchor="middle" stroke="none" fill="#000" transform="rotate(-14 1726 1615)" letter-spacing="-1">metabo</text>
<path d="M1713.4,1663.1 L1792.3,1644.1 L1792.3,1663.1 L1714.9,1682.1 Z" stroke-width="2.4" fill="#fff" />
<line x1="1718" y1="1670" x2="1788" y2="1652" stroke-width="1.4" />
<line x1="1719" y1="1676" x2="1788" y2="1658" stroke-width="1.4" />
<line x1="1736" y1="1662" x2="1737" y2="1676" stroke-width="1" />
<path d="M1814.2,1530.2 L1833.2,1526.4 L1833.2,1594.5 L1814.2,1598.3 Z" stroke-width="1.4" fill="none" />
<path d="M1817,1553 L1824,1534 L1830,1552" stroke-width="1.1" fill="none" />
<path d="M1817,1575 L1824,1592 L1830,1573" stroke-width="1.1" fill="none" />
<path d="M1820,1553 L1820,1575" stroke-width="1.1" fill="none" />
<path d="M1828,1552 L1828,1573" stroke-width="1.1" fill="none" />
<path d="M1840.5,1505.3 L1875,1498 L1896,1511.2 L1860,1520 L1847.8,1520 Z" stroke-width="1.4" fill="#fff" />
<path d="M1878.5,1479 L1878.5,1500 L1886,1508 L1886,1495" stroke-width="1.4" fill="none" />
<ellipse cx="1888" cy="1504" rx="2" ry="3" stroke-width="1" fill="none" />
<ellipse cx="1858" cy="1509" rx="7" ry="2.5" stroke-width="1.1" fill="none" />
<path d="M1925.3,1387 L1937,1385.5 L1937,1414.7 L1925.3,1412 Z" stroke-width="1.6" fill="#fff" />
<ellipse cx="1985.2" cy="1420.6" rx="47.8" ry="65.3" stroke-width="2.2" fill="#fff" transform="rotate(-8 1985.2 1420.6)" />
<ellipse cx="1983" cy="1421" rx="43.6" ry="61.3" stroke-width="1.2" fill="none" transform="rotate(-8 1983 1421)" />
<ellipse cx="1972" cy="1423.5" rx="22.7" ry="47.2" stroke-width="1.6" fill="#fff" transform="rotate(-8 1972 1423.5)" />
<path d="M1969,1368 L1971,1340 L1983,1333 L2003,1334 L2005.6,1340 L2004,1368" stroke-width="1.8" fill="#fff" />
<line x1="1981" y1="1336" x2="1981" y2="1350" stroke-width="1.2" />
<path d="M1964.7,1476 L1966,1500 L1974,1504 L2004.2,1500 L2004,1476" stroke-width="1.8" fill="#fff" />
<path d="M2008.6,1426.4 L2036,1420 L2039.3,1430 L2039.3,1455 L2010,1458.6" stroke-width="1.8" fill="#fff" />
<line x1="2008" y1="1440" x2="2036" y2="1434" stroke-width="1.2" />
<path d="M1960,1372 L1978,1368 L1983,1385 L1965,1388" stroke-width="1.6" fill="#fff" />
<path d="M1960,1450 L1983,1447 L1985,1463 L1962,1465" stroke-width="1.6" fill="#fff" />
<path d="M1973.5,1534 L1976,1528 L1993,1525.8 L1996,1530 L1996,1545 L2004,1545 L2004,1588 L2013,1586 L2013,1593 L1976,1597.4 L1973.5,1590 Z" stroke-width="1.8" fill="#fff" />
<line x1="1976" y1="1545" x2="2004" y2="1542" stroke-width="1.2" />
<path d="M1982,1555 L1996,1553 L1996,1590 L1982,1592 Z" stroke-width="1.1" fill="none" />
<path d="M2004,1550 L2008,1549 L2008,1570" stroke-width="1.1" fill="none" />
<path d="M2752,1392 C2751.3,1388.3 2749,1376.7 2748,1370 C2747,1363.3 2746.3,1355 2746,1352" stroke-width="1.6" fill="none" />
<path d="M2764,1392 C2764.7,1388.7 2766.7,1379.7 2768,1372 C2769.3,1364.3 2771.3,1350.3 2772,1346" stroke-width="1.6" fill="none" />
<path d="M2757,1392 C2755.8,1388.3 2751.2,1376.7 2750,1370 C2748.8,1363.3 2750,1355 2750,1352" stroke-width="1.1" fill="none" />
<path d="M2760,1392 C2760.8,1388.3 2763.7,1377.7 2765,1370 C2766.3,1362.3 2767.5,1350 2768,1346" stroke-width="1.1" fill="none" />
<path d="M2747.7,1392 L2747.7,1421 L2766,1421 L2766,1392" stroke-width="1.8" fill="#fff" />
<ellipse cx="2756.8" cy="1392" rx="9.2" ry="3" stroke-width="1.4" fill="#fff" />
<path d="M2734,1422 L2734,1440 L2731.8,1448 L2744.5,1596 L2770.5,1596 L2781.8,1448 L2779.6,1440 L2779.6,1422" stroke-width="2" fill="#fff" />
<ellipse cx="2756.8" cy="1421" rx="22.7" ry="5" stroke-width="1.8" fill="#fff" />
<ellipse cx="2756.8" cy="1436" rx="23" ry="4" stroke-width="1.2" fill="none" />
<ellipse cx="2756.8" cy="1448" rx="25" ry="4" stroke-width="1.2" fill="none" />
<path d="M2745.5,1596 C2744.8,1603.9 2745.9,1628.8 2741,1643.6 C2736.1,1658.3 2727.4,1673.5 2716,1684.5 C2704.6,1695.5 2692.8,1702.7 2672.7,1709.5 C2652.6,1716.3 2608.4,1722.8 2595.5,1725.5" stroke-width="2" fill="none" />
<path d="M2770.5,1596 C2769,1604.7 2767.1,1631.9 2761.4,1648.2 C2755.7,1664.5 2748.1,1681.5 2736.4,1693.6 C2724.7,1705.7 2713.7,1712.9 2691,1720.9 C2668.3,1728.9 2615.2,1738 2600,1741.4" stroke-width="2" fill="none" />
<line x1="2745" y1="1598" x2="2770" y2="1598" stroke-width="2" />
<path d="M2595.5,1725.5 L2593,1732 L2600,1741.4" stroke-width="1.8" fill="none" />
<path d="M2504.5,1740 L2579.5,1720 L2582,1728 L2579.5,1736 L2506,1756" stroke-width="2" fill="#fff" />
<path d="M2461,1742 L2500,1732 C2506,1740 2508,1764 2506,1776 L2466,1782 Z" stroke-width="2" fill="#fff" />
<line x1="2466" y1="1743" x2="2468" y2="1780" stroke-width="1.8" />
<line x1="2471" y1="1741.7" x2="2473" y2="1778.8" stroke-width="1.8" />
<line x1="2476" y1="1740.4" x2="2478" y2="1777.6" stroke-width="1.8" />
<line x1="2481" y1="1739.1" x2="2483" y2="1776.4" stroke-width="1.8" />
<line x1="2486" y1="1737.8" x2="2488" y2="1775.2" stroke-width="1.8" />
<line x1="2491" y1="1736.5" x2="2493" y2="1774" stroke-width="1.8" />
<line x1="2496" y1="1735.2" x2="2498" y2="1772.8" stroke-width="1.8" />
<line x1="2501" y1="1733.9" x2="2503" y2="1771.6" stroke-width="1.8" />
<path d="M2420,1756 C2430,1748 2445,1742 2461,1742 L2466,1782 C2450,1786 2432,1790 2420,1792 Z" stroke-width="2" fill="#fff" />
<ellipse cx="2391" cy="1784.5" rx="29" ry="42" stroke-width="2.2" fill="#fff" transform="rotate(-8 2391 1784.5)" />
<ellipse cx="2398" cy="1783" rx="24" ry="38" stroke-width="1.2" fill="none" transform="rotate(-8 2398 1783)" />
<path d="M2332,1786.8 L2370.5,1779 L2372,1786 L2334,1794 Z" stroke-width="1.8" fill="#fff" />
<ellipse cx="2332" cy="1790.5" rx="2.5" ry="4" stroke-width="1.6" fill="#fff" />
<path d="M2361,1807.3 L2400,1797 L2402,1804 L2363,1814 Z" stroke-width="1.8" fill="#fff" />
<ellipse cx="2361" cy="1811" rx="2.5" ry="4" stroke-width="1.6" fill="#fff" />
<path d="M2385,1745 L2388,1760 L2396,1758 L2394,1745" stroke-width="1.4" fill="none" />
<path d="M2388,1818 L2392,1826 L2400,1822" stroke-width="1.4" fill="none" />
<rect x="1322.5" y="1811.4" width="142" height="190" stroke-width="2" fill="none"/>
<path d="M1329.2,1829.3 C1340,1838 1355,1842 1372,1840 C1390,1838 1395,1833 1398.5,1822 C1405,1816 1420,1816 1435,1818 C1448,1820 1456,1823 1459.7,1830 L1459.7,1980 C1450,1970 1440,1968 1427,1969 C1410,1970 1400,1970 1398.5,1975 C1392,1985 1380,1990 1361,1991 C1345,1990 1335,1987 1329.2,1982 Z" stroke-width="1.4" fill="none" />
<path d="M1410,1837 L1395,1837 L1383,1849 L1381,1869 L1383,1890 L1395,1901.4 L1410,1901.4 M1421,1837 L1437,1837 L1449,1849 L1451,1869 L1449,1890 L1437,1901.4 L1421,1901.4" stroke-width="1.3" fill="none" />
<path d="M1410,1841 L1397,1841 L1387,1851 L1385.5,1869 L1387,1888 L1397,1897.5 L1410,1897.5 M1421,1841 L1435,1841 L1445,1851 L1446.5,1869 L1445,1888 L1435,1897.5 L1421,1897.5" stroke-width="1.1" fill="none" />
<path d="M1392,1856 C1398,1846 1408,1843 1415.5,1843 C1423,1843 1433,1846 1439,1856 M1396,1858 C1402,1850 1409,1848 1415.5,1848 C1422,1848 1429,1850 1435,1858" stroke-width="1.2" fill="none" />
<path d="M1392,1883 C1398,1893 1408,1896 1415.5,1896 C1423,1896 1433,1893 1439,1883 M1396,1881 C1402,1889 1409,1891 1415.5,1891 C1422,1891 1429,1889 1435,1881" stroke-width="1.2" fill="none" />
<ellipse cx="1415.5" cy="1869.7" rx="13.5" ry="13.5" stroke-width="1.4" fill="none" />
<rect x="1397.4" y="1865.4" width="4.4" height="8.6" fill="#000" stroke="none"/>
<rect x="1430" y="1865.4" width="4.5" height="8.6" fill="#000" stroke="none"/>
<line x1="1387.6" y1="1878.5" x2="1387.6" y2="1921" stroke-width="2.6" />
<line x1="1443.3" y1="1878.5" x2="1443.3" y2="1958.2" stroke-width="2.6" />
<path d="M1406.1,1921 L1406.1,1908 L1428.6,1908 L1428.6,1958.2" stroke-width="2.6" fill="none" />
<path d="M1370,1916.3 L1411.6,1916.3 L1411.6,1951.7 L1377,1951.7 L1377,1944 L1370,1944 Z" stroke-width="1.2" fill="none" />
<path d="M1370,1916 L1360,1916 L1358,1910.2 L1341.7,1910.2 L1350,1920 L1354,1942 L1370,1942" stroke-width="1.2" fill="none" />
<ellipse cx="1385" cy="1933" rx="6" ry="6" stroke-width="1.2" fill="none" />
<ellipse cx="1387.6" cy="1921.5" rx="2" ry="1.5" stroke-width="1.2" fill="none" />
<rect x="1404" y="1919" width="4" height="4" stroke-width="1.2" fill="none"/>
<path d="M1428,1966 C1431,1959 1435,1962 1436,1964 C1438,1967 1441,1966 1443,1960" stroke-width="1.4" fill="none" />
<rect x="1599.1" y="1830.1" width="200.6" height="156.8" rx="10" stroke-width="2" fill="#fff"/>
<text x="1603.5" y="1881.4" font-size="66" font-weight="900" textLength="191" lengthAdjust="spacingAndGlyphs" stroke="#000" stroke-width="4" fill="#000">SET</text>
<circle cx="1637" cy="1922.7" r="19.5" stroke-width="16.6" fill="none"/>
<circle cx="1656.4" cy="1950.6" r="19.8" stroke="#fff" stroke-width="20" fill="none"/>
<circle cx="1656.4" cy="1950.6" r="19.5" stroke-width="16.6" fill="none"/>
<rect x="1692" y="1885" width="22" height="50" rx="4" fill="#000" stroke="none"/>
<line x1="1689.5" y1="1893" x2="1693" y2="1893" stroke-width="3.5" />
<line x1="1689.5" y1="1926" x2="1693" y2="1926" stroke-width="3.5" />
<path d="M1712,1893 L1716,1893 L1718.2,1884.5 L1721.2,1893 L1723.2,1893 L1725.4,1884.5 L1728.4,1893 L1730.4,1893 L1732.6,1884.5 L1735.6,1893 L1737.6,1893 L1739.8,1884.5 L1742.8,1893 L1744.8,1893 L1747,1884.5 L1750,1893 L1752,1893 L1754.2,1884.5 L1757.2,1893 L1759.2,1893 L1761.4,1884.5 L1764.4,1893 L1766.4,1893 L1768.6,1884.5 L1771.6,1893 L1773.6,1893 L1775.8,1884.5 L1778.8,1893 L1782,1894 L1784,1900 L1784,1918 L1782,1925 L1778.8,1925 L1775.8,1932 L1773.6,1925 L1771.6,1925 L1768.6,1932 L1766.4,1925 L1764.4,1925 L1761.4,1932 L1759.2,1925 L1757.2,1925 L1754.2,1932 L1752,1925 L1750,1925 L1747,1932 L1744.8,1925 L1742.8,1925 L1739.8,1932 L1737.6,1925 L1735.6,1925 L1732.6,1932 L1730.4,1925 L1728.4,1925 L1725.4,1932 L1723.2,1925 L1721.2,1925 L1718.2,1932 L1716,1925 L1712,1926 Z" stroke-width="1" fill="#000" />
<path d="M1694.2,1939.5 L1707,1939.5 L1707,1980.4 L1694.2,1980.4 Z" stroke-width="2" fill="#fff" />
<path d="M1707,1943 L1776,1946 L1776,1973 L1707,1977" stroke-width="2" fill="#fff" />
<path d="M1776,1946 L1780,1945 L1780,1974 L1776,1973" stroke-width="2" fill="none" />
<path d="M1780,1945 L1790.6,1945 L1790.6,1974 L1780,1974 Z" stroke-width="2" fill="#fff" />
<line x1="1785" y1="1946" x2="1785" y2="1973" stroke-width="1.4" />
<rect x="1800.5" y="1830.6" width="326.6" height="155.8" stroke-width="2.6" fill="#fff"/>
<line x1="1862.2" y1="1830.6" x2="1862.2" y2="1986.4" stroke-width="2" />
<line x1="1923.4" y1="1830.6" x2="1923.4" y2="1986.4" stroke-width="2" />
<line x1="1985.4" y1="1830.6" x2="1985.4" y2="1986.4" stroke-width="2" />
<line x1="2046.2" y1="1830.6" x2="2046.2" y2="1986.4" stroke-width="2" />
<line x1="1800.5" y1="1884" x2="2127.1" y2="1884" stroke-width="2" />
<line x1="1800.5" y1="1934.3" x2="2127.1" y2="1934.3" stroke-width="2" />
<text x="1831" y="1871" font-size="31" text-anchor="middle" letter-spacing="0" font-weight="bold" stroke="none" fill="#000" >20</text>
<text x="1894.8" y="1871" font-size="31" text-anchor="middle" letter-spacing="0" font-weight="bold" stroke="none" fill="#000" >24</text>
<text x="1953.4" y="1871" font-size="31" text-anchor="middle" letter-spacing="0" font-weight="bold" stroke="none" fill="#000" >27</text>
<text x="2013.3" y="1871" font-size="31" text-anchor="middle" letter-spacing="0" font-weight="bold" stroke="none" fill="#000" >30</text>
<text x="2087" y="1869" font-size="31" text-anchor="middle" letter-spacing="1" font-weight="bold" stroke="none" fill="#000" >880</text>
<text x="1833.6" y="1921.3" font-size="31" text-anchor="middle" letter-spacing="0" font-weight="bold" stroke="none" fill="#000" >21</text>
<text x="1893.5" y="1921.3" font-size="31" text-anchor="middle" letter-spacing="0" font-weight="bold" stroke="none" fill="#000" >25</text>
<text x="1957.3" y="1921.3" font-size="31" text-anchor="middle" letter-spacing="0" font-weight="bold" stroke="none" fill="#000" >28</text>
<text x="2012" y="1921.3" font-size="31" text-anchor="middle" letter-spacing="0" font-weight="bold" stroke="none" fill="#000" >31</text>
<text x="1831" y="1972.6" font-size="31" text-anchor="middle" letter-spacing="0" font-weight="bold" stroke="none" fill="#000" >22</text>
<text x="1893" y="1972.6" font-size="31" text-anchor="middle" letter-spacing="0" font-weight="bold" stroke="none" fill="#000" >26</text>
<text x="1956" y="1970" font-size="31" text-anchor="middle" letter-spacing="0" font-weight="bold" stroke="none" fill="#000" >29</text>
<text x="2015" y="1970" font-size="31" text-anchor="middle" letter-spacing="0" font-weight="bold" stroke="none" fill="#000" >70</text>
</svg></body></html>
